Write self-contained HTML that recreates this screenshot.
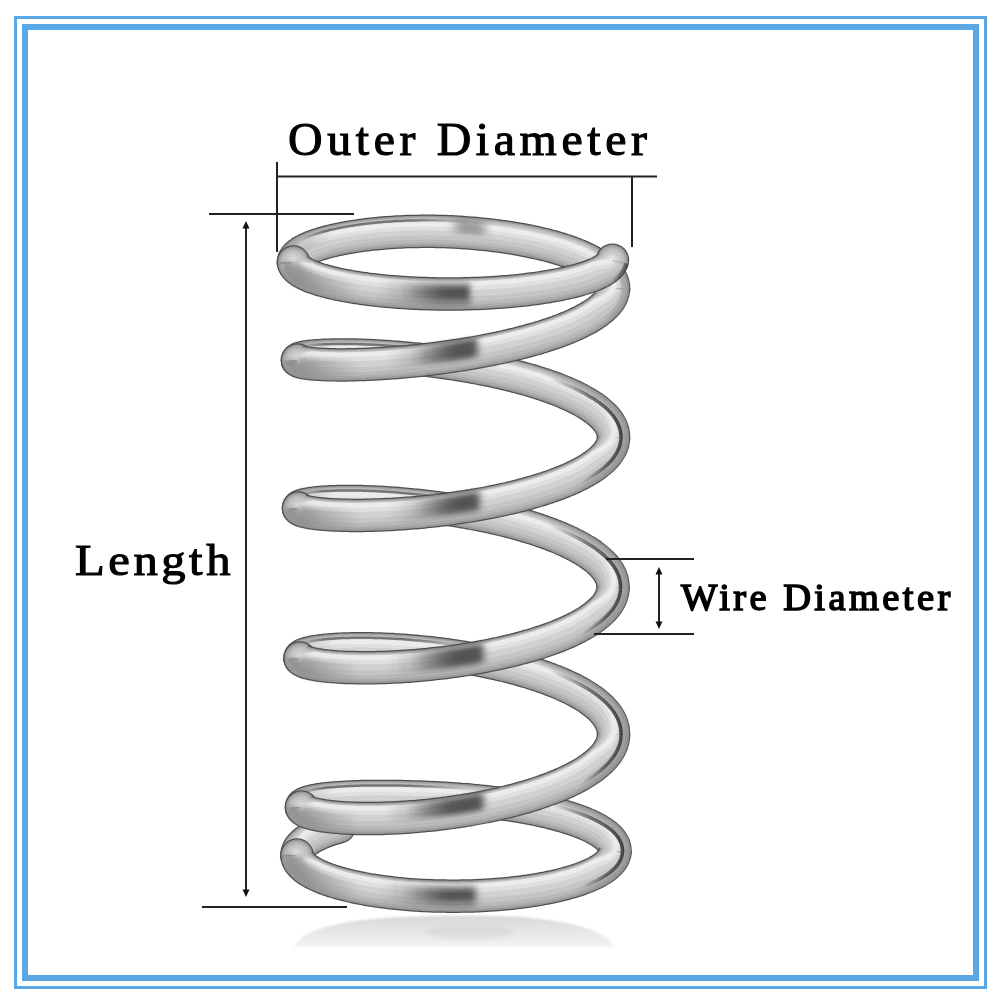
<!DOCTYPE html>
<html><head><meta charset="utf-8">
<style>
html,body{margin:0;padding:0;background:#fff;}
body{width:1000px;height:1000px;position:relative;overflow:hidden;}
.b1{position:absolute;left:14px;top:16px;width:967px;height:967px;border:3px solid #5aa9e6;}
.b2{position:absolute;left:22px;top:24px;width:945px;height:945px;border:6px solid #5aa9e6;}
.t{position:absolute;font-family:"Liberation Serif",serif;color:#000;white-space:nowrap;line-height:1;}
svg{position:absolute;left:0;top:0;}
</style></head><body>
<div class="b1"></div><div class="b2"></div>
<svg width="1000" height="1000" viewBox="0 0 1000 1000">
<defs><linearGradient id="g1" gradientUnits="userSpaceOnUse" x1="378" y1="0" x2="476" y2="0"><stop offset="0.000" stop-color="#3c3c3c" stop-opacity="0"/><stop offset="0.612" stop-color="#3c3c3c" stop-opacity="0.45"/><stop offset="0.898" stop-color="#3c3c3c" stop-opacity="0.45"/><stop offset="1.000" stop-color="#3c3c3c" stop-opacity="0"/></linearGradient><linearGradient id="g2" gradientUnits="userSpaceOnUse" x1="403" y1="0" x2="473" y2="0"><stop offset="0.000" stop-color="#3c3c3c" stop-opacity="0"/><stop offset="0.643" stop-color="#3c3c3c" stop-opacity="0.75"/><stop offset="0.886" stop-color="#3c3c3c" stop-opacity="0.75"/><stop offset="1.000" stop-color="#3c3c3c" stop-opacity="0"/></linearGradient><linearGradient id="g3" gradientUnits="userSpaceOnUse" x1="388" y1="0" x2="483" y2="0"><stop offset="0.000" stop-color="#3c3c3c" stop-opacity="0"/><stop offset="0.632" stop-color="#3c3c3c" stop-opacity="0.45"/><stop offset="0.895" stop-color="#3c3c3c" stop-opacity="0.45"/><stop offset="1.000" stop-color="#3c3c3c" stop-opacity="0"/></linearGradient><linearGradient id="g4" gradientUnits="userSpaceOnUse" x1="413" y1="0" x2="480" y2="0"><stop offset="0.000" stop-color="#3c3c3c" stop-opacity="0"/><stop offset="0.672" stop-color="#3c3c3c" stop-opacity="0.75"/><stop offset="0.881" stop-color="#3c3c3c" stop-opacity="0.75"/><stop offset="1.000" stop-color="#3c3c3c" stop-opacity="0"/></linearGradient><linearGradient id="g5" gradientUnits="userSpaceOnUse" x1="390" y1="0" x2="485" y2="0"><stop offset="0.000" stop-color="#3c3c3c" stop-opacity="0"/><stop offset="0.632" stop-color="#3c3c3c" stop-opacity="0.45"/><stop offset="0.895" stop-color="#3c3c3c" stop-opacity="0.45"/><stop offset="1.000" stop-color="#3c3c3c" stop-opacity="0"/></linearGradient><linearGradient id="g6" gradientUnits="userSpaceOnUse" x1="415" y1="0" x2="482" y2="0"><stop offset="0.000" stop-color="#3c3c3c" stop-opacity="0"/><stop offset="0.672" stop-color="#3c3c3c" stop-opacity="0.75"/><stop offset="0.881" stop-color="#3c3c3c" stop-opacity="0.75"/><stop offset="1.000" stop-color="#3c3c3c" stop-opacity="0"/></linearGradient><linearGradient id="g7" gradientUnits="userSpaceOnUse" x1="388" y1="0" x2="489" y2="0"><stop offset="0.000" stop-color="#3c3c3c" stop-opacity="0"/><stop offset="0.594" stop-color="#3c3c3c" stop-opacity="0.45"/><stop offset="0.901" stop-color="#3c3c3c" stop-opacity="0.45"/><stop offset="1.000" stop-color="#3c3c3c" stop-opacity="0"/></linearGradient><linearGradient id="g8" gradientUnits="userSpaceOnUse" x1="413" y1="0" x2="486" y2="0"><stop offset="0.000" stop-color="#3c3c3c" stop-opacity="0"/><stop offset="0.616" stop-color="#3c3c3c" stop-opacity="0.75"/><stop offset="0.890" stop-color="#3c3c3c" stop-opacity="0.75"/><stop offset="1.000" stop-color="#3c3c3c" stop-opacity="0"/></linearGradient><linearGradient id="g9" gradientUnits="userSpaceOnUse" x1="384" y1="0" x2="489" y2="0"><stop offset="0.000" stop-color="#3c3c3c" stop-opacity="0"/><stop offset="0.571" stop-color="#3c3c3c" stop-opacity="0.45"/><stop offset="0.905" stop-color="#3c3c3c" stop-opacity="0.45"/><stop offset="1.000" stop-color="#3c3c3c" stop-opacity="0"/></linearGradient><linearGradient id="g10" gradientUnits="userSpaceOnUse" x1="409" y1="0" x2="486" y2="0"><stop offset="0.000" stop-color="#3c3c3c" stop-opacity="0"/><stop offset="0.584" stop-color="#3c3c3c" stop-opacity="0.75"/><stop offset="0.896" stop-color="#3c3c3c" stop-opacity="0.75"/><stop offset="1.000" stop-color="#3c3c3c" stop-opacity="0"/></linearGradient><linearGradient id="g11" gradientUnits="userSpaceOnUse" x1="380" y1="0" x2="481" y2="0"><stop offset="0.000" stop-color="#3c3c3c" stop-opacity="0"/><stop offset="0.594" stop-color="#3c3c3c" stop-opacity="0.45"/><stop offset="0.901" stop-color="#3c3c3c" stop-opacity="0.45"/><stop offset="1.000" stop-color="#3c3c3c" stop-opacity="0"/></linearGradient><linearGradient id="g12" gradientUnits="userSpaceOnUse" x1="405" y1="0" x2="478" y2="0"><stop offset="0.000" stop-color="#3c3c3c" stop-opacity="0"/><stop offset="0.616" stop-color="#3c3c3c" stop-opacity="0.75"/><stop offset="0.890" stop-color="#3c3c3c" stop-opacity="0.75"/><stop offset="1.000" stop-color="#3c3c3c" stop-opacity="0"/></linearGradient><linearGradient id="g13" gradientUnits="userSpaceOnUse" x1="448" y1="0" x2="492" y2="0"><stop offset="0.000" stop-color="#555" stop-opacity="0"/><stop offset="0.318" stop-color="#555" stop-opacity="0.5"/><stop offset="0.682" stop-color="#555" stop-opacity="0.5"/><stop offset="1.000" stop-color="#555" stop-opacity="0"/></linearGradient><linearGradient id="g14" gradientUnits="userSpaceOnUse" x1="283" y1="0" x2="360" y2="0"><stop offset="0.000" stop-color="#6a6a6a" stop-opacity="0"/><stop offset="0.001" stop-color="#6a6a6a" stop-opacity="0.55"/><stop offset="0.221" stop-color="#6a6a6a" stop-opacity="0.55"/><stop offset="1.000" stop-color="#6a6a6a" stop-opacity="0"/></linearGradient><linearGradient id="g15" gradientUnits="userSpaceOnUse" x1="283" y1="0" x2="360" y2="0"><stop offset="0.000" stop-color="#6a6a6a" stop-opacity="0"/><stop offset="0.001" stop-color="#6a6a6a" stop-opacity="0.55"/><stop offset="0.221" stop-color="#6a6a6a" stop-opacity="0.55"/><stop offset="1.000" stop-color="#6a6a6a" stop-opacity="0"/></linearGradient><linearGradient id="g16" gradientUnits="userSpaceOnUse" x1="283" y1="0" x2="360" y2="0"><stop offset="0.000" stop-color="#6a6a6a" stop-opacity="0"/><stop offset="0.001" stop-color="#6a6a6a" stop-opacity="0.55"/><stop offset="0.221" stop-color="#6a6a6a" stop-opacity="0.55"/><stop offset="1.000" stop-color="#6a6a6a" stop-opacity="0"/></linearGradient><linearGradient id="g17" gradientUnits="userSpaceOnUse" x1="283" y1="0" x2="360" y2="0"><stop offset="0.000" stop-color="#6a6a6a" stop-opacity="0"/><stop offset="0.001" stop-color="#6a6a6a" stop-opacity="0.55"/><stop offset="0.221" stop-color="#6a6a6a" stop-opacity="0.55"/><stop offset="1.000" stop-color="#6a6a6a" stop-opacity="0"/></linearGradient><linearGradient id="g18" gradientUnits="userSpaceOnUse" x1="283" y1="0" x2="360" y2="0"><stop offset="0.000" stop-color="#6a6a6a" stop-opacity="0"/><stop offset="0.001" stop-color="#6a6a6a" stop-opacity="0.55"/><stop offset="0.221" stop-color="#6a6a6a" stop-opacity="0.55"/><stop offset="1.000" stop-color="#6a6a6a" stop-opacity="0"/></linearGradient><linearGradient id="g19" gradientUnits="userSpaceOnUse" x1="283" y1="0" x2="360" y2="0"><stop offset="0.000" stop-color="#6a6a6a" stop-opacity="0"/><stop offset="0.001" stop-color="#6a6a6a" stop-opacity="0.55"/><stop offset="0.221" stop-color="#6a6a6a" stop-opacity="0.55"/><stop offset="1.000" stop-color="#6a6a6a" stop-opacity="0"/></linearGradient><linearGradient id="g20" gradientUnits="userSpaceOnUse" x1="283" y1="0" x2="335" y2="0"><stop offset="0.000" stop-color="#6a6a6a" stop-opacity="0"/><stop offset="0.002" stop-color="#6a6a6a" stop-opacity="0.4"/><stop offset="0.135" stop-color="#6a6a6a" stop-opacity="0.4"/><stop offset="1.000" stop-color="#6a6a6a" stop-opacity="0"/></linearGradient><linearGradient id="g21" gradientUnits="userSpaceOnUse" x1="283" y1="0" x2="335" y2="0"><stop offset="0.000" stop-color="#6a6a6a" stop-opacity="0"/><stop offset="0.002" stop-color="#6a6a6a" stop-opacity="0.4"/><stop offset="0.135" stop-color="#6a6a6a" stop-opacity="0.4"/><stop offset="1.000" stop-color="#6a6a6a" stop-opacity="0"/></linearGradient><linearGradient id="g22" gradientUnits="userSpaceOnUse" x1="283" y1="0" x2="335" y2="0"><stop offset="0.000" stop-color="#6a6a6a" stop-opacity="0"/><stop offset="0.002" stop-color="#6a6a6a" stop-opacity="0.4"/><stop offset="0.135" stop-color="#6a6a6a" stop-opacity="0.4"/><stop offset="1.000" stop-color="#6a6a6a" stop-opacity="0"/></linearGradient><linearGradient id="g23" gradientUnits="userSpaceOnUse" x1="283" y1="0" x2="335" y2="0"><stop offset="0.000" stop-color="#6a6a6a" stop-opacity="0"/><stop offset="0.002" stop-color="#6a6a6a" stop-opacity="0.4"/><stop offset="0.135" stop-color="#6a6a6a" stop-opacity="0.4"/><stop offset="1.000" stop-color="#6a6a6a" stop-opacity="0"/></linearGradient><linearGradient id="g24" gradientUnits="userSpaceOnUse" x1="283" y1="0" x2="335" y2="0"><stop offset="0.000" stop-color="#6a6a6a" stop-opacity="0"/><stop offset="0.002" stop-color="#6a6a6a" stop-opacity="0.4"/><stop offset="0.135" stop-color="#6a6a6a" stop-opacity="0.4"/><stop offset="1.000" stop-color="#6a6a6a" stop-opacity="0"/></linearGradient><linearGradient id="g25" gradientUnits="userSpaceOnUse" x1="300" y1="0" x2="470" y2="0"><stop offset="0.000" stop-color="#505050" stop-opacity="0"/><stop offset="0.147" stop-color="#505050" stop-opacity="0.7"/><stop offset="0.647" stop-color="#505050" stop-opacity="0.7"/><stop offset="1.000" stop-color="#505050" stop-opacity="0"/></linearGradient><linearGradient id="g26" gradientUnits="userSpaceOnUse" x1="300" y1="0" x2="470" y2="0"><stop offset="0.000" stop-color="#505050" stop-opacity="0"/><stop offset="0.147" stop-color="#505050" stop-opacity="0.7"/><stop offset="0.647" stop-color="#505050" stop-opacity="0.7"/><stop offset="1.000" stop-color="#505050" stop-opacity="0"/></linearGradient><linearGradient id="g27" gradientUnits="userSpaceOnUse" x1="300" y1="0" x2="470" y2="0"><stop offset="0.000" stop-color="#505050" stop-opacity="0"/><stop offset="0.147" stop-color="#505050" stop-opacity="0.7"/><stop offset="0.647" stop-color="#505050" stop-opacity="0.7"/><stop offset="1.000" stop-color="#505050" stop-opacity="0"/></linearGradient><linearGradient id="g28" gradientUnits="userSpaceOnUse" x1="300" y1="0" x2="470" y2="0"><stop offset="0.000" stop-color="#505050" stop-opacity="0"/><stop offset="0.147" stop-color="#505050" stop-opacity="0.7"/><stop offset="0.647" stop-color="#505050" stop-opacity="0.7"/><stop offset="1.000" stop-color="#505050" stop-opacity="0"/></linearGradient><linearGradient id="g29" gradientUnits="userSpaceOnUse" x1="300" y1="0" x2="470" y2="0"><stop offset="0.000" stop-color="#505050" stop-opacity="0"/><stop offset="0.147" stop-color="#505050" stop-opacity="0.7"/><stop offset="0.647" stop-color="#505050" stop-opacity="0.7"/><stop offset="1.000" stop-color="#505050" stop-opacity="0"/></linearGradient><linearGradient id="g30" gradientUnits="userSpaceOnUse" x1="540" y1="0" x2="628" y2="0"><stop offset="0.006" stop-color="#8a8a8a" stop-opacity="0"/><stop offset="0.503" stop-color="#8a8a8a" stop-opacity="0.42"/><stop offset="0.989" stop-color="#8a8a8a" stop-opacity="0.6"/></linearGradient><linearGradient id="g31" gradientUnits="userSpaceOnUse" x1="575" y1="0" x2="628" y2="0"><stop offset="0.013" stop-color="#8a8a8a" stop-opacity="0"/><stop offset="0.507" stop-color="#8a8a8a" stop-opacity="0.42"/><stop offset="0.981" stop-color="#8a8a8a" stop-opacity="0.6"/></linearGradient><linearGradient id="g32" gradientUnits="userSpaceOnUse" x1="550" y1="0" x2="628" y2="0"><stop offset="0.005" stop-color="#2a2a2a" stop-opacity="0"/><stop offset="0.503" stop-color="#2a2a2a" stop-opacity="0.595"/><stop offset="0.987" stop-color="#2a2a2a" stop-opacity="0.85"/></linearGradient><linearGradient id="g33" gradientUnits="userSpaceOnUse" x1="582" y1="0" x2="628" y2="0"><stop offset="0.006" stop-color="#2a2a2a" stop-opacity="0"/><stop offset="0.503" stop-color="#2a2a2a" stop-opacity="0.595"/><stop offset="0.978" stop-color="#2a2a2a" stop-opacity="0.85"/></linearGradient><linearGradient id="g34" gradientUnits="userSpaceOnUse" x1="540" y1="0" x2="628" y2="0"><stop offset="0.006" stop-color="#8a8a8a" stop-opacity="0"/><stop offset="0.503" stop-color="#8a8a8a" stop-opacity="0.42"/><stop offset="0.989" stop-color="#8a8a8a" stop-opacity="0.6"/></linearGradient><linearGradient id="g35" gradientUnits="userSpaceOnUse" x1="575" y1="0" x2="628" y2="0"><stop offset="0.013" stop-color="#8a8a8a" stop-opacity="0"/><stop offset="0.507" stop-color="#8a8a8a" stop-opacity="0.42"/><stop offset="0.981" stop-color="#8a8a8a" stop-opacity="0.6"/></linearGradient><linearGradient id="g36" gradientUnits="userSpaceOnUse" x1="550" y1="0" x2="628" y2="0"><stop offset="0.005" stop-color="#2a2a2a" stop-opacity="0"/><stop offset="0.503" stop-color="#2a2a2a" stop-opacity="0.595"/><stop offset="0.987" stop-color="#2a2a2a" stop-opacity="0.85"/></linearGradient><linearGradient id="g37" gradientUnits="userSpaceOnUse" x1="582" y1="0" x2="628" y2="0"><stop offset="0.006" stop-color="#2a2a2a" stop-opacity="0"/><stop offset="0.503" stop-color="#2a2a2a" stop-opacity="0.595"/><stop offset="0.978" stop-color="#2a2a2a" stop-opacity="0.85"/></linearGradient><linearGradient id="g38" gradientUnits="userSpaceOnUse" x1="540" y1="0" x2="628" y2="0"><stop offset="0.006" stop-color="#8a8a8a" stop-opacity="0"/><stop offset="0.503" stop-color="#8a8a8a" stop-opacity="0.42"/><stop offset="0.989" stop-color="#8a8a8a" stop-opacity="0.6"/></linearGradient><linearGradient id="g39" gradientUnits="userSpaceOnUse" x1="575" y1="0" x2="628" y2="0"><stop offset="0.013" stop-color="#8a8a8a" stop-opacity="0"/><stop offset="0.507" stop-color="#8a8a8a" stop-opacity="0.42"/><stop offset="0.981" stop-color="#8a8a8a" stop-opacity="0.6"/></linearGradient><linearGradient id="g40" gradientUnits="userSpaceOnUse" x1="550" y1="0" x2="628" y2="0"><stop offset="0.005" stop-color="#2a2a2a" stop-opacity="0"/><stop offset="0.503" stop-color="#2a2a2a" stop-opacity="0.595"/><stop offset="0.987" stop-color="#2a2a2a" stop-opacity="0.85"/></linearGradient><linearGradient id="g41" gradientUnits="userSpaceOnUse" x1="582" y1="0" x2="628" y2="0"><stop offset="0.006" stop-color="#2a2a2a" stop-opacity="0"/><stop offset="0.503" stop-color="#2a2a2a" stop-opacity="0.595"/><stop offset="0.978" stop-color="#2a2a2a" stop-opacity="0.85"/></linearGradient><linearGradient id="g42" gradientUnits="userSpaceOnUse" x1="540" y1="0" x2="628" y2="0"><stop offset="0.006" stop-color="#8a8a8a" stop-opacity="0"/><stop offset="0.503" stop-color="#8a8a8a" stop-opacity="0.42"/><stop offset="0.989" stop-color="#8a8a8a" stop-opacity="0.6"/></linearGradient><linearGradient id="g43" gradientUnits="userSpaceOnUse" x1="575" y1="0" x2="628" y2="0"><stop offset="0.013" stop-color="#8a8a8a" stop-opacity="0"/><stop offset="0.507" stop-color="#8a8a8a" stop-opacity="0.42"/><stop offset="0.981" stop-color="#8a8a8a" stop-opacity="0.6"/></linearGradient><linearGradient id="g44" gradientUnits="userSpaceOnUse" x1="550" y1="0" x2="628" y2="0"><stop offset="0.005" stop-color="#2a2a2a" stop-opacity="0"/><stop offset="0.503" stop-color="#2a2a2a" stop-opacity="0.595"/><stop offset="0.987" stop-color="#2a2a2a" stop-opacity="0.85"/></linearGradient><linearGradient id="g45" gradientUnits="userSpaceOnUse" x1="582" y1="0" x2="628" y2="0"><stop offset="0.006" stop-color="#2a2a2a" stop-opacity="0"/><stop offset="0.503" stop-color="#2a2a2a" stop-opacity="0.595"/><stop offset="0.978" stop-color="#2a2a2a" stop-opacity="0.85"/></linearGradient><linearGradient id="g46" gradientUnits="userSpaceOnUse" x1="585" y1="0" x2="628" y2="0"><stop offset="0.017" stop-color="#8a8a8a" stop-opacity="0"/><stop offset="0.508" stop-color="#8a8a8a" stop-opacity="0.27999999999999997"/><stop offset="0.977" stop-color="#8a8a8a" stop-opacity="0.4"/></linearGradient><linearGradient id="g47" gradientUnits="userSpaceOnUse" x1="602" y1="0" x2="628" y2="0"><stop offset="0.028" stop-color="#8a8a8a" stop-opacity="0"/><stop offset="0.514" stop-color="#8a8a8a" stop-opacity="0.27999999999999997"/><stop offset="0.962" stop-color="#8a8a8a" stop-opacity="0.4"/></linearGradient><linearGradient id="g48" gradientUnits="userSpaceOnUse" x1="611" y1="0" x2="628" y2="0"><stop offset="0.033" stop-color="#2a2a2a" stop-opacity="0"/><stop offset="0.517" stop-color="#2a2a2a" stop-opacity="0.42"/><stop offset="0.941" stop-color="#2a2a2a" stop-opacity="0.6"/></linearGradient><filter id="rb" filterUnits="userSpaceOnUse" x="0" y="0" width="1000" height="1000"><feGaussianBlur stdDeviation="1.2"/></filter><filter id="bl" filterUnits="userSpaceOnUse" x="0" y="0" width="1000" height="1000"><feGaussianBlur stdDeviation="2.5"/></filter><filter id="sb" filterUnits="userSpaceOnUse" x="0" y="0" width="1000" height="1000"><feGaussianBlur stdDeviation="0.5"/></filter></defs><linearGradient id="rg" x1="0" y1="0" x2="0" y2="1"><stop offset="0" stop-color="#d8d8d8"/><stop offset="0.5" stop-color="#e6e6e6"/><stop offset="1" stop-color="#f4f4f4"/></linearGradient><path d="M294 947C300 930 340 920 400 917C440 915 480 915 520 917C570 921 605 930 615 947Z" fill="url(#rg)" filter="url(#rb)"/><ellipse cx="470" cy="932" rx="45" ry="7" fill="#d0d0d0" opacity="0.5" filter="url(#bl)"/><g fill="none" stroke-linecap="butt" stroke-linejoin="round" filter="url(#sb)"><circle cx="339.4" cy="826.7" r="16.75" fill="#505050"/><circle cx="339.4" cy="826.7" r="15.5" fill="#9a9a9a"/><circle cx="339.3" cy="826.4" r="14.0" fill="#ababab"/><circle cx="339.2" cy="825.7" r="12.5" fill="#b9b9b9"/><circle cx="338.9" cy="824.7" r="10.5" fill="#c5c5c5"/><circle cx="338.5" cy="823.3" r="7.5" fill="#d1d1d1"/><circle cx="337.9" cy="821.3" r="4.5" fill="#e0e0e0"/><circle cx="337.5" cy="820" r="2.25" fill="#ececec"/><path d="M297.1 856.4L297 855.7 297 855 297 854.3 297.1 853.6 297.2 852.8 297.4 852.1 297.6 851.4 297.9 850.7 298.2 850 298.5 849.2 298.9 848.5 299.4 847.8 299.9 847.1 300.5 846.4 301 845.7 301.7 845 302.4 844.3 303.1 843.6 303.9 842.9 304.7 842.2 305.6 841.5 306.5 840.8 307.5 840.2 308.5 839.5 309.6 838.8 310.7 838.1 311.8 837.5 313 836.8 314.2 836.2 315.5 835.5 316.8 834.9 318.2 834.3 319.6 833.6 321 833 322.5 832.4 324 831.8 325.6 831.2 327.2 830.6 328.8 830 330.5 829.5 332.2 828.9 334 828.3 335.8 827.8 337.6 827.2 339.4 826.7" stroke="#505050" stroke-width="33.5"/><path d="M297.1 856.4L297 855.7 297 855 297 854.3 297.1 853.6 297.2 852.8 297.4 852.1 297.6 851.4 297.9 850.7 298.2 850 298.5 849.2 298.9 848.5 299.4 847.8 299.9 847.1 300.5 846.4 301 845.7 301.7 845 302.4 844.3 303.1 843.6 303.9 842.9 304.7 842.2 305.6 841.5 306.5 840.8 307.5 840.2 308.5 839.5 309.6 838.8 310.7 838.1 311.8 837.5 313 836.8 314.2 836.2 315.5 835.5 316.8 834.9 318.2 834.3 319.6 833.6 321 833 322.5 832.4 324 831.8 325.6 831.2 327.2 830.6 328.8 830 330.5 829.5 332.2 828.9 334 828.3 335.8 827.8 337.6 827.2 339.4 826.7" stroke="#9a9a9a" stroke-width="31"/><path d="M297.2 856.4L297.1 855.7 297 855 297 854.3 297.1 853.6 297.2 852.8 297.3 852.1 297.5 851.4 297.8 850.6 298.1 849.9 298.4 849.2 298.8 848.5 299.3 847.7 299.8 847 300.3 846.3 300.9 845.6 301.5 844.8 302.2 844.1 303 843.4 303.7 842.7 304.6 842 305.4 841.3 306.4 840.6 307.3 839.9 308.3 839.2 309.4 838.5 310.5 837.8 311.6 837.2 312.8 836.5 314.1 835.9 315.3 835.2 316.7 834.6 318 834 319.4 833.3 320.9 832.7 322.4 832.1 323.9 831.5 325.5 830.9 327.1 830.3 328.7 829.7 330.4 829.1 332.1 828.6 333.9 828 335.7 827.4 337.5 826.9 339.3 826.4" stroke="#ababab" stroke-width="28"/><path d="M297.2 856.4L297.1 855.7 297 855 297 854.3 297 853.5 297.1 852.8 297.2 852.1 297.4 851.3 297.6 850.6 297.9 849.8 298.2 849.1 298.6 848.3 299 847.6 299.5 846.8 300 846.1 300.6 845.3 301.2 844.6 301.9 843.8 302.6 843.1 303.4 842.3 304.2 841.6 305.1 840.8 306 840.1 307 839.4 308 838.7 309 837.9 310.1 837.2 311.3 836.6 312.5 835.9 313.7 835.2 315 834.6 316.4 834 317.7 833.3 319.1 832.7 320.6 832.1 322.1 831.4 323.6 830.8 325.2 830.2 326.8 829.6 328.5 829 330.2 828.5 331.9 827.9 333.7 827.3 335.5 826.8 337.3 826.2 339.2 825.7" stroke="#b9b9b9" stroke-width="25"/><path d="M297.4 856.4L297.2 855.7 297 855 296.9 854.3 296.9 853.5 296.9 852.8 297 852 297.2 851.3 297.4 850.5 297.6 849.7 297.9 848.9 298.2 848.1 298.6 847.3 299.1 846.5 299.6 845.7 300.2 844.9 300.8 844.1 301.4 843.3 302.1 842.5 302.9 841.7 303.7 840.9 304.6 840.2 305.5 839.4 306.4 838.6 307.4 837.8 308.5 837.1 309.6 836.3 310.8 835.7 312 835 313.3 834.3 314.6 833.7 315.9 833 317.3 832.4 318.7 831.7 320.2 831.1 321.7 830.5 323.2 829.9 324.8 829.2 326.5 828.6 328.1 828.1 329.8 827.5 331.6 826.9 333.3 826.3 335.1 825.8 337 825.2 338.9 824.7" stroke="#c5c5c5" stroke-width="21"/><path d="M297.5 856.4L297.3 855.7 297 855 296.9 854.3 296.8 853.5 296.8 852.7 296.8 852 296.9 851.2 297 850.3 297.2 849.5 297.5 848.7 297.8 847.8 298.1 847 298.6 846.1 299 845.3 299.6 844.4 300.2 843.5 300.8 842.7 301.5 841.8 302.2 841 303 840.1 303.9 839.3 304.8 838.4 305.7 837.6 306.7 836.7 307.8 835.9 308.9 835.1 310.1 834.4 311.3 833.8 312.6 833.1 313.9 832.4 315.3 831.7 316.7 831.1 318.2 830.4 319.6 829.8 321.2 829.2 322.7 828.5 324.3 827.9 326 827.3 327.7 826.7 329.4 826.1 331.1 825.6 332.9 825 334.7 824.4 336.6 823.9 338.5 823.3" stroke="#d1d1d1" stroke-width="15"/><path d="M297.8 856.3L297.4 855.7 297 855 296.8 854.3 296.6 853.5 296.5 852.7 296.4 851.9 296.4 851 296.5 850.1 296.6 849.2 296.8 848.3 297.1 847.4 297.4 846.5 297.8 845.5 298.2 844.6 298.7 843.6 299.2 842.7 299.8 841.7 300.5 840.7 301.2 839.8 302 838.8 302.8 837.9 303.7 837 304.7 836 305.6 835.1 306.7 834.2 307.8 833.3 309.1 832.6 310.3 831.9 311.7 831.2 313 830.5 314.4 829.8 315.8 829.2 317.3 828.5 318.8 827.9 320.4 827.2 322 826.6 323.6 826 325.3 825.4 327 824.7 328.7 824.2 330.5 823.6 332.3 823 334.1 822.4 336 821.9 337.9 821.3" stroke="#e0e0e0" stroke-width="9"/><path d="M298 856.3L297.5 855.7 297 855 296.7 854.3 296.5 853.5 296.3 852.7 296.2 851.8 296.2 850.9 296.2 850 296.2 849.1 296.4 848.1 296.6 847.1 296.9 846.1 297.2 845.1 297.6 844.1 298.1 843.1 298.6 842.1 299.2 841.1 299.9 840 300.6 839 301.3 838 302.2 837 303 836 304 835 304.9 834 306 833 307.1 832.1 308.4 831.4 309.7 830.7 311 830 312.4 829.3 313.8 828.6 315.3 827.9 316.8 827.2 318.3 826.6 319.9 825.9 321.5 825.3 323.1 824.7 324.8 824 326.5 823.4 328.3 822.8 330 822.2 331.9 821.7 333.7 821.1 335.6 820.5 337.5 820" stroke="#ececec" stroke-width="4.5"/><path d="M301.6 807.6L301.5 807.3 301.5 807 301.5 806.7 301.6 806.4 301.7 806.1 301.8 805.7 302 805.4 302.3 805.1 302.6 804.8 302.9 804.6 303.3 804.3 303.8 804 304.3 803.7 304.8 803.4 305.4 803.1 306 802.9 306.7 802.6 307.4 802.4 308.2 802.1 309 801.9 309.8 801.6 310.8 801.4 311.7 801.1 312.7 800.9 313.7 800.7 314.8 800.5 316 800.3 317.1 800 318.3 799.8 319.6 799.6 320.9 799.5 322.3 799.3 323.6 799.1 325.1 798.9 326.5 798.7 328 798.6 329.6 798.4 331.2 798.3 332.8 798.1 334.5 798 336.2 797.8 337.9 797.7 339.7 797.6 341.5 797.5 343.3 797.4 345.2 797.3 347.2 797.2 349.1 797.1 351.1 797 353.1 796.9 355.2 796.8 357.2 796.8 359.4 796.7 361.5 796.6 363.7 796.6 365.9 796.5 368.1 796.5 370.4 796.5 372.7 796.5 375 796.4 377.3 796.4 379.7 796.4 382.1 796.4 384.5 796.4 386.9 796.4 389.3 796.5 391.8 796.5 394.3 796.5 396.8 796.6 399.4 796.6 401.9 796.6 404.5 796.7 407.1 796.8 409.7 796.8 412.3 796.9 414.9 797 417.6 797.1 420.2 797.1 422.9 797.2 425.6 797.3 428.3 797.4 431 797.6 433.7 797.7 436.4 797.8 439.1 797.9 441.8 798.1 444.5 798.2 447.3 798.4 450 798.6 452.8 798.8 455.5 798.9 458.3 799.1 461 799.4 463.7 799.6 466.5 799.8 469.2 800 472 800.3 474.7 800.6 477.4 800.8 480.1 801.1 482.8 801.4 485.5 801.7 488.2 802 490.9 802.3 493.6 802.6 496.3 803 498.9 803.3 501.6 803.7 504.2 804 506.8 804.4 509.4 804.8 512 805.2 514.6 805.6 517.1 806 519.7 806.4 522.2 806.9 524.7 807.3 527.2 807.8 529.6 808.2 532 808.7 534.4 809.2 536.8 809.6 539.2 810.1 541.5 810.6 543.8 811.2 546.1 811.7 548.4 812.2 550.6 812.8 552.8 813.3 555 813.9 557.1 814.4 559.3 815 561.3 815.6 563.4 816.2 565.4 816.8 567.4 817.4 569.3 818 571.3 818.6 573.2 819.2 575 819.9 576.8 820.5 578.6 821.1 580.3 821.8 582 822.5 583.7 823.1 585.3 823.8 586.9 824.5 588.5 825.2 590 825.9 591.4 826.6 592.9 827.3 594.2 828 595.6 828.7 596.9 829.4 598.2 830.1 599.4 830.9 600.5 831.6 601.7 832.3 602.8 833.1 603.8 833.8 604.8 834.6 605.7 835.3 606.7 836.1 607.5 836.9 608.3 837.6 609.1 838.4 609.8 839.2 610.5 840 611.1 840.7 611.7 841.5 612.2 842.3 612.7 843.1 613.2 843.9 613.6 844.7 613.9 845.4 614.2 846.2 614.5 847 614.7 847.8 614.8 848.6 614.9 849.4 615 850.2 615 851 615 851.8 614.9 852.6" stroke="#505050" stroke-width="33.5"/><path d="M301.6 807.6L301.5 807.3 301.5 807 301.5 806.7 301.6 806.4 301.7 806.1 301.8 805.7 302 805.4 302.3 805.1 302.6 804.8 302.9 804.6 303.3 804.3 303.8 804 304.3 803.7 304.8 803.4 305.4 803.1 306 802.9 306.7 802.6 307.4 802.4 308.2 802.1 309 801.9 309.8 801.6 310.8 801.4 311.7 801.1 312.7 800.9 313.7 800.7 314.8 800.5 316 800.3 317.1 800 318.3 799.8 319.6 799.6 320.9 799.5 322.3 799.3 323.6 799.1 325.1 798.9 326.5 798.7 328 798.6 329.6 798.4 331.2 798.3 332.8 798.1 334.5 798 336.2 797.8 337.9 797.7 339.7 797.6 341.5 797.5 343.3 797.4 345.2 797.3 347.2 797.2 349.1 797.1 351.1 797 353.1 796.9 355.2 796.8 357.2 796.8 359.4 796.7 361.5 796.6 363.7 796.6 365.9 796.5 368.1 796.5 370.4 796.5 372.7 796.5 375 796.4 377.3 796.4 379.7 796.4 382.1 796.4 384.5 796.4 386.9 796.4 389.3 796.5 391.8 796.5 394.3 796.5 396.8 796.6 399.4 796.6 401.9 796.6 404.5 796.7 407.1 796.8 409.7 796.8 412.3 796.9 414.9 797 417.6 797.1 420.2 797.1 422.9 797.2 425.6 797.3 428.3 797.4 431 797.6 433.7 797.7 436.4 797.8 439.1 797.9 441.8 798.1 444.5 798.2 447.3 798.4 450 798.6 452.8 798.8 455.5 798.9 458.3 799.1 461 799.4 463.7 799.6 466.5 799.8 469.2 800 472 800.3 474.7 800.6 477.4 800.8 480.1 801.1 482.8 801.4 485.5 801.7 488.2 802 490.9 802.3 493.6 802.6 496.3 803 498.9 803.3 501.6 803.7 504.2 804 506.8 804.4 509.4 804.8 512 805.2 514.6 805.6 517.1 806 519.7 806.4 522.2 806.9 524.7 807.3 527.2 807.8 529.6 808.2 532 808.7 534.4 809.2 536.8 809.6 539.2 810.1 541.5 810.6 543.8 811.2 546.1 811.7 548.4 812.2 550.6 812.8 552.8 813.3 555 813.9 557.1 814.4 559.3 815 561.3 815.6 563.4 816.2 565.4 816.8 567.4 817.4 569.3 818 571.3 818.6 573.2 819.2 575 819.9 576.8 820.5 578.6 821.1 580.3 821.8 582 822.5 583.7 823.1 585.3 823.8 586.9 824.5 588.5 825.2 590 825.9 591.4 826.6 592.9 827.3 594.2 828 595.6 828.7 596.9 829.4 598.2 830.1 599.4 830.9 600.5 831.6 601.7 832.3 602.8 833.1 603.8 833.8 604.8 834.6 605.7 835.3 606.7 836.1 607.5 836.9 608.3 837.6 609.1 838.4 609.8 839.2 610.5 840 611.1 840.7 611.7 841.5 612.2 842.3 612.7 843.1 613.2 843.9 613.6 844.7 613.9 845.4 614.2 846.2 614.5 847 614.7 847.8 614.8 848.6 614.9 849.4 615 850.2 615 851 615 851.8 614.9 852.6" stroke="#9a9a9a" stroke-width="31"/><path d="M301.6 807.6L301.5 807.3 301.5 807 301.5 806.7 301.5 806.4 301.6 806 301.8 805.7 302 805.4 302.2 805.1 302.5 804.8 302.9 804.5 303.2 804.1 303.7 803.8 304.2 803.5 304.7 803.3 305.3 803 305.9 802.7 306.6 802.4 307.3 802.1 308.1 801.9 308.9 801.6 309.8 801.3 310.7 801.1 311.6 800.8 312.6 800.6 313.7 800.4 314.8 800.1 315.9 799.9 317.1 799.7 318.3 799.5 319.6 799.3 320.9 799.1 322.2 798.9 323.6 798.7 325 798.6 326.5 798.4 328 798.2 329.6 798.1 331.1 797.9 332.8 797.8 334.4 797.6 336.1 797.5 337.9 797.4 339.7 797.2 341.5 797.1 343.3 797 345.2 796.9 347.1 796.8 349.1 796.7 351.1 796.6 353.1 796.5 355.2 796.5 357.2 796.4 359.3 796.3 361.5 796.3 363.7 796.2 365.9 796.2 368.1 796.2 370.4 796.1 372.7 796.1 375 796.1 377.3 796.1 379.7 796.1 382.1 796.1 384.5 796.1 386.9 796.1 389.4 796.1 391.8 796.1 394.3 796.2 396.8 796.2 399.4 796.2 401.9 796.3 404.5 796.3 407.1 796.4 409.7 796.5 412.3 796.5 414.9 796.6 417.6 796.7 420.2 796.8 422.9 796.9 425.6 797 428.3 797.1 431 797.2 433.7 797.3 436.4 797.5 439.1 797.6 441.8 797.7 444.6 797.9 447.3 798 450 798.2 452.8 798.4 455.5 798.6 458.3 798.8 461 799 463.8 799.2 466.5 799.5 469.2 799.7 472 799.9 474.7 800.2 477.4 800.5 480.2 800.7 482.9 801 485.6 801.3 488.3 801.6 491 802 493.7 802.3 496.3 802.6 499 803 501.6 803.3 504.3 803.7 506.9 804.1 509.5 804.4 512.1 804.8 514.6 805.2 517.2 805.7 519.7 806.1 522.2 806.5 524.7 807 527.2 807.4 529.7 807.9 532.1 808.3 534.5 808.8 536.9 809.3 539.3 809.8 541.6 810.3 543.9 810.8 546.2 811.3 548.5 811.9 550.7 812.4 552.9 813 555.1 813.5 557.2 814.1 559.3 814.7 561.4 815.2 563.5 815.8 565.5 816.4 567.5 817 569.5 817.6 571.4 818.3 573.3 818.9 575.1 819.5 576.9 820.2 578.7 820.8 580.5 821.5 582.2 822.1 583.8 822.8 585.5 823.5 587.1 824.2 588.6 824.9 590.1 825.5 591.6 826.3 593 827 594.4 827.7 595.8 828.4 597.1 829.1 598.3 829.8 599.6 830.6 600.7 831.3 601.9 832.1 603 832.8 604 833.6 605 834.3 605.9 835.1 606.8 835.9 607.7 836.7 608.5 837.5 609.3 838.2 610 839 610.7 839.8 611.3 840.6 611.9 841.4 612.4 842.2 612.9 843 613.3 843.8 613.7 844.6 614 845.4 614.3 846.2 614.5 847 614.7 847.8 614.9 848.6 615 849.4 615 850.2 615 851 614.9 851.8 614.8 852.6" stroke="#ababab" stroke-width="28"/><path d="M301.7 807.6L301.6 807.3 301.5 807 301.5 806.7 301.5 806.3 301.5 806 301.7 805.7 301.8 805.3 302.1 805 302.4 804.6 302.7 804.3 303.1 803.9 303.5 803.6 304 803.3 304.5 802.9 305.1 802.6 305.8 802.3 306.4 802 307.2 801.7 307.9 801.4 308.8 801.1 309.6 800.8 310.5 800.5 311.5 800.2 312.5 800 313.5 799.7 314.6 799.4 315.8 799.2 317 799 318.2 798.8 319.4 798.6 320.8 798.4 322.1 798.2 323.5 798 324.9 797.9 326.4 797.7 327.9 797.5 329.5 797.4 331.1 797.2 332.7 797.1 334.4 796.9 336.1 796.8 337.8 796.7 339.6 796.5 341.4 796.4 343.3 796.3 345.2 796.2 347.1 796.1 349.1 796 351 795.9 353.1 795.8 355.1 795.8 357.2 795.7 359.3 795.6 361.5 795.6 363.7 795.5 365.9 795.5 368.1 795.5 370.4 795.4 372.6 795.4 375 795.4 377.3 795.4 379.7 795.4 382.1 795.4 384.5 795.4 386.9 795.4 389.4 795.4 391.8 795.4 394.3 795.5 396.9 795.5 399.4 795.5 401.9 795.6 404.5 795.6 407.1 795.7 409.7 795.8 412.3 795.8 415 795.9 417.6 796 420.3 796.1 422.9 796.2 425.6 796.3 428.3 796.4 431 796.5 433.7 796.6 436.4 796.8 439.1 796.9 441.9 797 444.6 797.2 447.3 797.4 450.1 797.5 452.8 797.7 455.6 797.9 458.3 798.1 461.1 798.3 463.8 798.5 466.6 798.8 469.3 799 472 799.2 474.8 799.5 477.5 799.8 480.2 800.1 483 800.3 485.7 800.6 488.4 800.9 491.1 801.3 493.7 801.6 496.4 801.9 499.1 802.3 501.7 802.6 504.4 803 507 803.4 509.6 803.8 512.2 804.1 514.7 804.6 517.3 805 519.8 805.4 522.4 805.8 524.9 806.3 527.3 806.7 529.8 807.2 532.2 807.6 534.7 808.1 537 808.6 539.4 809.1 541.8 809.6 544.1 810.1 546.4 810.7 548.6 811.2 550.9 811.7 553.1 812.3 555.3 812.8 557.4 813.4 559.5 814 561.6 814.6 563.7 815.2 565.7 815.8 567.7 816.4 569.7 817 571.6 817.6 573.5 818.2 575.3 818.9 577.2 819.5 579 820.2 580.7 820.8 582.4 821.5 584.1 822.2 585.7 822.8 587.3 823.5 588.9 824.2 590.4 824.9 591.9 825.6 593.3 826.3 594.7 827 596.1 827.8 597.4 828.5 598.7 829.2 599.9 830 601.1 830.7 602.3 831.5 603.3 832.2 604.4 833 605.4 833.8 606.3 834.7 607.2 835.5 608.1 836.3 608.9 837.1 609.6 837.9 610.3 838.7 611 839.5 611.6 840.4 612.2 841.2 612.7 842 613.1 842.8 613.5 843.7 613.9 844.5 614.2 845.3 614.5 846.1 614.7 847 614.8 847.8 615 848.6 615 849.4 615 850.2 615 851 614.9 851.8 614.8 852.6" stroke="#b9b9b9" stroke-width="25"/><path d="M301.8 807.6L301.6 807.3 301.5 807 301.4 806.7 301.4 806.3 301.4 805.9 301.5 805.6 301.7 805.2 301.9 804.8 302.1 804.4 302.5 804 302.9 803.6 303.3 803.2 303.8 802.8 304.3 802.4 304.9 802.1 305.5 801.7 306.2 801.3 306.9 801 307.7 800.6 308.5 800.3 309.4 800 310.3 799.6 311.3 799.3 312.3 799 313.3 798.7 314.4 798.4 315.6 798.2 316.8 798 318 797.8 319.3 797.6 320.6 797.4 322 797.2 323.4 797 324.8 796.8 326.3 796.6 327.8 796.5 329.4 796.3 331 796.2 332.6 796 334.3 795.9 336 795.7 337.8 795.6 339.5 795.5 341.4 795.4 343.2 795.3 345.1 795.2 347 795.1 349 795 351 794.9 353 794.8 355.1 794.7 357.2 794.7 359.3 794.6 361.5 794.5 363.6 794.5 365.8 794.4 368.1 794.4 370.3 794.4 372.6 794.4 375 794.3 377.3 794.3 379.7 794.3 382.1 794.3 384.5 794.3 386.9 794.3 389.4 794.4 391.8 794.4 394.3 794.4 396.9 794.5 399.4 794.5 402 794.5 404.5 794.6 407.1 794.7 409.7 794.7 412.4 794.8 415 794.9 417.6 795 420.3 795.1 423 795.1 425.6 795.2 428.3 795.4 431 795.5 433.8 795.6 436.5 795.7 439.2 795.8 441.9 796 444.7 796.1 447.4 796.3 450.2 796.5 452.9 796.7 455.7 796.8 458.4 797.1 461.2 797.3 463.9 797.5 466.7 797.7 469.4 798 472.1 798.2 474.9 798.5 477.6 798.7 480.3 799 483.1 799.3 485.8 799.6 488.5 799.9 491.2 800.2 493.9 800.5 496.5 800.9 499.2 801.2 501.9 801.6 504.5 802 507.1 802.3 509.7 802.7 512.3 803.1 514.9 803.5 517.5 803.9 520 804.4 522.5 804.8 525 805.2 527.5 805.7 530 806.1 532.4 806.6 534.9 807.1 537.3 807.6 539.6 808.1 542 808.6 544.3 809.1 546.6 809.6 548.9 810.2 551.1 810.7 553.3 811.3 555.5 811.8 557.7 812.4 559.8 813 561.9 813.6 564 814.1 566 814.7 568 815.4 570 816 571.9 816.6 573.8 817.2 575.7 817.9 577.5 818.5 579.3 819.2 581.1 819.8 582.8 820.5 584.5 821.2 586.1 821.9 587.8 822.6 589.3 823.3 590.9 824 592.4 824.7 593.8 825.4 595.2 826.1 596.6 826.8 597.9 827.6 599.2 828.3 600.5 829.1 601.7 829.8 602.8 830.6 603.9 831.4 605 832.3 605.9 833.1 606.9 834 607.8 834.8 608.6 835.7 609.4 836.5 610.1 837.4 610.8 838.3 611.5 839.1 612.1 840 612.6 840.9 613.1 841.7 613.5 842.6 613.9 843.5 614.2 844.3 614.5 845.2 614.7 846.1 614.9 846.9 615 847.7 615.1 848.6 615.1 849.4 615.1 850.2 615 851 614.8 851.8 614.6 852.6" stroke="#c5c5c5" stroke-width="21"/><path d="M302 807.5L301.7 807.3 301.5 807 301.4 806.7 301.3 806.3 301.3 805.9 301.3 805.4 301.4 805 301.6 804.5 301.9 804.1 302.2 803.6 302.5 803.1 303 802.7 303.5 802.2 304 801.8 304.6 801.4 305.2 800.9 305.9 800.5 306.6 800.1 307.4 799.7 308.2 799.3 309.1 798.9 310 798.5 311 798.1 312 797.7 313 797.3 314.2 797 315.3 796.8 316.5 796.6 317.8 796.4 319.1 796.2 320.4 796 321.8 795.8 323.2 795.6 324.6 795.4 326.1 795.3 327.7 795.1 329.2 794.9 330.9 794.8 332.5 794.6 334.2 794.5 335.9 794.3 337.7 794.2 339.5 794.1 341.3 794 343.1 793.9 345 793.8 347 793.7 348.9 793.6 350.9 793.5 353 793.4 355 793.3 357.1 793.3 359.3 793.2 361.4 793.1 363.6 793.1 365.8 793 368.1 793 370.3 793 372.6 793 374.9 792.9 377.3 792.9 379.7 792.9 382.1 792.9 384.5 792.9 386.9 792.9 389.4 793 391.9 793 394.4 793 396.9 793.1 399.4 793.1 402 793.1 404.6 793.2 407.2 793.3 409.8 793.3 412.4 793.4 415 793.5 417.7 793.6 420.3 793.7 423 793.7 425.7 793.8 428.4 794 431.1 794.1 433.8 794.2 436.5 794.3 439.3 794.4 442 794.6 444.8 794.7 447.5 794.9 450.2 795.1 453 795.3 455.8 795.5 458.5 795.7 461.3 795.9 464 796.1 466.8 796.3 469.5 796.6 472.3 796.8 475 797.1 477.8 797.3 480.5 797.6 483.2 797.9 485.9 798.2 488.6 798.5 491.3 798.8 494 799.2 496.7 799.5 499.4 799.8 502.1 800.2 504.7 800.6 507.3 800.9 509.9 801.3 512.5 801.7 515.1 802.1 517.7 802.6 520.3 803 522.8 803.4 525.3 803.9 527.8 804.3 530.3 804.8 532.7 805.2 535.1 805.7 537.5 806.2 539.9 806.7 542.3 807.2 544.6 807.7 546.9 808.3 549.2 808.8 551.5 809.4 553.7 809.9 555.9 810.5 558 811 560.2 811.6 562.3 812.2 564.4 812.8 566.4 813.4 568.4 814 570.4 814.6 572.4 815.3 574.3 815.9 576.2 816.6 578 817.2 579.8 817.9 581.6 818.5 583.3 819.2 585 819.9 586.7 820.6 588.3 821.3 589.9 822 591.5 822.7 593 823.4 594.4 824.1 595.9 824.9 597.3 825.6 598.6 826.4 599.9 827.1 601.2 827.9 602.4 828.7 603.6 829.4 604.7 830.3 605.7 831.2 606.7 832.1 607.6 833 608.5 833.9 609.3 834.9 610.1 835.8 610.8 836.7 611.5 837.7 612.1 838.6 612.7 839.5 613.2 840.5 613.6 841.4 614 842.3 614.4 843.2 614.7 844.1 614.9 845 615.1 845.9 615.2 846.8 615.3 847.7 615.3 848.5 615.2 849.4 615.1 850.2 615 851 614.7 851.8 614.4 852.5" stroke="#d1d1d1" stroke-width="15"/><path d="M302.2 807.5L301.8 807.3 301.5 807 301.3 806.7 301.1 806.2 301 805.8 301 805.3 301.1 804.7 301.2 804.2 301.4 803.6 301.7 803 302.1 802.5 302.5 801.9 303 801.3 303.5 800.8 304.1 800.3 304.7 799.7 305.4 799.2 306.1 798.7 306.9 798.2 307.8 797.7 308.6 797.2 309.6 796.7 310.5 796.3 311.6 795.8 312.6 795.3 313.8 795 314.9 794.7 316.2 794.5 317.5 794.3 318.8 794.1 320.1 793.9 321.5 793.7 322.9 793.5 324.4 793.3 325.9 793.2 327.5 793 329 792.8 330.7 792.7 332.3 792.5 334 792.4 335.7 792.3 337.5 792.1 339.3 792 341.2 791.9 343 791.8 344.9 791.7 346.9 791.6 348.9 791.5 350.9 791.4 352.9 791.3 355 791.2 357.1 791.2 359.2 791.1 361.4 791 363.6 791 365.8 790.9 368 790.9 370.3 790.9 372.6 790.9 374.9 790.8 377.3 790.8 379.7 790.8 382.1 790.8 384.5 790.8 386.9 790.8 389.4 790.9 391.9 790.9 394.4 790.9 396.9 791 399.5 791 402 791 404.6 791.1 407.2 791.2 409.8 791.2 412.5 791.3 415.1 791.4 417.7 791.5 420.4 791.6 423.1 791.6 425.8 791.7 428.5 791.9 431.2 792 433.9 792.1 436.6 792.2 439.4 792.3 442.1 792.5 444.9 792.6 447.6 792.8 450.4 793 453.1 793.2 455.9 793.4 458.7 793.6 461.4 793.8 464.2 794 467 794.2 469.7 794.5 472.5 794.7 475.2 795 478 795.2 480.7 795.5 483.4 795.8 486.2 796.1 488.9 796.4 491.6 796.7 494.3 797.1 497 797.4 499.7 797.8 502.3 798.1 505 798.5 507.6 798.9 510.3 799.3 512.9 799.7 515.5 800.1 518 800.5 520.6 800.9 523.1 801.3 525.7 801.8 528.2 802.2 530.7 802.7 533.1 803.2 535.6 803.7 538 804.2 540.4 804.7 542.7 805.2 545.1 805.7 547.4 806.2 549.7 806.8 552 807.3 554.2 807.9 556.4 808.4 558.6 809 560.7 809.6 562.9 810.2 565 810.8 567 811.4 569 812 571 812.6 573 813.3 574.9 813.9 576.8 814.6 578.7 815.2 580.5 815.9 582.3 816.6 584.1 817.3 585.8 817.9 587.5 818.6 589.2 819.4 590.8 820.1 592.3 820.8 593.9 821.5 595.4 822.3 596.8 823 598.3 823.8 599.6 824.5 601 825.3 602.3 826.1 603.6 826.9 604.8 827.7 605.9 828.6 606.9 829.6 607.9 830.6 608.8 831.6 609.6 832.7 610.4 833.7 611.2 834.7 611.9 835.7 612.5 836.7 613.1 837.8 613.6 838.8 614.1 839.8 614.5 840.8 614.8 841.8 615.1 842.8 615.3 843.8 615.5 844.8 615.6 845.8 615.6 846.7 615.6 847.6 615.5 848.5 615.4 849.4 615.2 850.2 615 851 614.6 851.8 614.2 852.5" stroke="#e0e0e0" stroke-width="9"/><path d="M302.4 807.4L301.9 807.3 301.5 807 301.2 806.6 301 806.2 300.8 805.7 300.8 805.1 300.8 804.5 300.9 803.9 301.1 803.3 301.4 802.6 301.8 802 302.2 801.4 302.7 800.8 303.2 800.2 303.8 799.6 304.4 799 305.1 798.4 305.8 797.8 306.6 797.2 307.5 796.7 308.3 796.1 309.3 795.6 310.3 795 311.3 794.5 312.3 794 313.5 793.6 314.7 793.4 315.9 793.1 317.2 792.9 318.6 792.7 319.9 792.5 321.3 792.3 322.8 792.1 324.2 792 325.7 791.8 327.3 791.6 328.9 791.4 330.5 791.3 332.2 791.1 333.9 791 335.6 790.9 337.4 790.7 339.2 790.6 341.1 790.5 342.9 790.4 344.9 790.3 346.8 790.2 348.8 790.1 350.8 790 352.8 789.9 354.9 789.8 357 789.8 359.2 789.7 361.3 789.6 363.5 789.6 365.8 789.5 368 789.5 370.3 789.5 372.6 789.5 374.9 789.4 377.3 789.4 379.7 789.4 382.1 789.4 384.5 789.4 386.9 789.4 389.4 789.5 391.9 789.5 394.4 789.5 396.9 789.6 399.5 789.6 402.1 789.6 404.6 789.7 407.2 789.8 409.9 789.8 412.5 789.9 415.1 790 417.8 790.1 420.5 790.2 423.1 790.2 425.8 790.3 428.5 790.5 431.2 790.6 434 790.7 436.7 790.8 439.5 790.9 442.2 791.1 445 791.2 447.7 791.4 450.5 791.6 453.2 791.8 456 792 458.8 792.2 461.5 792.4 464.3 792.6 467.1 792.8 469.8 793.1 472.6 793.3 475.4 793.6 478.1 793.9 480.9 794.1 483.6 794.4 486.3 794.7 489.1 795 491.8 795.4 494.5 795.7 497.2 796 499.9 796.4 502.5 796.7 505.2 797.1 507.8 797.5 510.5 797.9 513.1 798.3 515.7 798.7 518.3 799.1 520.8 799.5 523.4 800 525.9 800.4 528.4 800.9 530.9 801.3 533.4 801.8 535.8 802.3 538.3 802.8 540.7 803.3 543 803.8 545.4 804.3 547.7 804.9 550 805.4 552.3 806 554.5 806.5 556.8 807.1 558.9 807.7 561.1 808.2 563.2 808.8 565.3 809.4 567.4 810.1 569.5 810.7 571.5 811.3 573.4 811.9 575.4 812.6 577.3 813.2 579.2 813.9 581 814.6 582.8 815.3 584.6 816 586.3 816.6 588 817.4 589.7 818.1 591.3 818.8 592.9 819.5 594.5 820.3 596 821 597.5 821.8 598.9 822.5 600.3 823.3 601.7 824.1 603 824.9 604.3 825.7 605.6 826.5 606.7 827.5 607.7 828.6 608.6 829.6 609.5 830.7 610.4 831.8 611.2 832.9 611.9 834 612.6 835.1 613.2 836.1 613.7 837.2 614.2 838.3 614.7 839.4 615 840.5 615.4 841.5 615.6 842.6 615.8 843.6 615.9 844.6 615.9 845.6 615.9 846.6 615.9 847.6 615.7 848.5 615.5 849.3 615.3 850.2 615 851 614.5 851.8 614 852.5" stroke="#ececec" stroke-width="4.5"/><path d="M295.5 806.9L295.5 806 295.8 804.8 296.1 803.7 296.6 802.7 297.2 801.8 297.9 801.1 298.5 800.4 299.2 799.8 299.9 799.3 300.6 798.8 301.4 798.4 302.1 798 302.9 797.7 303.7 797.3 304.6 797 305.5 796.7 306.4 796.4 307.3 796.1 308.3 795.8 309.3 795.6 310.3 795.3 311.4 795.1 312.5 794.8 313.7 794.6 314.9 794.4 316.1 794.1 317.4 793.9 318.7 793.7 320.1 793.5 321.4 793.3 322.9 793.1 324.4 792.9 325.9 792.8 327.4 792.6 329 792.4 330.6 792.3 332.3 792.1 334 792 335.7 791.9 337.5 791.7" stroke="url(#g24)" stroke-width="14" filter="url(#bl)"/><path d="M298 794.6L299 794 299.9 793.5 300.9 793.1 301.9 792.7 302.8 792.3 303.8 792 304.8 791.6 305.9 791.3 306.9 791 308 790.7 309.2 790.4 310.3 790.2 311.5 789.9 312.7 789.7 314 789.4 315.3 789.2 316.6 789 317.9 788.8 319.3 788.6 320.8 788.4 322.3 788.2 323.8 788 325.3 787.8 326.9 787.6 328.5 787.5 330.2 787.3 331.8 787.2 333.6 787 335.3 786.9 337.1 786.7 339 786.6 340.8 786.5 342.7 786.4 344.6 786.3 346.6 786.2 348.6 786.1 350.6 786 352.7 785.9 354.8 785.8 356.9 785.8 359.1 785.7 361.2 785.6 363.4 785.6 365.7 785.5 367.9 785.5 370.2 785.5 372.6 785.5 374.9 785.4 377.3 785.4 379.7 785.4 382.1 785.4 384.5 785.4 387 785.4 389.4 785.5 391.9 785.5 394.5 785.5 397 785.6 399.6 785.6 402.1 785.6 404.7 785.7 407.3 785.8 410 785.8 412.6 785.9 415.3 786 417.9 786.1 420.6 786.2 423.3 786.3 426 786.4 428.7 786.5 431.4 786.6 434.2 786.7 436.9 786.8 439.7 787 442.4 787.1 445.2 787.3 448 787.4 450.7 787.6 453.5 787.8 456.3 788 459.1 788.2 461.9 788.4 464.6 788.6 467.4 788.8 470.2 789.1 473 789.3" stroke="url(#g29)" stroke-width="2.5"/><path d="M539.3 797.9L541.7 798.4 544.1 798.9 546.5 799.5 548.8 800 551.2 800.5 553.5 801.1 555.8 801.7 558 802.2 560.2 802.8 562.4 803.4 564.6 804 566.7 804.6 568.9 805.3 570.9 805.9 573 806.5 575 807.2 577 807.9 578.9 808.5 580.9 809.2 582.8 809.9 584.6 810.6 586.4 811.3 588.2 812 590 812.7 591.7 813.5 593.4 814.2 595.1 815 596.7 815.8 598.3 816.5 599.8 817.3 601.3 818.1 602.8 819 604.2 819.8 605.6 820.6 607 821.5 608.4 822.4 609.7 823.3 610.9 824.2 612.1 825.1 613.3 826 614.5 827 615.6 828 616.7 829 617.7 830.1 618.7 831.1 619.7 832.2 620.6 833.4 621.5 834.5 622.3 835.7 623.1 837 623.8 838.2 624.4 839.6 625 840.9 625.6 842.3 626 843.7 626.4 845.2 626.7 846.7 626.9 848.2 627 849.7 627 851.2" stroke="url(#g42)" stroke-width="8"/><path d="M550.1 804.9L552.4 805.5 554.7 806 556.9 806.6 559.1 807.2 561.2 807.8 563.4 808.4 565.5 809 567.6 809.6 569.6 810.2 571.6 810.8 573.6 811.5 575.6 812.1 577.5 812.8 579.3 813.4 581.2 814.1 583 814.8 584.8 815.5 586.5 816.2 588.2 816.9 589.9 817.6 591.5 818.3 593.1 819.1 594.7 819.8 596.2 820.6 597.7 821.3 599.2 822.1 600.6 822.9 602 823.7 603.3 824.5 604.6 825.3 605.8 826.1 607.1 826.9 608.2 827.8 609.4 828.7 610.5 829.5 611.6 830.4 612.6 831.3 613.6 832.3 614.5 833.2 615.4 834.1 616.2 835.1 617.1 836.1 617.8 837.1 618.5 838.2 619.2 839.3 619.8 840.4 620.4 841.5 620.9 842.6 621.3 843.8 621.7 845 622 846.2 622.2 847.4 622.4 848.6 622.5 849.9 622.5 851.1" stroke="url(#g44)" stroke-width="3.5"/><path d="M300.1 658.5L300 658.3 300 658 300 657.7 300.1 657.5 300.2 657.2 300.3 656.9 300.5 656.7 300.8 656.4 301.1 656.1 301.4 655.9 301.8 655.6 302.3 655.3 302.8 655.1 303.3 654.8 303.9 654.6 304.5 654.3 305.2 654.1 305.9 653.8 306.7 653.6 307.5 653.3 308.3 653.1 309.3 652.9 310.2 652.7 311.2 652.4 312.2 652.2 313.3 652 314.5 651.8 315.6 651.6 316.8 651.4 318.1 651.2 319.4 651 320.8 650.8 322.1 650.7 323.6 650.5 325 650.3 326.5 650.2 328.1 650 329.7 649.9 331.3 649.8 333 649.6 334.7 649.5 336.4 649.4 338.2 649.3 340 649.2 341.8 649.1 343.7 649 345.7 649 347.6 648.9 349.6 648.9 351.6 648.8 353.7 648.8 355.7 648.7 357.9 648.7 360 648.7 362.2 648.7 364.4 648.7 366.6 648.7 368.9 648.8 371.2 648.8 373.5 648.9 375.8 648.9 378.2 649 380.6 649.1 383 649.2 385.4 649.3 387.8 649.4 390.3 649.5 392.8 649.6 395.3 649.8 397.9 649.9 400.4 650.1 403 650.3 405.6 650.5 408.2 650.7 410.8 650.9 413.4 651.1 416.1 651.3 418.7 651.6 421.4 651.9 424.1 652.1 426.8 652.4 429.5 652.7 432.2 653 434.9 653.3 437.6 653.7 440.3 654 443 654.3 445.8 654.7 448.5 655.1 451.3 655.5 454 655.9 456.8 656.3 459.5 656.7 462.2 657.2 465 657.6 467.7 658.1 470.5 658.6 473.2 659 475.9 659.5 478.6 660 481.3 660.6 484 661.1 486.7 661.7 489.4 662.2 492.1 662.8 494.8 663.4 497.4 664 500.1 664.6 502.7 665.2 505.3 665.8 507.9 666.4 510.5 667.1 513.1 667.8 515.6 668.4 518.2 669.1 520.7 669.8 523.2 670.5 525.7 671.3 528.1 672 530.5 672.7 532.9 673.5 535.3 674.2 537.7 675 540 675.8 542.3 676.6 544.6 677.4 546.9 678.2 549.1 679 551.3 679.9 553.5 680.7 555.6 681.6 557.8 682.4 559.8 683.3 561.9 684.2 563.9 685.1 565.9 686 567.8 686.9 569.8 687.8 571.7 688.7 573.5 689.6 575.3 690.6 577.1 691.5 578.8 692.5 580.5 693.5 582.2 694.4 583.8 695.4 585.4 696.4 587 697.4 588.5 698.4 589.9 699.4 591.4 700.4 592.7 701.4 594.1 702.5 595.4 703.5 596.7 704.5 597.9 705.6 599 706.6 600.2 707.7 601.3 708.7 602.3 709.8 603.3 710.9 604.2 711.9 605.2 713 606 714.1 606.8 715.2 607.6 716.3 608.3 717.4 609 718.5 609.6 719.6 610.2 720.7 610.7 721.8 611.2 722.9 611.7 724 612.1 725.1 612.4 726.2 612.7 727.3 613 728.4 613.2 729.5 613.3 730.7 613.4 731.8 613.5 732.9 613.5 734 613.5 735.1 613.4 736.2" stroke="#505050" stroke-width="33.5"/><path d="M300.1 658.5L300 658.3 300 658 300 657.7 300.1 657.5 300.2 657.2 300.3 656.9 300.5 656.7 300.8 656.4 301.1 656.1 301.4 655.9 301.8 655.6 302.3 655.3 302.8 655.1 303.3 654.8 303.9 654.6 304.5 654.3 305.2 654.1 305.9 653.8 306.7 653.6 307.5 653.3 308.3 653.1 309.3 652.9 310.2 652.7 311.2 652.4 312.2 652.2 313.3 652 314.5 651.8 315.6 651.6 316.8 651.4 318.1 651.2 319.4 651 320.8 650.8 322.1 650.7 323.6 650.5 325 650.3 326.5 650.2 328.1 650 329.7 649.9 331.3 649.8 333 649.6 334.7 649.5 336.4 649.4 338.2 649.3 340 649.2 341.8 649.1 343.7 649 345.7 649 347.6 648.9 349.6 648.9 351.6 648.8 353.7 648.8 355.7 648.7 357.9 648.7 360 648.7 362.2 648.7 364.4 648.7 366.6 648.7 368.9 648.8 371.2 648.8 373.5 648.9 375.8 648.9 378.2 649 380.6 649.1 383 649.2 385.4 649.3 387.8 649.4 390.3 649.5 392.8 649.6 395.3 649.8 397.9 649.9 400.4 650.1 403 650.3 405.6 650.5 408.2 650.7 410.8 650.9 413.4 651.1 416.1 651.3 418.7 651.6 421.4 651.9 424.1 652.1 426.8 652.4 429.5 652.7 432.2 653 434.9 653.3 437.6 653.7 440.3 654 443 654.3 445.8 654.7 448.5 655.1 451.3 655.5 454 655.9 456.8 656.3 459.5 656.7 462.2 657.2 465 657.6 467.7 658.1 470.5 658.6 473.2 659 475.9 659.5 478.6 660 481.3 660.6 484 661.1 486.7 661.7 489.4 662.2 492.1 662.8 494.8 663.4 497.4 664 500.1 664.6 502.7 665.2 505.3 665.8 507.9 666.4 510.5 667.1 513.1 667.8 515.6 668.4 518.2 669.1 520.7 669.8 523.2 670.5 525.7 671.3 528.1 672 530.5 672.7 532.9 673.5 535.3 674.2 537.7 675 540 675.8 542.3 676.6 544.6 677.4 546.9 678.2 549.1 679 551.3 679.9 553.5 680.7 555.6 681.6 557.8 682.4 559.8 683.3 561.9 684.2 563.9 685.1 565.9 686 567.8 686.9 569.8 687.8 571.7 688.7 573.5 689.6 575.3 690.6 577.1 691.5 578.8 692.5 580.5 693.5 582.2 694.4 583.8 695.4 585.4 696.4 587 697.4 588.5 698.4 589.9 699.4 591.4 700.4 592.7 701.4 594.1 702.5 595.4 703.5 596.7 704.5 597.9 705.6 599 706.6 600.2 707.7 601.3 708.7 602.3 709.8 603.3 710.9 604.2 711.9 605.2 713 606 714.1 606.8 715.2 607.6 716.3 608.3 717.4 609 718.5 609.6 719.6 610.2 720.7 610.7 721.8 611.2 722.9 611.7 724 612.1 725.1 612.4 726.2 612.7 727.3 613 728.4 613.2 729.5 613.3 730.7 613.4 731.8 613.5 732.9 613.5 734 613.5 735.1 613.4 736.2" stroke="#9a9a9a" stroke-width="31"/><path d="M300.1 658.5L300 658.3 300 658 300 657.7 300 657.5 300.1 657.2 300.3 656.9 300.5 656.6 300.7 656.3 301 656 301.4 655.8 301.7 655.5 302.2 655.2 302.7 654.9 303.2 654.7 303.8 654.4 304.4 654.1 305.1 653.9 305.8 653.6 306.6 653.3 307.4 653.1 308.3 652.8 309.2 652.6 310.1 652.4 311.1 652.1 312.2 651.9 313.3 651.7 314.4 651.5 315.6 651.3 316.8 651.1 318.1 650.9 319.4 650.7 320.7 650.5 322.1 650.3 323.5 650.2 325 650 326.5 649.8 328.1 649.7 329.6 649.6 331.3 649.4 332.9 649.3 334.6 649.2 336.4 649.1 338.2 649 340 648.9 341.8 648.8 343.7 648.7 345.6 648.6 347.6 648.6 349.6 648.5 351.6 648.5 353.7 648.4 355.7 648.4 357.9 648.4 360 648.4 362.2 648.4 364.4 648.4 366.6 648.4 368.9 648.4 371.2 648.5 373.5 648.5 375.8 648.6 378.2 648.6 380.6 648.7 383 648.8 385.4 648.9 387.9 649 390.3 649.2 392.8 649.3 395.4 649.4 397.9 649.6 400.4 649.8 403 649.9 405.6 650.1 408.2 650.3 410.8 650.5 413.5 650.8 416.1 651 418.8 651.2 421.4 651.5 424.1 651.8 426.8 652.1 429.5 652.4 432.2 652.7 434.9 653 437.6 653.3 440.4 653.6 443.1 654 445.8 654.4 448.6 654.7 451.3 655.1 454.1 655.5 456.8 656 459.5 656.4 462.3 656.8 465 657.3 467.8 657.7 470.5 658.2 473.2 658.7 476 659.2 478.7 659.7 481.4 660.2 484.1 660.8 486.8 661.3 489.5 661.9 492.2 662.4 494.9 663 497.5 663.6 500.2 664.2 502.8 664.8 505.4 665.5 508 666.1 510.6 666.8 513.2 667.4 515.7 668.1 518.3 668.8 520.8 669.5 523.3 670.2 525.8 670.9 528.2 671.6 530.6 672.4 533.1 673.1 535.4 673.9 537.8 674.7 540.1 675.5 542.5 676.3 544.7 677.1 547 677.9 549.2 678.7 551.4 679.5 553.6 680.4 555.8 681.2 557.9 682.1 560 683 562 683.9 564.1 684.7 566 685.6 568 686.6 569.9 687.5 571.8 688.4 573.7 689.3 575.5 690.3 577.3 691.2 579 692.2 580.7 693.2 582.4 694.1 584 695.1 585.6 696.1 587.2 697.1 588.7 698.1 590.1 699.1 591.6 700.1 593 701.2 594.3 702.2 595.6 703.2 596.9 704.3 598.1 705.3 599.3 706.4 600.4 707.4 601.5 708.5 602.5 709.6 603.5 710.7 604.5 711.8 605.4 712.8 606.2 713.9 607 715 607.8 716.1 608.5 717.2 609.2 718.4 609.8 719.5 610.4 720.6 610.9 721.7 611.4 722.8 611.8 723.9 612.2 725 612.5 726.2 612.8 727.3 613 728.4 613.2 729.5 613.4 730.6 613.5 731.8 613.5 732.9 613.5 734 613.5 735.1 613.4 736.2" stroke="#ababab" stroke-width="28"/><path d="M300.2 658.5L300.1 658.3 300 658 300 657.7 300 657.4 300.1 657.1 300.2 656.8 300.4 656.5 300.6 656.2 300.9 655.9 301.2 655.6 301.6 655.2 302 654.9 302.5 654.6 303.1 654.3 303.6 654 304.3 653.7 305 653.4 305.7 653.1 306.4 652.8 307.3 652.6 308.1 652.3 309 652 310 651.7 311 651.5 312 651.2 313.1 651 314.3 650.8 315.5 650.6 316.7 650.4 318 650.2 319.3 650 320.6 649.8 322 649.6 323.4 649.5 324.9 649.3 326.4 649.1 328 649 329.6 648.9 331.2 648.7 332.9 648.6 334.6 648.5 336.3 648.4 338.1 648.3 339.9 648.2 341.8 648.1 343.7 648 345.6 647.9 347.6 647.9 349.6 647.8 351.6 647.8 353.6 647.7 355.7 647.7 357.9 647.7 360 647.7 362.2 647.7 364.4 647.7 366.6 647.7 368.9 647.7 371.2 647.8 373.5 647.8 375.8 647.9 378.2 647.9 380.6 648 383 648.1 385.4 648.2 387.9 648.3 390.4 648.5 392.9 648.6 395.4 648.7 397.9 648.9 400.5 649.1 403.1 649.2 405.7 649.4 408.3 649.6 410.9 649.8 413.5 650.1 416.2 650.3 418.8 650.5 421.5 650.8 424.2 651.1 426.9 651.4 429.6 651.7 432.3 652 435 652.3 437.7 652.6 440.5 653 443.2 653.3 445.9 653.7 448.7 654.1 451.4 654.4 454.2 654.8 456.9 655.3 459.7 655.7 462.4 656.1 465.1 656.6 467.9 657 470.6 657.5 473.4 658 476.1 658.5 478.8 659 481.5 659.5 484.3 660.1 487 660.6 489.6 661.2 492.3 661.8 495 662.3 497.7 662.9 500.3 663.5 503 664.2 505.6 664.8 508.2 665.4 510.8 666.1 513.3 666.7 515.9 667.4 518.4 668.1 521 668.8 523.5 669.5 525.9 670.2 528.4 671 530.8 671.7 533.3 672.5 535.7 673.2 538 674 540.4 674.8 542.7 675.6 545 676.4 547.2 677.2 549.5 678 551.7 678.9 553.9 679.7 556 680.6 558.2 681.5 560.2 682.3 562.3 683.2 564.3 684.1 566.3 685 568.3 685.9 570.2 686.8 572.1 687.8 574 688.7 575.8 689.7 577.6 690.6 579.3 691.6 581.1 692.6 582.7 693.5 584.4 694.5 586 695.5 587.5 696.5 589.1 697.5 590.5 698.5 592 699.6 593.4 700.6 594.7 701.6 596.1 702.7 597.3 703.7 598.6 704.8 599.8 705.9 600.9 706.9 602 708 603 709.1 604 710.2 604.9 711.4 605.8 712.5 606.7 713.6 607.5 714.7 608.2 715.9 608.9 717 609.5 718.1 610.1 719.3 610.7 720.4 611.2 721.6 611.7 722.7 612.1 723.8 612.4 725 612.7 726.1 613 727.2 613.2 728.4 613.4 729.5 613.5 730.6 613.5 731.8 613.5 732.9 613.5 734 613.4 735.1 613.3 736.2" stroke="#b9b9b9" stroke-width="25"/><path d="M300.3 658.5L300.1 658.3 300 658 299.9 657.7 299.9 657.4 299.9 657.1 300 656.7 300.2 656.4 300.4 656 300.7 655.6 301 655.3 301.4 654.9 301.8 654.5 302.3 654.2 302.8 653.8 303.4 653.5 304 653.1 304.7 652.8 305.5 652.4 306.2 652.1 307 651.8 307.9 651.5 308.8 651.1 309.8 650.8 310.8 650.5 311.8 650.2 312.9 649.9 314.1 649.7 315.3 649.5 316.5 649.3 317.8 649.1 319.1 648.9 320.5 648.8 321.9 648.6 323.3 648.4 324.8 648.3 326.3 648.1 327.9 648 329.5 647.8 331.1 647.7 332.8 647.5 334.5 647.4 336.3 647.3 338.1 647.2 339.9 647.1 341.8 647 343.6 646.9 345.6 646.9 347.5 646.8 349.5 646.8 351.6 646.7 353.6 646.7 355.7 646.6 357.8 646.6 360 646.6 362.2 646.6 364.4 646.6 366.6 646.6 368.9 646.7 371.2 646.7 373.5 646.8 375.9 646.8 378.2 646.9 380.6 647 383 647.1 385.5 647.2 387.9 647.3 390.4 647.4 392.9 647.5 395.5 647.7 398 647.8 400.6 648 403.1 648.2 405.7 648.4 408.3 648.6 411 648.8 413.6 649 416.3 649.3 418.9 649.5 421.6 649.8 424.3 650 427 650.3 429.7 650.6 432.4 650.9 435.1 651.2 437.8 651.6 440.6 651.9 443.3 652.3 446.1 652.6 448.8 653 451.6 653.4 454.3 653.8 457.1 654.2 459.8 654.7 462.6 655.1 465.3 655.5 468.1 656 470.8 656.5 473.6 657 476.3 657.5 479 658 481.7 658.5 484.5 659 487.2 659.6 489.9 660.2 492.6 660.7 495.2 661.3 497.9 661.9 500.6 662.5 503.2 663.1 505.8 663.8 508.4 664.4 511 665.1 513.6 665.7 516.2 666.4 518.7 667.1 521.2 667.8 523.8 668.5 526.2 669.2 528.7 670 531.2 670.7 533.6 671.5 536 672.2 538.4 673 540.7 673.8 543 674.6 545.3 675.4 547.6 676.2 549.9 677.1 552.1 677.9 554.3 678.8 556.4 679.6 558.6 680.5 560.7 681.4 562.7 682.2 564.8 683.1 566.8 684.1 568.7 685 570.7 685.9 572.6 686.8 574.5 687.8 576.3 688.7 578.1 689.7 579.9 690.7 581.6 691.6 583.3 692.6 584.9 693.6 586.5 694.6 588.1 695.6 589.6 696.7 591.1 697.7 592.6 698.7 594 699.8 595.4 700.8 596.7 701.9 598 702.9 599.3 704 600.5 705.1 601.6 706.2 602.7 707.3 603.7 708.4 604.7 709.6 605.6 710.8 606.5 711.9 607.3 713.1 608.1 714.3 608.8 715.5 609.5 716.6 610.1 717.8 610.7 719 611.2 720.2 611.7 721.3 612.1 722.5 612.4 723.7 612.8 724.9 613 726 613.3 727.2 613.4 728.3 613.5 729.5 613.6 730.6 613.6 731.8 613.6 732.9 613.5 734 613.4 735.1 613.2 736.2" stroke="#c5c5c5" stroke-width="21"/><path d="M300.5 658.4L300.2 658.2 300 658 299.9 657.7 299.8 657.4 299.8 657 299.8 656.6 299.9 656.2 300.1 655.7 300.4 655.3 300.7 654.9 301.1 654.4 301.5 654 302 653.6 302.5 653.2 303.1 652.7 303.7 652.3 304.4 651.9 305.2 651.5 305.9 651.1 306.8 650.7 307.6 650.4 308.5 650 309.5 649.6 310.5 649.2 311.6 648.9 312.7 648.6 313.8 648.4 315.1 648.1 316.3 647.9 317.6 647.7 318.9 647.6 320.3 647.4 321.7 647.2 323.2 647 324.7 646.9 326.2 646.7 327.8 646.6 329.4 646.4 331 646.3 332.7 646.2 334.4 646 336.2 645.9 338 645.8 339.8 645.7 341.7 645.6 343.6 645.5 345.5 645.5 347.5 645.4 349.5 645.4 351.5 645.3 353.6 645.3 355.7 645.2 357.8 645.2 360 645.2 362.2 645.2 364.4 645.2 366.6 645.2 368.9 645.3 371.2 645.3 373.5 645.4 375.9 645.4 378.3 645.5 380.7 645.6 383.1 645.7 385.5 645.8 388 645.9 390.5 646 393 646.1 395.5 646.3 398.1 646.4 400.7 646.6 403.2 646.8 405.8 647 408.5 647.2 411.1 647.4 413.7 647.6 416.4 647.9 419.1 648.1 421.7 648.4 424.4 648.6 427.1 648.9 429.8 649.2 432.6 649.5 435.3 649.8 438 650.2 440.8 650.5 443.5 650.9 446.3 651.2 449 651.6 451.8 652 454.5 652.4 457.3 652.8 460 653.3 462.8 653.7 465.6 654.2 468.3 654.6 471.1 655.1 473.8 655.6 476.5 656.1 479.3 656.6 482 657.1 484.7 657.7 487.4 658.2 490.2 658.8 492.8 659.4 495.5 659.9 498.2 660.5 500.9 661.2 503.5 661.8 506.2 662.4 508.8 663.1 511.4 663.7 514 664.4 516.5 665.1 519.1 665.8 521.6 666.5 524.1 667.2 526.6 667.9 529.1 668.6 531.6 669.4 534 670.1 536.4 670.9 538.8 671.7 541.2 672.5 543.5 673.3 545.8 674.1 548.1 674.9 550.3 675.7 552.6 676.6 554.8 677.4 556.9 678.3 559.1 679.2 561.2 680.1 563.3 681 565.3 681.9 567.4 682.8 569.3 683.7 571.3 684.6 573.2 685.6 575.1 686.5 576.9 687.5 578.8 688.5 580.5 689.4 582.3 690.4 584 691.4 585.7 692.4 587.3 693.4 588.9 694.5 590.4 695.5 591.9 696.5 593.4 697.6 594.8 698.6 596.2 699.7 597.6 700.8 598.9 701.9 600.2 702.9 601.4 704 602.6 705.1 603.7 706.3 604.7 707.5 605.6 708.8 606.5 710 607.4 711.2 608.2 712.4 608.9 713.7 609.6 714.9 610.2 716.1 610.8 717.4 611.4 718.6 611.8 719.8 612.3 721.1 612.6 722.3 613 723.5 613.2 724.7 613.4 725.9 613.6 727.1 613.7 728.3 613.8 729.4 613.8 730.6 613.7 731.7 613.6 732.9 613.5 734 613.3 735.1 613 736.2" stroke="#d1d1d1" stroke-width="15"/><path d="M300.7 658.3L300.4 658.2 300 658 299.8 657.7 299.6 657.3 299.5 656.9 299.5 656.4 299.6 655.9 299.8 655.3 300 654.8 300.3 654.3 300.7 653.7 301.1 653.2 301.6 652.7 302.1 652.2 302.7 651.7 303.3 651.2 304 650.6 304.7 650.2 305.5 649.7 306.3 649.2 307.2 648.7 308.1 648.2 309.1 647.8 310.1 647.3 311.2 646.9 312.3 646.5 313.5 646.3 314.7 646.1 316 645.9 317.3 645.7 318.6 645.5 320 645.3 321.5 645.1 322.9 644.9 324.4 644.8 326 644.6 327.6 644.5 329.2 644.3 330.9 644.2 332.6 644.1 334.3 643.9 336.1 643.8 337.9 643.7 339.7 643.6 341.6 643.5 343.5 643.4 345.5 643.4 347.4 643.3 349.5 643.3 351.5 643.2 353.6 643.2 355.7 643.1 357.8 643.1 360 643.1 362.2 643.1 364.4 643.1 366.7 643.1 369 643.2 371.3 643.2 373.6 643.3 376 643.3 378.3 643.4 380.8 643.5 383.2 643.6 385.6 643.7 388.1 643.8 390.6 643.9 393.1 644 395.7 644.2 398.2 644.3 400.8 644.5 403.4 644.7 406 644.9 408.6 645.1 411.3 645.3 413.9 645.5 416.6 645.8 419.3 646 421.9 646.3 424.6 646.6 427.4 646.8 430.1 647.1 432.8 647.4 435.5 647.8 438.3 648.1 441 648.4 443.8 648.8 446.5 649.2 449.3 649.5 452.1 649.9 454.8 650.3 457.6 650.8 460.4 651.2 463.1 651.6 465.9 652.1 468.7 652.6 471.4 653 474.2 653.5 476.9 654 479.7 654.5 482.4 655.1 485.1 655.6 487.9 656.2 490.6 656.7 493.3 657.3 496 657.9 498.7 658.5 501.3 659.1 504 659.7 506.6 660.4 509.3 661 511.9 661.7 514.5 662.3 517.1 663 519.6 663.7 522.2 664.4 524.7 665.1 527.2 665.9 529.7 666.6 532.2 667.4 534.6 668.1 537.1 668.9 539.5 669.7 541.8 670.5 544.2 671.3 546.5 672.1 548.8 672.9 551.1 673.8 553.3 674.6 555.5 675.5 557.7 676.4 559.9 677.2 562 678.1 564.1 679 566.2 680 568.2 680.9 570.2 681.8 572.2 682.7 574.1 683.7 576.1 684.7 577.9 685.6 579.8 686.6 581.6 687.6 583.3 688.6 585.1 689.6 586.7 690.6 588.4 691.7 590 692.7 591.6 693.8 593.1 694.8 594.6 695.9 596.1 697 597.5 698 598.9 699.1 600.3 700.2 601.6 701.4 602.8 702.5 604 703.6 605.1 704.9 606.1 706.2 607 707.5 607.9 708.8 608.7 710.1 609.4 711.5 610.1 712.8 610.8 714.1 611.4 715.4 611.9 716.7 612.4 718 612.8 719.3 613.2 720.6 613.5 721.9 613.7 723.2 613.9 724.5 614.1 725.7 614.1 727 614.2 728.2 614.1 729.4 614.1 730.6 613.9 731.7 613.7 732.9 613.5 734 613.1 735.1 612.8 736.2" stroke="#e0e0e0" stroke-width="9"/><path d="M300.9 658.3L300.4 658.2 300 658 299.7 657.7 299.5 657.3 299.4 656.8 299.3 656.2 299.4 655.7 299.5 655.1 299.7 654.5 300 653.9 300.4 653.3 300.8 652.7 301.3 652.1 301.8 651.5 302.4 650.9 303 650.4 303.7 649.8 304.4 649.2 305.2 648.7 306 648.1 306.9 647.6 307.8 647.1 308.8 646.5 309.8 646 310.9 645.5 312 645.1 313.2 644.9 314.5 644.7 315.8 644.5 317.1 644.3 318.5 644.1 319.9 643.9 321.3 643.7 322.8 643.6 324.3 643.4 325.9 643.2 327.4 643.1 329.1 642.9 330.7 642.8 332.5 642.7 334.2 642.5 336 642.4 337.8 642.3 339.6 642.2 341.5 642.1 343.5 642 345.4 642 347.4 641.9 349.4 641.9 351.5 641.8 353.6 641.8 355.7 641.7 357.8 641.7 360 641.7 362.2 641.7 364.4 641.7 366.7 641.7 369 641.8 371.3 641.8 373.6 641.9 376 641.9 378.4 642 380.8 642.1 383.2 642.2 385.7 642.3 388.2 642.4 390.7 642.5 393.2 642.6 395.8 642.8 398.3 643 400.9 643.1 403.5 643.3 406.1 643.5 408.7 643.7 411.4 643.9 414 644.1 416.7 644.4 419.4 644.6 422.1 644.9 424.8 645.2 427.5 645.4 430.2 645.7 433 646.1 435.7 646.4 438.4 646.7 441.2 647.1 444 647.4 446.7 647.8 449.5 648.2 452.3 648.6 455 649 457.8 649.4 460.6 649.8 463.4 650.3 466.1 650.7 468.9 651.2 471.7 651.7 474.4 652.2 477.2 652.7 479.9 653.2 482.7 653.7 485.4 654.2 488.2 654.8 490.9 655.4 493.6 655.9 496.3 656.5 499 657.1 501.7 657.7 504.3 658.4 507 659 509.6 659.7 512.2 660.3 514.9 661 517.4 661.7 520 662.4 522.6 663.1 525.1 663.8 527.6 664.5 530.1 665.3 532.6 666 535.1 666.8 537.5 667.6 539.9 668.4 542.3 669.2 544.6 670 547 670.8 549.3 671.6 551.6 672.5 553.8 673.3 556.1 674.2 558.3 675.1 560.4 676 562.6 676.8 564.7 677.8 566.8 678.7 568.8 679.6 570.8 680.5 572.8 681.5 574.8 682.4 576.7 683.4 578.6 684.4 580.4 685.4 582.2 686.4 584 687.4 585.8 688.4 587.5 689.4 589.2 690.5 590.8 691.5 592.4 692.6 593.9 693.7 595.5 694.7 596.9 695.8 598.4 696.9 599.8 698.1 601.2 699.2 602.5 700.3 603.8 701.5 605 702.6 606.1 703.9 607 705.3 607.9 706.7 608.8 708 609.6 709.4 610.3 710.8 611 712.2 611.6 713.6 612.1 714.9 612.6 716.3 613.1 717.7 613.5 719 613.8 720.4 614 721.7 614.2 723 614.4 724.3 614.5 725.6 614.5 726.9 614.5 728.1 614.4 729.3 614.2 730.5 614 731.7 613.8 732.9 613.5 734 613.1 735.1 612.6 736.2" stroke="#ececec" stroke-width="4.5"/><path d="M294 658L294.1 657 294.3 655.7 294.8 654.6 295.3 653.6 296 652.8 296.6 652.1 297.3 651.5 297.9 651 298.6 650.5 299.3 650.1 300.1 649.7 300.8 649.4 301.6 649 302.4 648.7 303.2 648.4 304 648.1 304.9 647.8 305.9 647.6 306.8 647.3 307.8 647.1 308.9 646.8 309.9 646.6 311.1 646.3 312.2 646.1 313.4 645.9 314.6 645.7 315.9 645.5 317.2 645.3 318.6 645.1 320 644.9 321.4 644.7 322.9 644.5 324.4 644.4 325.9 644.2 327.5 644.1 329.2 643.9 330.8 643.8 332.5 643.7 334.3 643.5 336 643.4" stroke="url(#g23)" stroke-width="14" filter="url(#bl)"/><path d="M296.9 645.7L297.8 645.2 298.7 644.8 299.7 644.4 300.6 644 301.5 643.7 302.5 643.4 303.5 643.1 304.5 642.8 305.6 642.5 306.6 642.2 307.7 641.9 308.9 641.7 310.1 641.4 311.3 641.2 312.5 641 313.8 640.7 315.1 640.5 316.5 640.3 317.9 640.1 319.3 639.9 320.8 639.8 322.3 639.6 323.9 639.4 325.5 639.2 327.1 639.1 328.7 638.9 330.4 638.8 332.2 638.7 333.9 638.5 335.7 638.4 337.6 638.3 339.4 638.2 341.4 638.1 343.3 638.1 345.3 638 347.3 637.9 349.3 637.9 351.4 637.8 353.5 637.8 355.6 637.7 357.8 637.7 360 637.7 362.2 637.7 364.5 637.7 366.7 637.7 369 637.8 371.4 637.8 373.7 637.9 376.1 637.9 378.5 638 380.9 638.1 383.4 638.2 385.9 638.3 388.4 638.4 390.9 638.5 393.4 638.7 396 638.8 398.6 639 401.2 639.1 403.8 639.3 406.4 639.5 409 639.7 411.7 639.9 414.4 640.2 417.1 640.4 419.8 640.6 422.5 640.9 425.2 641.2 427.9 641.5 430.7 641.8 433.4 642.1 436.2 642.4 438.9 642.7 441.7 643.1 444.5 643.4 447.3 643.8 450 644.2 452.8 644.6 455.6 645 458.4 645.4 461.2 645.9 464 646.3 466.8 646.8 469.6 647.2 472.4 647.7" stroke="url(#g28)" stroke-width="2.5"/><path d="M539 662.8L541.5 663.6 543.9 664.4 546.3 665.3 548.7 666.1 551 666.9 553.3 667.8 555.6 668.7 557.9 669.5 560.1 670.4 562.3 671.3 564.5 672.2 566.7 673.2 568.8 674.1 570.9 675.1 573 676 575 677 577 678 579 679 580.9 680 582.8 681 584.7 682 586.5 683.1 588.3 684.1 590.1 685.2 591.8 686.3 593.5 687.3 595.2 688.4 596.8 689.6 598.4 690.7 599.9 691.8 601.5 693 602.9 694.2 604.4 695.3 605.8 696.6 607.1 697.8 608.5 699 609.7 700.2 611 701.5 612.2 702.8 613.3 704.1 614.4 705.4 615.5 706.8 616.5 708.1 617.5 709.5 618.4 710.9 619.3 712.3 620.1 713.8 620.9 715.2 621.6 716.7 622.3 718.2 622.9 719.7 623.5 721.3 623.9 722.9 624.4 724.4 624.7 726 625 727.6 625.2 729.3 625.4 730.9 625.5 732.5 625.5 734" stroke="url(#g38)" stroke-width="8"/><path d="M549.5 671.2L551.7 672 554 672.9 556.2 673.7 558.4 674.6 560.6 675.5 562.8 676.4 564.9 677.3 567 678.2 569 679.1 571 680.1 573 681 575 682 576.9 683 578.8 684 580.7 684.9 582.5 685.9 584.3 687 586 688 587.7 689 589.4 690.1 591.1 691.1 592.7 692.2 594.2 693.3 595.8 694.3 597.2 695.4 598.7 696.5 600.1 697.7 601.5 698.8 602.8 699.9 604.1 701.1 605.4 702.3 606.6 703.4 607.7 704.6 608.8 705.8 609.9 707 611 708.3 611.9 709.5 612.9 710.8 613.8 712 614.6 713.3 615.4 714.6 616.2 715.9 616.9 717.3 617.6 718.6 618.2 720 618.7 721.3 619.2 722.7 619.6 724.1 620 725.5 620.3 726.9 620.6 728.4 620.8 729.8 620.9 731.2 621 732.7 621 734" stroke="url(#g40)" stroke-width="3.5"/><path d="M298.6 508.4L298.5 508.2 298.5 508 298.5 507.8 298.6 507.6 298.7 507.4 298.9 507.1 299.1 506.9 299.3 506.7 299.6 506.5 300 506.3 300.4 506.1 300.8 505.9 301.3 505.7 301.9 505.5 302.4 505.3 303.1 505.1 303.8 504.9 304.5 504.7 305.3 504.5 306.1 504.4 306.9 504.2 307.9 504 308.8 503.8 309.8 503.7 310.9 503.5 312 503.4 313.1 503.2 314.3 503.1 315.5 502.9 316.8 502.8 318.1 502.7 319.4 502.5 320.8 502.4 322.2 502.3 323.7 502.2 325.2 502.1 326.8 502 328.4 501.9 330 501.8 331.7 501.8 333.4 501.7 335.1 501.7 336.9 501.6 338.7 501.6 340.6 501.5 342.5 501.5 344.4 501.5 346.4 501.5 348.4 501.5 350.4 501.5 352.4 501.5 354.5 501.5 356.6 501.5 358.8 501.6 361 501.6 363.2 501.7 365.4 501.7 367.7 501.8 370 501.9 372.3 502 374.6 502.1 377 502.2 379.4 502.3 381.8 502.5 384.2 502.6 386.7 502.8 389.2 502.9 391.7 503.1 394.2 503.3 396.7 503.5 399.3 503.7 401.9 503.9 404.5 504.1 407.1 504.4 409.7 504.6 412.3 504.9 415 505.1 417.6 505.4 420.3 505.7 423 506 425.7 506.3 428.4 506.7 431.1 507 433.8 507.3 436.6 507.7 439.3 508.1 442 508.5 444.8 508.8 447.5 509.2 450.3 509.7 453 510.1 455.7 510.5 458.5 511 461.2 511.4 464 511.9 466.7 512.4 469.5 512.9 472.2 513.4 474.9 513.9 477.7 514.4 480.4 515 483.1 515.5 485.8 516.1 488.5 516.6 491.2 517.2 493.9 517.8 496.5 518.4 499.2 519 501.8 519.7 504.4 520.3 507 520.9 509.6 521.6 512.2 522.3 514.8 522.9 517.3 523.6 519.8 524.3 522.3 525 524.8 525.8 527.3 526.5 529.7 527.2 532.1 528 534.5 528.7 536.9 529.5 539.2 530.3 541.5 531.1 543.8 531.9 546.1 532.7 548.3 533.5 550.5 534.3 552.7 535.2 554.9 536 557 536.8 559.1 537.7 561.1 538.6 563.1 539.5 565.1 540.3 567.1 541.2 569 542.1 570.9 543 572.8 544 574.6 544.9 576.4 545.8 578.1 546.7 579.8 547.7 581.5 548.6 583.1 549.6 584.7 550.6 586.3 551.5 587.8 552.5 589.3 553.5 590.7 554.5 592.1 555.5 593.4 556.5 594.7 557.5 596 558.5 597.2 559.5 598.4 560.5 599.5 561.6 600.6 562.6 601.7 563.6 602.7 564.7 603.6 565.7 604.6 566.7 605.4 567.8 606.2 568.8 607 569.9 607.7 571 608.4 572 609.1 573.1 609.6 574.1 610.2 575.2 610.7 576.3 611.1 577.3 611.5 578.4 611.9 579.5 612.2 580.6 612.4 581.6 612.6 582.7 612.8 583.8 612.9 584.9 613 585.9 613 587 613 588.1 612.9 589.1" stroke="#505050" stroke-width="33.5"/><path d="M298.6 508.4L298.5 508.2 298.5 508 298.5 507.8 298.6 507.6 298.7 507.4 298.9 507.1 299.1 506.9 299.3 506.7 299.6 506.5 300 506.3 300.4 506.1 300.8 505.9 301.3 505.7 301.9 505.5 302.4 505.3 303.1 505.1 303.8 504.9 304.5 504.7 305.3 504.5 306.1 504.4 306.9 504.2 307.9 504 308.8 503.8 309.8 503.7 310.9 503.5 312 503.4 313.1 503.2 314.3 503.1 315.5 502.9 316.8 502.8 318.1 502.7 319.4 502.5 320.8 502.4 322.2 502.3 323.7 502.2 325.2 502.1 326.8 502 328.4 501.9 330 501.8 331.7 501.8 333.4 501.7 335.1 501.7 336.9 501.6 338.7 501.6 340.6 501.5 342.5 501.5 344.4 501.5 346.4 501.5 348.4 501.5 350.4 501.5 352.4 501.5 354.5 501.5 356.6 501.5 358.8 501.6 361 501.6 363.2 501.7 365.4 501.7 367.7 501.8 370 501.9 372.3 502 374.6 502.1 377 502.2 379.4 502.3 381.8 502.5 384.2 502.6 386.7 502.8 389.2 502.9 391.7 503.1 394.2 503.3 396.7 503.5 399.3 503.7 401.9 503.9 404.5 504.1 407.1 504.4 409.7 504.6 412.3 504.9 415 505.1 417.6 505.4 420.3 505.7 423 506 425.7 506.3 428.4 506.7 431.1 507 433.8 507.3 436.6 507.7 439.3 508.1 442 508.5 444.8 508.8 447.5 509.2 450.3 509.7 453 510.1 455.7 510.5 458.5 511 461.2 511.4 464 511.9 466.7 512.4 469.5 512.9 472.2 513.4 474.9 513.9 477.7 514.4 480.4 515 483.1 515.5 485.8 516.1 488.5 516.6 491.2 517.2 493.9 517.8 496.5 518.4 499.2 519 501.8 519.7 504.4 520.3 507 520.9 509.6 521.6 512.2 522.3 514.8 522.9 517.3 523.6 519.8 524.3 522.3 525 524.8 525.8 527.3 526.5 529.7 527.2 532.1 528 534.5 528.7 536.9 529.5 539.2 530.3 541.5 531.1 543.8 531.9 546.1 532.7 548.3 533.5 550.5 534.3 552.7 535.2 554.9 536 557 536.8 559.1 537.7 561.1 538.6 563.1 539.5 565.1 540.3 567.1 541.2 569 542.1 570.9 543 572.8 544 574.6 544.9 576.4 545.8 578.1 546.7 579.8 547.7 581.5 548.6 583.1 549.6 584.7 550.6 586.3 551.5 587.8 552.5 589.3 553.5 590.7 554.5 592.1 555.5 593.4 556.5 594.7 557.5 596 558.5 597.2 559.5 598.4 560.5 599.5 561.6 600.6 562.6 601.7 563.6 602.7 564.7 603.6 565.7 604.6 566.7 605.4 567.8 606.2 568.8 607 569.9 607.7 571 608.4 572 609.1 573.1 609.6 574.1 610.2 575.2 610.7 576.3 611.1 577.3 611.5 578.4 611.9 579.5 612.2 580.6 612.4 581.6 612.6 582.7 612.8 583.8 612.9 584.9 613 585.9 613 587 613 588.1 612.9 589.1" stroke="#9a9a9a" stroke-width="31"/><path d="M298.6 508.4L298.5 508.2 298.5 508 298.5 507.8 298.6 507.6 298.7 507.3 298.8 507.1 299 506.9 299.3 506.6 299.6 506.4 299.9 506.2 300.3 506 300.8 505.7 301.3 505.5 301.8 505.3 302.4 505.1 303 504.9 303.7 504.7 304.4 504.5 305.2 504.3 306 504.1 306.9 503.9 307.8 503.7 308.8 503.5 309.8 503.4 310.8 503.2 311.9 503 313.1 502.9 314.2 502.7 315.5 502.6 316.7 502.4 318 502.3 319.4 502.2 320.8 502.1 322.2 502 323.7 501.9 325.2 501.8 326.8 501.7 328.4 501.6 330 501.5 331.7 501.4 333.4 501.4 335.1 501.3 336.9 501.3 338.7 501.2 340.6 501.2 342.5 501.1 344.4 501.1 346.4 501.1 348.4 501.1 350.4 501.1 352.4 501.1 354.5 501.2 356.6 501.2 358.8 501.2 361 501.3 363.2 501.3 365.4 501.4 367.7 501.5 370 501.6 372.3 501.6 374.6 501.8 377 501.9 379.4 502 381.8 502.1 384.3 502.3 386.7 502.4 389.2 502.6 391.7 502.8 394.2 502.9 396.8 503.1 399.3 503.3 401.9 503.6 404.5 503.8 407.1 504 409.7 504.3 412.4 504.5 415 504.8 417.7 505.1 420.4 505.4 423 505.7 425.7 506 428.4 506.3 431.2 506.7 433.9 507 436.6 507.4 439.3 507.7 442.1 508.1 444.8 508.5 447.6 508.9 450.3 509.3 453.1 509.7 455.8 510.2 458.6 510.6 461.3 511.1 464.1 511.6 466.8 512 469.5 512.5 472.3 513 475 513.5 477.7 514.1 480.5 514.6 483.2 515.2 485.9 515.7 488.6 516.3 491.3 516.9 493.9 517.5 496.6 518.1 499.2 518.7 501.9 519.3 504.5 519.9 507.1 520.6 509.7 521.3 512.3 521.9 514.8 522.6 517.4 523.3 519.9 524 522.4 524.7 524.9 525.4 527.4 526.2 529.8 526.9 532.2 527.6 534.6 528.4 537 529.2 539.3 530 541.6 530.7 543.9 531.5 546.2 532.3 548.4 533.2 550.7 534 552.8 534.8 555 535.7 557.1 536.5 559.2 537.4 561.3 538.3 563.3 539.1 565.3 540 567.2 540.9 569.2 541.8 571.1 542.7 572.9 543.6 574.7 544.6 576.5 545.5 578.3 546.4 580 547.4 581.7 548.3 583.3 549.3 584.9 550.3 586.5 551.2 588 552.2 589.5 553.2 590.9 554.2 592.3 555.2 593.6 556.2 595 557.2 596.2 558.2 597.5 559.2 598.6 560.3 599.8 561.3 600.9 562.3 601.9 563.4 602.9 564.4 603.9 565.5 604.8 566.6 605.6 567.6 606.4 568.7 607.2 569.8 607.9 570.8 608.6 571.9 609.2 573 609.8 574.1 610.3 575.1 610.8 576.2 611.3 577.3 611.6 578.4 612 579.4 612.3 580.5 612.5 581.6 612.7 582.7 612.9 583.8 613 584.8 613 585.9 613 587 613 588.1 612.9 589.1" stroke="#ababab" stroke-width="28"/><path d="M298.7 508.4L298.6 508.2 298.5 508 298.5 507.8 298.5 507.5 298.6 507.3 298.7 507 298.9 506.8 299.2 506.5 299.4 506.2 299.8 506 300.2 505.7 300.6 505.5 301.1 505.2 301.7 505 302.3 504.7 302.9 504.5 303.6 504.3 304.3 504 305.1 503.8 305.9 503.6 306.8 503.3 307.7 503.1 308.7 502.9 309.7 502.7 310.7 502.5 311.8 502.3 313 502.2 314.2 502 315.4 501.9 316.7 501.7 318 501.6 319.3 501.5 320.7 501.4 322.2 501.3 323.6 501.2 325.2 501.1 326.7 501 328.3 500.9 330 500.8 331.6 500.7 333.3 500.7 335.1 500.6 336.9 500.6 338.7 500.5 340.6 500.5 342.5 500.4 344.4 500.4 346.4 500.4 348.4 500.4 350.4 500.4 352.4 500.4 354.5 500.5 356.7 500.5 358.8 500.5 361 500.6 363.2 500.6 365.4 500.7 367.7 500.8 370 500.9 372.3 500.9 374.7 501.1 377.1 501.2 379.4 501.3 381.9 501.4 384.3 501.6 386.8 501.7 389.3 501.9 391.8 502.1 394.3 502.2 396.8 502.4 399.4 502.6 402 502.9 404.6 503.1 407.2 503.3 409.8 503.6 412.4 503.8 415.1 504.1 417.8 504.4 420.4 504.7 423.1 505 425.8 505.3 428.5 505.6 431.2 506 434 506.3 436.7 506.7 439.4 507 442.2 507.4 444.9 507.8 447.7 508.2 450.4 508.6 453.2 509 455.9 509.5 458.7 509.9 461.4 510.4 464.2 510.9 466.9 511.3 469.7 511.8 472.4 512.3 475.1 512.9 477.9 513.4 480.6 513.9 483.3 514.5 486 515 488.7 515.6 491.4 516.2 494.1 516.8 496.8 517.4 499.4 518 502 518.6 504.7 519.3 507.3 519.9 509.9 520.6 512.5 521.2 515 521.9 517.6 522.6 520.1 523.3 522.6 524 525.1 524.7 527.6 525.5 530 526.2 532.4 527 534.8 527.7 537.2 528.5 539.5 529.3 541.9 530.1 544.2 530.9 546.4 531.7 548.7 532.5 550.9 533.3 553.1 534.2 555.2 535 557.4 535.9 559.5 536.7 561.5 537.6 563.6 538.5 565.6 539.4 567.5 540.3 569.5 541.2 571.4 542.1 573.2 543 575.1 543.9 576.9 544.9 578.6 545.8 580.3 546.8 582 547.7 583.7 548.7 585.3 549.7 586.8 550.7 588.4 551.6 589.8 552.6 591.3 553.6 592.7 554.6 594.1 555.6 595.4 556.7 596.7 557.7 597.9 558.7 599.1 559.7 600.3 560.8 601.3 561.8 602.4 562.9 603.4 564 604.3 565.1 605.2 566.2 606 567.3 606.8 568.4 607.6 569.5 608.3 570.6 609 571.7 609.6 572.8 610.1 573.9 610.6 575 611.1 576.1 611.5 577.2 611.9 578.3 612.2 579.4 612.4 580.5 612.7 581.6 612.8 582.7 612.9 583.8 613 584.8 613 585.9 613 587 612.9 588.1 612.8 589.1" stroke="#b9b9b9" stroke-width="25"/><path d="M298.8 508.3L298.6 508.2 298.5 508 298.4 507.8 298.4 507.5 298.5 507.2 298.6 506.9 298.8 506.6 299 506.3 299.3 506 299.6 505.7 300 505.4 300.5 505.1 301 504.8 301.5 504.5 302.1 504.2 302.7 503.9 303.4 503.6 304.1 503.3 304.9 503 305.7 502.8 306.6 502.5 307.5 502.2 308.5 502 309.5 501.7 310.6 501.5 311.7 501.3 312.8 501.1 314 501 315.3 500.8 316.5 500.7 317.9 500.6 319.2 500.4 320.6 500.3 322.1 500.2 323.6 500.1 325.1 500 326.7 499.9 328.3 499.8 329.9 499.8 331.6 499.7 333.3 499.6 335.1 499.6 336.9 499.5 338.7 499.5 340.6 499.4 342.5 499.4 344.4 499.4 346.4 499.4 348.4 499.4 350.4 499.4 352.5 499.4 354.5 499.4 356.7 499.4 358.8 499.5 361 499.5 363.2 499.6 365.5 499.6 367.8 499.7 370.1 499.8 372.4 499.9 374.7 500 377.1 500.1 379.5 500.2 381.9 500.4 384.4 500.5 386.8 500.7 389.3 500.8 391.8 501 394.4 501.2 396.9 501.4 399.5 501.6 402.1 501.8 404.7 502 407.3 502.3 409.9 502.5 412.5 502.8 415.2 503.1 417.9 503.3 420.5 503.6 423.2 503.9 425.9 504.3 428.7 504.6 431.4 504.9 434.1 505.3 436.8 505.6 439.6 506 442.3 506.4 445.1 506.8 447.8 507.2 450.6 507.6 453.3 508 456.1 508.4 458.8 508.9 461.6 509.4 464.4 509.8 467.1 510.3 469.9 510.8 472.6 511.3 475.3 511.8 478.1 512.4 480.8 512.9 483.5 513.4 486.2 514 488.9 514.6 491.6 515.2 494.3 515.8 497 516.4 499.6 517 502.3 517.6 504.9 518.2 507.5 518.9 510.1 519.6 512.7 520.2 515.3 520.9 517.8 521.6 520.4 522.3 522.9 523 525.4 523.7 527.9 524.5 530.3 525.2 532.7 526 535.1 526.7 537.5 527.5 539.9 528.3 542.2 529.1 544.5 529.9 546.8 530.7 549 531.5 551.3 532.4 553.5 533.2 555.6 534 557.8 534.9 559.9 535.8 561.9 536.6 564 537.5 566 538.4 568 539.3 569.9 540.2 571.8 541.1 573.7 542.1 575.5 543 577.4 544 579.1 544.9 580.9 545.9 582.5 546.8 584.2 547.8 585.8 548.8 587.4 549.8 588.9 550.8 590.4 551.8 591.9 552.8 593.3 553.8 594.7 554.8 596 555.8 597.3 556.9 598.6 557.9 599.8 559 601 560 602.1 561.1 603.1 562.2 604 563.4 605 564.5 605.9 565.6 606.7 566.8 607.5 567.9 608.2 569.1 608.9 570.2 609.5 571.3 610.1 572.5 610.6 573.6 611.1 574.8 611.5 575.9 611.9 577 612.2 578.2 612.5 579.3 612.7 580.4 612.9 581.5 613 582.6 613.1 583.7 613.1 584.8 613.1 585.9 613 587 612.9 588.1 612.7 589.1" stroke="#c5c5c5" stroke-width="21"/><path d="M299 508.3L298.7 508.2 298.5 508 298.4 507.8 298.3 507.5 298.3 507.1 298.4 506.7 298.5 506.4 298.8 506 299 505.6 299.4 505.2 299.8 504.9 300.2 504.5 300.7 504.1 301.3 503.8 301.8 503.4 302.5 503.1 303.2 502.7 303.9 502.4 304.7 502 305.5 501.7 306.4 501.4 307.3 501.1 308.3 500.7 309.3 500.4 310.4 500.1 311.5 499.9 312.7 499.7 313.9 499.6 315.1 499.4 316.4 499.3 317.7 499.2 319.1 499.1 320.5 498.9 322 498.8 323.5 498.7 325 498.6 326.6 498.5 328.2 498.4 329.8 498.4 331.5 498.3 333.3 498.2 335 498.2 336.8 498.1 338.7 498.1 340.5 498 342.4 498 344.4 498 346.3 498 348.4 498 350.4 498 352.5 498 354.6 498 356.7 498 358.9 498.1 361.1 498.1 363.3 498.2 365.5 498.2 367.8 498.3 370.1 498.4 372.4 498.5 374.8 498.6 377.2 498.7 379.6 498.8 382 499 384.5 499.1 386.9 499.3 389.4 499.4 391.9 499.6 394.5 499.8 397 500 399.6 500.2 402.2 500.4 404.8 500.7 407.4 500.9 410 501.1 412.7 501.4 415.3 501.7 418 502 420.7 502.2 423.4 502.5 426.1 502.9 428.8 503.2 431.5 503.5 434.3 503.9 437 504.2 439.8 504.6 442.5 505 445.3 505.4 448 505.8 450.8 506.2 453.5 506.6 456.3 507.1 459.1 507.5 461.8 508 464.6 508.4 467.4 508.9 470.1 509.4 472.9 509.9 475.6 510.5 478.3 511 481.1 511.5 483.8 512.1 486.5 512.6 489.2 513.2 491.9 513.8 494.6 514.4 497.3 515 500 515.6 502.6 516.2 505.3 516.9 507.9 517.5 510.5 518.2 513.1 518.9 515.7 519.6 518.2 520.3 520.8 521 523.3 521.7 525.8 522.4 528.3 523.1 530.7 523.9 533.2 524.6 535.6 525.4 538 526.2 540.3 527 542.7 527.8 545 528.6 547.3 529.4 549.5 530.2 551.8 531 554 531.9 556.1 532.7 558.3 533.6 560.4 534.5 562.5 535.4 564.6 536.2 566.6 537.1 568.6 538.1 570.5 539 572.4 539.9 574.3 540.8 576.2 541.8 578 542.7 579.8 543.7 581.5 544.6 583.2 545.6 584.9 546.6 586.6 547.6 588.1 548.6 589.7 549.6 591.2 550.6 592.7 551.6 594.1 552.7 595.5 553.7 596.9 554.7 598.2 555.8 599.5 556.8 600.7 557.9 601.9 559 603 560.1 604 561.3 605 562.5 605.9 563.7 606.7 564.9 607.5 566.1 608.3 567.3 609 568.5 609.6 569.7 610.2 570.9 610.8 572.1 611.3 573.3 611.7 574.5 612.1 575.7 612.4 576.8 612.7 578 612.9 579.2 613.1 580.3 613.2 581.5 613.3 582.6 613.3 583.7 613.2 584.8 613.1 585.9 613 587 612.8 588.1 612.5 589.1" stroke="#d1d1d1" stroke-width="15"/><path d="M299.2 508.2L298.9 508.1 298.5 508 298.3 507.7 298.1 507.4 298.1 507 298.1 506.5 298.2 506 298.4 505.5 298.7 505.1 299 504.6 299.4 504.1 299.9 503.7 300.3 503.2 300.9 502.7 301.5 502.3 302.1 501.8 302.8 501.4 303.6 501 304.4 500.5 305.2 500.1 306.1 499.7 307 499.3 308 498.9 309 498.5 310.1 498.1 311.2 497.8 312.4 497.7 313.6 497.5 314.9 497.4 316.2 497.2 317.5 497.1 318.9 497 320.4 496.8 321.8 496.7 323.3 496.6 324.9 496.5 326.5 496.4 328.1 496.3 329.8 496.3 331.4 496.2 333.2 496.1 335 496.1 336.8 496 338.6 496 340.5 495.9 342.4 495.9 344.4 495.9 346.3 495.9 348.4 495.9 350.4 495.9 352.5 495.9 354.6 495.9 356.7 495.9 358.9 496 361.1 496 363.3 496.1 365.6 496.1 367.9 496.2 370.2 496.3 372.5 496.4 374.9 496.5 377.3 496.6 379.7 496.7 382.1 496.9 384.6 497 387.1 497.2 389.6 497.3 392.1 497.5 394.6 497.7 397.2 497.9 399.8 498.1 402.4 498.3 405 498.6 407.6 498.8 410.2 499 412.9 499.3 415.6 499.6 418.2 499.9 420.9 500.2 423.6 500.5 426.4 500.8 429.1 501.1 431.8 501.4 434.5 501.8 437.3 502.2 440 502.5 442.8 502.9 445.6 503.3 448.3 503.7 451.1 504.1 453.9 504.6 456.6 505 459.4 505.4 462.2 505.9 465 506.4 467.7 506.9 470.5 507.4 473.2 507.9 476 508.4 478.7 508.9 481.5 509.5 484.2 510 487 510.6 489.7 511.2 492.4 511.7 495.1 512.3 497.8 513 500.4 513.6 503.1 514.2 505.8 514.8 508.4 515.5 511 516.2 513.6 516.8 516.2 517.5 518.8 518.2 521.3 518.9 523.9 519.7 526.4 520.4 528.9 521.1 531.3 521.9 533.8 522.6 536.2 523.4 538.6 524.2 541 525 543.4 525.8 545.7 526.6 548 527.4 550.3 528.2 552.5 529.1 554.7 529.9 556.9 530.8 559.1 531.7 561.2 532.5 563.3 533.4 565.4 534.3 567.4 535.2 569.4 536.1 571.4 537.1 573.4 538 575.3 538.9 577.1 539.9 579 540.9 580.8 541.8 582.6 542.8 584.3 543.8 586 544.8 587.7 545.8 589.3 546.8 590.9 547.8 592.4 548.9 593.9 549.9 595.4 551 596.8 552 598.2 553.1 599.5 554.2 600.8 555.2 602.1 556.3 603.3 557.4 604.4 558.6 605.4 559.9 606.3 561.2 607.2 562.5 608 563.8 608.8 565.1 609.5 566.4 610.2 567.7 610.8 568.9 611.3 570.2 611.8 571.5 612.2 572.8 612.6 574 612.9 575.3 613.2 576.5 613.4 577.8 613.5 579 613.6 580.2 613.6 581.4 613.6 582.5 613.5 583.7 613.4 584.8 613.2 585.9 613 587 612.6 588.1 612.2 589.1" stroke="#e0e0e0" stroke-width="9"/><path d="M299.4 508.1L298.9 508.1 298.5 508 298.2 507.7 298 507.3 297.9 506.9 297.9 506.3 298 505.8 298.2 505.3 298.5 504.7 298.8 504.2 299.2 503.6 299.6 503.1 300.1 502.6 300.7 502.1 301.2 501.5 301.9 501 302.6 500.5 303.3 500 304.1 499.5 305 499.1 305.9 498.6 306.8 498.1 307.8 497.7 308.8 497.2 309.9 496.8 311 496.4 312.2 496.3 313.4 496.1 314.7 496 316 495.8 317.4 495.7 318.8 495.6 320.2 495.4 321.7 495.3 323.2 495.2 324.8 495.1 326.4 495 328 494.9 329.7 494.9 331.4 494.8 333.1 494.7 334.9 494.7 336.7 494.6 338.6 494.6 340.5 494.5 342.4 494.5 344.3 494.5 346.3 494.5 348.4 494.5 350.4 494.5 352.5 494.5 354.6 494.5 356.8 494.5 358.9 494.6 361.1 494.6 363.4 494.7 365.6 494.7 367.9 494.8 370.2 494.9 372.6 495 375 495.1 377.3 495.2 379.8 495.4 382.2 495.5 384.7 495.6 387.2 495.8 389.7 496 392.2 496.1 394.7 496.3 397.3 496.5 399.9 496.7 402.5 496.9 405.1 497.2 407.7 497.4 410.4 497.7 413 497.9 415.7 498.2 418.4 498.5 421.1 498.8 423.8 499.1 426.5 499.4 429.2 499.7 432 500.1 434.7 500.4 437.5 500.8 440.2 501.1 443 501.5 445.8 501.9 448.5 502.3 451.3 502.7 454.1 503.2 456.9 503.6 459.6 504.1 462.4 504.5 465.2 505 468 505.5 470.7 506 473.5 506.5 476.3 507 479 507.5 481.8 508.1 484.5 508.6 487.2 509.2 490 509.8 492.7 510.4 495.4 511 498.1 511.6 500.8 512.2 503.4 512.8 506.1 513.5 508.7 514.1 511.4 514.8 514 515.5 516.6 516.2 519.1 516.9 521.7 517.6 524.2 518.3 526.8 519 529.3 519.8 531.7 520.5 534.2 521.3 536.6 522.1 539.1 522.9 541.4 523.6 543.8 524.5 546.1 525.3 548.5 526.1 550.7 526.9 553 527.8 555.2 528.6 557.4 529.5 559.6 530.4 561.8 531.2 563.9 532.1 566 533 568 534 570 534.9 572 535.8 574 536.7 575.9 537.7 577.8 538.7 579.6 539.6 581.5 540.6 583.2 541.6 585 542.6 586.7 543.6 588.4 544.6 590 545.6 591.6 546.7 593.2 547.7 594.7 548.8 596.2 549.8 597.6 550.9 599.1 552 600.4 553.1 601.8 554.2 603 555.3 604.3 556.4 605.4 557.7 606.3 559 607.2 560.4 608.1 561.7 608.9 563.1 609.6 564.4 610.3 565.7 610.9 567.1 611.5 568.4 612 569.8 612.5 571.1 612.9 572.4 613.2 573.7 613.5 575 613.7 576.3 613.8 577.6 613.9 578.9 614 580.1 613.9 581.3 613.9 582.5 613.7 583.7 613.5 584.8 613.3 585.9 613 587 612.6 588.1 612.1 589.1" stroke="#ececec" stroke-width="4.5"/><path d="M292.5 508L292.6 506.7 293 505.3 293.6 504.1 294.3 503.2 295 502.5 295.7 501.9 296.4 501.4 297.1 501 297.8 500.7 298.4 500.4 299.1 500.1 299.9 499.8 300.6 499.6 301.4 499.3 302.2 499.1 303.1 498.9 303.9 498.7 304.8 498.5 305.8 498.3 306.8 498.1 307.8 497.9 308.9 497.7 310 497.6 311.1 497.4 312.3 497.3 313.6 497.1 314.8 497 316.1 496.8 317.5 496.7 318.9 496.6 320.3 496.4 321.8 496.3 323.3 496.2 324.9 496.1 326.4 496 328.1 495.9 329.7 495.9 331.4 495.8 333.2 495.7 334.9 495.7" stroke="url(#g22)" stroke-width="14" filter="url(#bl)"/><path d="M296.5 495.8L297.3 495.4 298.2 495.1 299.1 494.8 300 494.5 300.9 494.3 301.9 494 302.8 493.8 303.8 493.6 304.8 493.4 305.9 493.2 307 493 308.1 492.8 309.3 492.6 310.5 492.5 311.7 492.3 313 492.1 314.3 492 315.6 491.9 317 491.7 318.5 491.6 319.9 491.5 321.4 491.3 323 491.2 324.5 491.1 326.2 491 327.8 490.9 329.5 490.9 331.2 490.8 333 490.7 334.8 490.7 336.6 490.6 338.5 490.6 340.4 490.5 342.3 490.5 344.3 490.5 346.3 490.5 348.4 490.5 350.4 490.5 352.5 490.5 354.7 490.5 356.8 490.5 359 490.6 361.2 490.6 363.5 490.7 365.8 490.7 368.1 490.8 370.4 490.9 372.8 491 375.1 491.1 377.5 491.2 380 491.4 382.4 491.5 384.9 491.6 387.4 491.8 389.9 492 392.5 492.1 395 492.3 397.6 492.5 400.2 492.7 402.8 493 405.4 493.2 408.1 493.4 410.8 493.7 413.4 493.9 416.1 494.2 418.8 494.5 421.5 494.8 424.3 495.1 427 495.4 429.7 495.7 432.5 496.1 435.2 496.4 438 496.8 440.8 497.2 443.6 497.6 446.3 498 449.1 498.4 451.9 498.8 454.7 499.2 457.5 499.7 460.3 500.1 463.1 500.6 465.9 501.1 468.7 501.5 471.4 502.1" stroke="url(#g27)" stroke-width="2.5"/><path d="M538.2 517.3L540.6 518.1 543 518.9 545.4 519.7 547.8 520.5 550.2 521.4 552.5 522.2 554.8 523.1 557 524 559.3 524.8 561.5 525.7 563.7 526.6 565.8 527.5 568 528.5 570.1 529.4 572.1 530.3 574.2 531.3 576.2 532.2 578.1 533.2 580.1 534.2 582 535.2 583.9 536.2 585.7 537.2 587.5 538.3 589.3 539.3 591 540.3 592.7 541.4 594.4 542.5 596 543.6 597.6 544.7 599.1 545.8 600.7 546.9 602.1 548 603.6 549.2 605 550.4 606.4 551.5 607.7 552.7 609 553.9 610.2 555.2 611.4 556.4 612.6 557.7 613.7 559 614.8 560.3 615.8 561.6 616.8 562.9 617.7 564.3 618.6 565.7 619.5 567.1 620.2 568.5 621 570 621.7 571.4 622.3 572.9 622.9 574.4 623.4 576 623.8 577.5 624.2 579.1 624.5 580.7 624.7 582.3 624.9 583.9 625 585.5 625 587" stroke="url(#g34)" stroke-width="8"/><path d="M548.6 525.6L550.9 526.5 553.2 527.3 555.4 528.2 557.6 529 559.8 529.9 562 530.8 564.1 531.7 566.2 532.6 568.2 533.5 570.2 534.4 572.2 535.4 574.2 536.3 576.1 537.2 578 538.2 579.9 539.2 581.7 540.2 583.5 541.2 585.2 542.2 587 543.2 588.6 544.2 590.3 545.2 591.9 546.2 593.5 547.3 595 548.3 596.5 549.4 597.9 550.5 599.4 551.6 600.7 552.7 602.1 553.8 603.4 554.9 604.6 556 605.8 557.2 607 558.3 608.1 559.5 609.2 560.7 610.3 561.9 611.3 563.1 612.2 564.3 613.1 565.5 614 566.8 614.8 568.1 615.6 569.3 616.3 570.6 616.9 571.9 617.5 573.2 618.1 574.6 618.6 575.9 619.1 577.3 619.4 578.7 619.8 580 620 581.4 620.2 582.8 620.4 584.2 620.5 585.6 620.5 587" stroke="url(#g36)" stroke-width="3.5"/><path d="M297.6 360.3L297.5 360.2 297.5 360 297.5 359.8 297.6 359.7 297.7 359.5 297.9 359.3 298.1 359.1 298.4 359 298.7 358.8 299 358.6 299.4 358.5 299.9 358.3 300.4 358.1 301 358 301.5 357.8 302.2 357.7 302.9 357.5 303.6 357.4 304.4 357.2 305.2 357.1 306.1 356.9 307 356.8 308 356.7 309 356.5 310.1 356.4 311.2 356.3 312.3 356.2 313.5 356.1 314.7 355.9 316 355.8 317.3 355.7 318.7 355.7 320.1 355.6 321.5 355.5 323 355.4 324.5 355.3 326.1 355.3 327.7 355.2 329.3 355.2 331 355.1 332.7 355.1 334.5 355 336.3 355 338.1 355 339.9 355 341.8 355 343.8 355 345.7 355 347.7 355 349.8 355 351.8 355.1 353.9 355.1 356.1 355.1 358.2 355.2 360.4 355.3 362.6 355.3 364.9 355.4 367.1 355.5 369.4 355.6 371.8 355.7 374.1 355.8 376.5 355.9 378.9 356.1 381.3 356.2 383.8 356.4 386.2 356.5 388.7 356.7 391.2 356.9 393.8 357.1 396.3 357.3 398.9 357.5 401.5 357.7 404.1 357.9 406.7 358.2 409.3 358.4 411.9 358.7 414.6 358.9 417.3 359.2 420 359.5 422.6 359.8 425.4 360.1 428.1 360.4 430.8 360.8 433.5 361.1 436.2 361.5 439 361.8 441.7 362.2 444.5 362.6 447.2 363 450 363.4 452.7 363.8 455.5 364.2 458.3 364.6 461 365.1 463.8 365.5 466.5 366 469.3 366.5 472 366.9 474.8 367.4 477.5 367.9 480.2 368.5 482.9 369 485.6 369.5 488.4 370.1 491 370.6 493.7 371.2 496.4 371.8 499.1 372.4 501.7 373 504.3 373.6 506.9 374.2 509.5 374.8 512.1 375.5 514.7 376.1 517.2 376.8 519.8 377.4 522.3 378.1 524.8 378.8 527.2 379.5 529.7 380.2 532.1 380.9 534.5 381.6 536.9 382.4 539.2 383.1 541.6 383.9 543.9 384.6 546.1 385.4 548.4 386.2 550.6 386.9 552.8 387.7 554.9 388.5 557.1 389.3 559.2 390.2 561.2 391 563.3 391.8 565.3 392.7 567.2 393.5 569.2 394.4 571.1 395.2 572.9 396.1 574.7 397 576.5 397.9 578.3 398.7 580 399.6 581.7 400.6 583.3 401.5 584.9 402.4 586.5 403.3 588 404.2 589.5 405.2 590.9 406.1 592.3 407 593.7 408 595 408.9 596.3 409.9 597.5 410.9 598.7 411.8 599.8 412.8 600.9 413.8 602 414.8 603 415.8 604 416.7 604.9 417.7 605.8 418.7 606.6 419.7 607.4 420.7 608.1 421.7 608.8 422.7 609.5 423.8 610 424.8 610.6 425.8 611.1 426.8 611.6 427.8 612 428.8 612.3 429.8 612.6 430.9 612.9 431.9 613.1 432.9 613.3 433.9 613.4 435 613.5 436 613.5 437 613.5 438 613.4 439" stroke="#505050" stroke-width="33.5"/><path d="M297.6 360.3L297.5 360.2 297.5 360 297.5 359.8 297.6 359.7 297.7 359.5 297.9 359.3 298.1 359.1 298.4 359 298.7 358.8 299 358.6 299.4 358.5 299.9 358.3 300.4 358.1 301 358 301.5 357.8 302.2 357.7 302.9 357.5 303.6 357.4 304.4 357.2 305.2 357.1 306.1 356.9 307 356.8 308 356.7 309 356.5 310.1 356.4 311.2 356.3 312.3 356.2 313.5 356.1 314.7 355.9 316 355.8 317.3 355.7 318.7 355.7 320.1 355.6 321.5 355.5 323 355.4 324.5 355.3 326.1 355.3 327.7 355.2 329.3 355.2 331 355.1 332.7 355.1 334.5 355 336.3 355 338.1 355 339.9 355 341.8 355 343.8 355 345.7 355 347.7 355 349.8 355 351.8 355.1 353.9 355.1 356.1 355.1 358.2 355.2 360.4 355.3 362.6 355.3 364.9 355.4 367.1 355.5 369.4 355.6 371.8 355.7 374.1 355.8 376.5 355.9 378.9 356.1 381.3 356.2 383.8 356.4 386.2 356.5 388.7 356.7 391.2 356.9 393.8 357.1 396.3 357.3 398.9 357.5 401.5 357.7 404.1 357.9 406.7 358.2 409.3 358.4 411.9 358.7 414.6 358.9 417.3 359.2 420 359.5 422.6 359.8 425.4 360.1 428.1 360.4 430.8 360.8 433.5 361.1 436.2 361.5 439 361.8 441.7 362.2 444.5 362.6 447.2 363 450 363.4 452.7 363.8 455.5 364.2 458.3 364.6 461 365.1 463.8 365.5 466.5 366 469.3 366.5 472 366.9 474.8 367.4 477.5 367.9 480.2 368.5 482.9 369 485.6 369.5 488.4 370.1 491 370.6 493.7 371.2 496.4 371.8 499.1 372.4 501.7 373 504.3 373.6 506.9 374.2 509.5 374.8 512.1 375.5 514.7 376.1 517.2 376.8 519.8 377.4 522.3 378.1 524.8 378.8 527.2 379.5 529.7 380.2 532.1 380.9 534.5 381.6 536.9 382.4 539.2 383.1 541.6 383.9 543.9 384.6 546.1 385.4 548.4 386.2 550.6 386.9 552.8 387.7 554.9 388.5 557.1 389.3 559.2 390.2 561.2 391 563.3 391.8 565.3 392.7 567.2 393.5 569.2 394.4 571.1 395.2 572.9 396.1 574.7 397 576.5 397.9 578.3 398.7 580 399.6 581.7 400.6 583.3 401.5 584.9 402.4 586.5 403.3 588 404.2 589.5 405.2 590.9 406.1 592.3 407 593.7 408 595 408.9 596.3 409.9 597.5 410.9 598.7 411.8 599.8 412.8 600.9 413.8 602 414.8 603 415.8 604 416.7 604.9 417.7 605.8 418.7 606.6 419.7 607.4 420.7 608.1 421.7 608.8 422.7 609.5 423.8 610 424.8 610.6 425.8 611.1 426.8 611.6 427.8 612 428.8 612.3 429.8 612.6 430.9 612.9 431.9 613.1 432.9 613.3 433.9 613.4 435 613.5 436 613.5 437 613.5 438 613.4 439" stroke="#9a9a9a" stroke-width="31"/><path d="M297.6 360.3L297.5 360.2 297.5 360 297.5 359.8 297.6 359.6 297.7 359.4 297.8 359.3 298.1 359.1 298.3 358.9 298.6 358.7 299 358.5 299.4 358.3 299.9 358.2 300.4 358 300.9 357.8 301.5 357.6 302.1 357.5 302.8 357.3 303.6 357.1 304.4 357 305.2 356.8 306.1 356.6 307 356.5 308 356.3 309 356.2 310 356.1 311.1 355.9 312.3 355.8 313.5 355.7 314.7 355.6 316 355.5 317.3 355.4 318.6 355.3 320 355.2 321.5 355.1 323 355.1 324.5 355 326.1 354.9 327.7 354.9 329.3 354.8 331 354.8 332.7 354.7 334.5 354.7 336.3 354.7 338.1 354.6 339.9 354.6 341.8 354.6 343.8 354.6 345.7 354.6 347.7 354.7 349.8 354.7 351.8 354.7 353.9 354.7 356.1 354.8 358.2 354.8 360.4 354.9 362.6 355 364.9 355.1 367.2 355.2 369.5 355.3 371.8 355.4 374.1 355.5 376.5 355.6 378.9 355.7 381.3 355.9 383.8 356 386.3 356.2 388.8 356.4 391.3 356.5 393.8 356.7 396.3 356.9 398.9 357.1 401.5 357.4 404.1 357.6 406.7 357.8 409.3 358.1 412 358.3 414.6 358.6 417.3 358.9 420 359.2 422.7 359.5 425.4 359.8 428.1 360.1 430.8 360.4 433.6 360.8 436.3 361.1 439 361.5 441.8 361.8 444.5 362.2 447.3 362.6 450 363 452.8 363.4 455.6 363.8 458.3 364.3 461.1 364.7 463.8 365.2 466.6 365.6 469.3 366.1 472.1 366.6 474.8 367.1 477.6 367.6 480.3 368.1 483 368.6 485.7 369.2 488.4 369.7 491.1 370.3 493.8 370.9 496.5 371.4 499.1 372 501.8 372.6 504.4 373.2 507 373.8 509.6 374.5 512.2 375.1 514.8 375.8 517.3 376.4 519.9 377.1 522.4 377.8 524.9 378.5 527.3 379.1 529.8 379.9 532.2 380.6 534.6 381.3 537 382 539.3 382.8 541.7 383.5 544 384.3 546.2 385 548.5 385.8 550.7 386.6 552.9 387.4 555.1 388.2 557.2 389 559.3 389.8 561.4 390.7 563.4 391.5 565.4 392.3 567.4 393.2 569.3 394 571.2 394.9 573.1 395.8 574.9 396.7 576.7 397.5 578.4 398.4 580.2 399.3 581.9 400.2 583.5 401.2 585.1 402.1 586.7 403 588.2 403.9 589.7 404.9 591.1 405.8 592.5 406.8 593.9 407.7 595.2 408.7 596.5 409.6 597.7 410.6 598.9 411.6 600.1 412.5 601.2 413.5 602.2 414.5 603.2 415.5 604.2 416.5 605.1 417.5 606 418.6 606.8 419.6 607.6 420.6 608.3 421.6 609 422.6 609.6 423.6 610.2 424.7 610.7 425.7 611.2 426.7 611.7 427.8 612.1 428.8 612.4 429.8 612.7 430.8 613 431.9 613.2 432.9 613.3 433.9 613.4 435 613.5 436 613.5 437 613.5 438 613.4 439" stroke="#ababab" stroke-width="28"/><path d="M297.7 360.3L297.6 360.2 297.5 360 297.5 359.8 297.5 359.6 297.6 359.4 297.8 359.2 298 358.9 298.2 358.7 298.5 358.5 298.9 358.3 299.3 358.1 299.8 357.9 300.3 357.7 300.8 357.5 301.4 357.2 302.1 357 302.7 356.8 303.5 356.7 304.3 356.5 305.1 356.3 306 356.1 306.9 355.9 307.9 355.7 308.9 355.6 309.9 355.4 311 355.2 312.2 355.1 313.4 355 314.6 354.9 315.9 354.8 317.2 354.7 318.6 354.6 320 354.5 321.5 354.4 322.9 354.4 324.5 354.3 326 354.2 327.6 354.2 329.3 354.1 331 354.1 332.7 354 334.4 354 336.2 354 338.1 353.9 339.9 353.9 341.8 353.9 343.8 353.9 345.8 353.9 347.8 354 349.8 354 351.9 354 354 354 356.1 354.1 358.3 354.1 360.4 354.2 362.7 354.3 364.9 354.4 367.2 354.5 369.5 354.6 371.8 354.7 374.2 354.8 376.6 354.9 379 355 381.4 355.2 383.8 355.3 386.3 355.5 388.8 355.7 391.3 355.8 393.8 356 396.4 356.2 399 356.4 401.6 356.7 404.2 356.9 406.8 357.1 409.4 357.4 412.1 357.6 414.7 357.9 417.4 358.2 420.1 358.5 422.8 358.8 425.5 359.1 428.2 359.4 430.9 359.7 433.6 360.1 436.4 360.4 439.1 360.8 441.9 361.1 444.6 361.5 447.4 361.9 450.1 362.3 452.9 362.7 455.7 363.2 458.4 363.6 461.2 364 463.9 364.5 466.7 364.9 469.5 365.4 472.2 365.9 474.9 366.4 477.7 366.9 480.4 367.4 483.1 368 485.9 368.5 488.6 369 491.3 369.6 493.9 370.2 496.6 370.8 499.3 371.3 501.9 371.9 504.6 372.5 507.2 373.2 509.8 373.8 512.4 374.4 514.9 375.1 517.5 375.7 520 376.4 522.5 377.1 525 377.8 527.5 378.5 530 379.2 532.4 379.9 534.8 380.6 537.2 381.4 539.5 382.1 541.9 382.9 544.2 383.6 546.5 384.4 548.7 385.2 550.9 386 553.1 386.7 555.3 387.6 557.4 388.4 559.5 389.2 561.6 390 563.7 390.8 565.7 391.7 567.6 392.5 569.6 393.4 571.5 394.3 573.4 395.1 575.2 396 577 396.9 578.8 397.8 580.5 398.7 582.2 399.6 583.8 400.5 585.5 401.5 587 402.4 588.6 403.3 590.1 404.3 591.5 405.2 592.9 406.2 594.3 407.1 595.6 408.1 596.9 409.1 598.2 410.1 599.4 411 600.5 412 601.6 413 602.7 414.1 603.7 415.1 604.6 416.1 605.5 417.2 606.4 418.2 607.2 419.2 608 420.3 608.7 421.3 609.3 422.4 610 423.4 610.5 424.5 611 425.5 611.5 426.6 611.9 427.6 612.3 428.7 612.6 429.7 612.9 430.8 613.1 431.8 613.3 432.9 613.4 433.9 613.5 434.9 613.5 436 613.5 437 613.4 438 613.3 439" stroke="#b9b9b9" stroke-width="25"/><path d="M297.8 360.2L297.7 360.1 297.5 360 297.4 359.8 297.4 359.6 297.5 359.3 297.6 359 297.8 358.8 298.1 358.5 298.4 358.2 298.7 358 299.2 357.7 299.6 357.4 300.1 357.2 300.7 356.9 301.3 356.7 301.9 356.4 302.6 356.2 303.3 355.9 304.1 355.7 305 355.5 305.8 355.2 306.8 355 307.7 354.8 308.8 354.6 309.8 354.4 310.9 354.2 312.1 354.1 313.3 354 314.5 353.9 315.8 353.8 317.2 353.7 318.5 353.6 319.9 353.5 321.4 353.4 322.9 353.3 324.4 353.2 326 353.2 327.6 353.1 329.3 353.1 330.9 353 332.7 353 334.4 352.9 336.2 352.9 338.1 352.9 339.9 352.9 341.8 352.9 343.8 352.9 345.8 352.9 347.8 352.9 349.8 352.9 351.9 353 354 353 356.1 353 358.3 353.1 360.5 353.2 362.7 353.2 365 353.3 367.2 353.4 369.5 353.5 371.9 353.6 374.2 353.7 376.6 353.9 379 354 381.5 354.1 383.9 354.3 386.4 354.4 388.9 354.6 391.4 354.8 393.9 355 396.5 355.2 399.1 355.4 401.6 355.6 404.2 355.8 406.9 356.1 409.5 356.3 412.2 356.6 414.8 356.9 417.5 357.1 420.2 357.4 422.9 357.7 425.6 358 428.3 358.3 431 358.7 433.8 359 436.5 359.4 439.3 359.7 442 360.1 444.8 360.5 447.5 360.9 450.3 361.3 453.1 361.7 455.8 362.1 458.6 362.5 461.4 363 464.1 363.4 466.9 363.9 469.6 364.4 472.4 364.9 475.1 365.4 477.9 365.9 480.6 366.4 483.3 366.9 486.1 367.5 488.8 368 491.5 368.6 494.2 369.1 496.8 369.7 499.5 370.3 502.2 370.9 504.8 371.5 507.4 372.1 510 372.8 512.6 373.4 515.2 374.1 517.8 374.7 520.3 375.4 522.8 376.1 525.3 376.8 527.8 377.5 530.3 378.2 532.7 378.9 535.1 379.6 537.5 380.4 539.9 381.1 542.2 381.9 544.5 382.6 546.8 383.4 549.1 384.2 551.3 385 553.5 385.8 555.7 386.6 557.8 387.4 559.9 388.2 562 389 564.1 389.9 566.1 390.7 568.1 391.6 570 392.4 571.9 393.3 573.8 394.2 575.7 395.1 577.5 396 579.3 396.9 581 397.8 582.7 398.7 584.4 399.6 586 400.6 587.6 401.5 589.1 402.4 590.6 403.4 592.1 404.3 593.5 405.3 594.9 406.3 596.3 407.3 597.6 408.2 598.8 409.2 600 410.2 601.2 411.2 602.3 412.3 603.4 413.3 604.3 414.4 605.3 415.5 606.2 416.6 607 417.7 607.8 418.8 608.5 419.9 609.2 420.9 609.9 422 610.5 423.1 611 424.2 611.5 425.3 611.9 426.4 612.3 427.5 612.6 428.6 612.9 429.6 613.2 430.7 613.3 431.8 613.5 432.8 613.6 433.9 613.6 434.9 613.6 436 613.5 437 613.4 438 613.2 439" stroke="#c5c5c5" stroke-width="21"/><path d="M298 360.1L297.7 360.1 297.5 360 297.4 359.8 297.3 359.5 297.4 359.2 297.5 358.9 297.7 358.5 297.9 358.2 298.2 357.8 298.6 357.5 299 357.2 299.4 356.9 299.9 356.5 300.5 356.2 301.1 355.9 301.7 355.6 302.4 355.3 303.2 355 304 354.7 304.8 354.4 305.7 354.1 306.6 353.8 307.6 353.6 308.6 353.3 309.7 353 310.8 352.8 312 352.7 313.2 352.6 314.4 352.5 315.7 352.4 317.1 352.3 318.4 352.2 319.9 352.1 321.3 352 322.8 351.9 324.4 351.8 325.9 351.8 327.6 351.7 329.2 351.7 330.9 351.6 332.6 351.6 334.4 351.5 336.2 351.5 338.1 351.5 339.9 351.5 341.8 351.5 343.8 351.5 345.8 351.5 347.8 351.5 349.8 351.5 351.9 351.6 354 351.6 356.2 351.6 358.3 351.7 360.5 351.8 362.7 351.8 365 351.9 367.3 352 369.6 352.1 371.9 352.2 374.3 352.3 376.7 352.5 379.1 352.6 381.5 352.7 384 352.9 386.5 353 389 353.2 391.5 353.4 394 353.6 396.6 353.8 399.2 354 401.8 354.2 404.4 354.4 407 354.7 409.6 354.9 412.3 355.2 415 355.5 417.6 355.7 420.3 356 423 356.3 425.8 356.6 428.5 357 431.2 357.3 433.9 357.6 436.7 358 439.4 358.3 442.2 358.7 445 359.1 447.7 359.5 450.5 359.9 453.3 360.3 456 360.7 458.8 361.2 461.6 361.6 464.3 362.1 467.1 362.5 469.9 363 472.6 363.5 475.4 364 478.1 364.5 480.9 365 483.6 365.6 486.3 366.1 489.1 366.6 491.8 367.2 494.5 367.8 497.1 368.4 499.8 368.9 502.5 369.6 505.1 370.2 507.8 370.8 510.4 371.4 513 372.1 515.6 372.7 518.1 373.4 520.7 374 523.2 374.7 525.7 375.4 528.2 376.1 530.7 376.8 533.1 377.6 535.5 378.3 537.9 379 540.3 379.8 542.6 380.5 545 381.3 547.3 382.1 549.5 382.9 551.8 383.6 554 384.4 556.2 385.3 558.3 386.1 560.4 386.9 562.5 387.7 564.6 388.6 566.6 389.4 568.6 390.3 570.6 391.2 572.5 392 574.4 392.9 576.3 393.8 578.1 394.7 579.9 395.6 581.6 396.6 583.4 397.5 585 398.4 586.7 399.4 588.3 400.3 589.9 401.3 591.4 402.2 592.9 403.2 594.3 404.2 595.7 405.1 597.1 406.1 598.4 407.1 599.7 408.1 600.9 409.2 602.1 410.2 603.2 411.3 604.3 412.4 605.2 413.5 606.1 414.7 607 415.8 607.8 417 608.6 418.1 609.3 419.3 610 420.4 610.6 421.6 611.1 422.7 611.6 423.9 612.1 425 612.5 426.1 612.8 427.3 613.1 428.4 613.3 429.5 613.5 430.6 613.6 431.7 613.7 432.8 613.7 433.9 613.7 434.9 613.6 436 613.5 437 613.3 438 613 439" stroke="#d1d1d1" stroke-width="15"/><path d="M298.2 360L297.9 360.1 297.5 360 297.3 359.8 297.2 359.4 297.2 359 297.2 358.6 297.4 358.1 297.6 357.7 297.9 357.3 298.3 356.8 298.7 356.4 299.1 356 299.6 355.6 300.2 355.2 300.8 354.8 301.4 354.4 302.1 354 302.9 353.6 303.7 353.2 304.5 352.8 305.4 352.4 306.4 352.1 307.3 351.7 308.4 351.3 309.4 351 310.6 350.7 311.8 350.6 313 350.5 314.3 350.4 315.6 350.3 316.9 350.2 318.3 350.1 319.7 350 321.2 349.9 322.7 349.8 324.3 349.7 325.9 349.7 327.5 349.6 329.1 349.6 330.9 349.5 332.6 349.5 334.4 349.4 336.2 349.4 338 349.4 339.9 349.4 341.8 349.4 343.8 349.4 345.8 349.4 347.8 349.4 349.9 349.4 351.9 349.5 354.1 349.5 356.2 349.5 358.4 349.6 360.6 349.7 362.8 349.7 365.1 349.8 367.4 349.9 369.7 350 372 350.1 374.4 350.2 376.8 350.4 379.2 350.5 381.7 350.6 384.1 350.8 386.6 350.9 389.1 351.1 391.6 351.3 394.2 351.5 396.8 351.7 399.3 351.9 401.9 352.1 404.6 352.4 407.2 352.6 409.8 352.8 412.5 353.1 415.2 353.4 417.9 353.7 420.6 353.9 423.3 354.2 426 354.6 428.7 354.9 431.5 355.2 434.2 355.5 437 355.9 439.7 356.3 442.5 356.6 445.3 357 448 357.4 450.8 357.8 453.6 358.2 456.4 358.7 459.1 359.1 461.9 359.5 464.7 360 467.5 360.5 470.2 360.9 473 361.4 475.8 361.9 478.5 362.4 481.3 363 484 363.5 486.7 364 489.5 364.6 492.2 365.2 494.9 365.7 497.6 366.3 500.3 366.9 502.9 367.5 505.6 368.1 508.2 368.7 510.9 369.4 513.5 370 516.1 370.7 518.6 371.3 521.2 372 523.7 372.7 526.3 373.4 528.8 374.1 531.2 374.8 533.7 375.5 536.1 376.3 538.5 377 540.9 377.8 543.3 378.5 545.6 379.3 547.9 380.1 550.2 380.9 552.5 381.7 554.7 382.5 556.9 383.3 559.1 384.1 561.2 385 563.3 385.8 565.4 386.6 567.4 387.5 569.5 388.4 571.4 389.3 573.4 390.1 575.3 391 577.2 391.9 579 392.9 580.9 393.8 582.6 394.7 584.4 395.6 586.1 396.6 587.7 397.5 589.4 398.5 591 399.5 592.5 400.4 594 401.4 595.5 402.4 596.9 403.4 598.3 404.4 599.7 405.5 601 406.5 602.3 407.5 603.5 408.6 604.6 409.7 605.6 411 606.6 412.2 607.4 413.4 608.3 414.7 609.1 415.9 609.8 417.2 610.5 418.4 611.1 419.6 611.6 420.9 612.1 422.1 612.6 423.3 613 424.5 613.3 425.8 613.6 427 613.8 428.1 613.9 429.3 614 430.5 614.1 431.6 614.1 432.7 614 433.8 613.9 434.9 613.7 436 613.5 437 613.1 438 612.7 439" stroke="#e0e0e0" stroke-width="9"/><path d="M298.4 359.9L297.9 360.1 297.5 360 297.2 359.7 297.1 359.4 297 358.9 297.1 358.4 297.2 357.9 297.4 357.4 297.7 356.9 298.1 356.4 298.5 355.9 298.9 355.4 299.4 354.9 300 354.5 300.6 354 301.2 353.5 301.9 353.1 302.7 352.6 303.5 352.2 304.3 351.7 305.2 351.3 306.2 350.9 307.2 350.4 308.2 350 309.3 349.6 310.4 349.3 311.6 349.2 312.9 349.1 314.1 349 315.5 348.9 316.8 348.8 318.2 348.7 319.6 348.6 321.1 348.5 322.6 348.4 324.2 348.3 325.8 348.3 327.4 348.2 329.1 348.2 330.8 348.1 332.6 348.1 334.3 348 336.2 348 338 348 339.9 348 341.8 348 343.8 348 345.8 348 347.8 348 349.9 348 352 348.1 354.1 348.1 356.2 348.1 358.4 348.2 360.6 348.3 362.9 348.3 365.1 348.4 367.4 348.5 369.8 348.6 372.1 348.7 374.5 348.8 376.9 349 379.3 349.1 381.7 349.2 384.2 349.4 386.7 349.6 389.2 349.7 391.7 349.9 394.3 350.1 396.9 350.3 399.5 350.5 402.1 350.7 404.7 351 407.3 351.2 410 351.4 412.6 351.7 415.3 352 418 352.3 420.7 352.5 423.4 352.9 426.2 353.2 428.9 353.5 431.6 353.8 434.4 354.2 437.1 354.5 439.9 354.9 442.7 355.2 445.5 355.6 448.2 356 451 356.4 453.8 356.8 456.6 357.3 459.4 357.7 462.1 358.2 464.9 358.6 467.7 359.1 470.5 359.6 473.2 360.1 476 360.6 478.8 361.1 481.5 361.6 484.3 362.1 487 362.7 489.8 363.2 492.5 363.8 495.2 364.4 497.9 364.9 500.6 365.5 503.3 366.1 505.9 366.8 508.6 367.4 511.2 368 513.8 368.7 516.4 369.3 519 370 521.6 370.7 524.1 371.4 526.6 372 529.1 372.8 531.6 373.5 534.1 374.2 536.5 374.9 539 375.7 541.4 376.4 543.7 377.2 546.1 378 548.4 378.8 550.7 379.5 552.9 380.3 555.2 381.2 557.4 382 559.6 382.8 561.7 383.6 563.8 384.5 565.9 385.4 568 386.2 570 387.1 572 388 574 388.9 575.9 389.8 577.8 390.7 579.7 391.6 581.5 392.5 583.3 393.5 585 394.4 586.8 395.4 588.4 396.3 590.1 397.3 591.7 398.3 593.3 399.3 594.8 400.3 596.3 401.3 597.8 402.3 599.2 403.3 600.5 404.4 601.9 405.4 603.2 406.5 604.4 407.5 605.5 408.7 606.5 410 607.4 411.3 608.3 412.6 609.1 413.9 609.9 415.2 610.6 416.5 611.2 417.8 611.8 419.1 612.3 420.4 612.8 421.7 613.2 423 613.6 424.2 613.8 425.5 614.1 426.7 614.2 428 614.3 429.2 614.4 430.4 614.4 431.5 614.3 432.7 614.2 433.8 614 434.9 613.8 436 613.5 437 613 438 612.5 439" stroke="#ececec" stroke-width="4.5"/><path d="M291.5 360L291.7 358.2 292.4 356.7 293.1 355.6 293.9 354.8 294.6 354.2 295.3 353.8 296 353.4 296.6 353.1 297.3 352.9 298 352.6 298.6 352.4 299.4 352.2 300.1 352 300.8 351.8 301.6 351.6 302.5 351.5 303.3 351.3 304.2 351.2 305.2 351 306.2 350.9 307.2 350.7 308.3 350.6 309.4 350.4 310.5 350.3 311.7 350.2 312.9 350.1 314.2 350 315.5 349.9 316.9 349.8 318.3 349.7 319.7 349.6 321.2 349.5 322.7 349.4 324.2 349.3 325.8 349.3 327.5 349.2 329.1 349.2 330.8 349.1 332.6 349.1 334.4 349" stroke="url(#g21)" stroke-width="14" filter="url(#bl)"/><path d="M296.4 347.9L297.2 347.6 298 347.4 298.9 347.2 299.7 346.9 300.6 346.7 301.5 346.6 302.5 346.4 303.4 346.2 304.4 346.1 305.5 345.9 306.5 345.8 307.7 345.6 308.8 345.5 310 345.3 311.2 345.2 312.5 345.1 313.8 345 315.1 344.9 316.5 344.8 317.9 344.7 319.4 344.6 320.9 344.5 322.5 344.4 324 344.3 325.6 344.3 327.3 344.2 329 344.2 330.7 344.1 332.5 344.1 334.3 344 336.1 344 338 344 339.9 344 341.8 344 343.8 344 345.8 344 347.9 344 349.9 344 352 344.1 354.2 344.1 356.3 344.1 358.5 344.2 360.8 344.3 363 344.3 365.3 344.4 367.6 344.5 369.9 344.6 372.3 344.7 374.7 344.8 377.1 345 379.5 345.1 382 345.2 384.5 345.4 387 345.6 389.5 345.7 392 345.9 394.6 346.1 397.2 346.3 399.8 346.5 402.4 346.7 405 347 407.7 347.2 410.4 347.5 413 347.7 415.7 348 418.4 348.3 421.2 348.6 423.9 348.9 426.6 349.2 429.4 349.5 432.1 349.8 434.9 350.2 437.7 350.5 440.4 350.9 443.2 351.3 446 351.7 448.8 352.1 451.6 352.5 454.4 352.9 457.2 353.3 460 353.8 462.8 354.2 465.6 354.7 468.4 355.1 471.2 355.6" stroke="url(#g26)" stroke-width="2.5"/><path d="M538 370.1L540.4 370.9 542.9 371.7 545.3 372.4 547.7 373.2 550 374 552.3 374.8 554.6 375.6 556.9 376.5 559.2 377.3 561.4 378.1 563.6 379 565.7 379.9 567.9 380.7 570 381.6 572 382.5 574.1 383.4 576.1 384.3 578.1 385.3 580 386.2 581.9 387.1 583.8 388.1 585.6 389 587.4 390 589.2 391 591 392 592.7 393 594.3 394 596 395.1 597.6 396.1 599.1 397.2 600.7 398.2 602.1 399.3 603.6 400.4 605 401.5 606.4 402.6 607.7 403.8 609 404.9 610.3 406.1 611.5 407.3 612.7 408.5 613.8 409.7 614.9 410.9 615.9 412.2 616.9 413.5 617.9 414.8 618.8 416.1 619.7 417.5 620.5 418.8 621.2 420.2 622 421.7 622.6 423.1 623.2 424.6 623.7 426.1 624.2 427.6 624.6 429.1 624.9 430.7 625.2 432.3 625.4 433.8 625.5 435.4 625.5 437" stroke="url(#g30)" stroke-width="8"/><path d="M548.6 378.3L550.8 379.1 553.1 379.9 555.4 380.7 557.6 381.5 559.8 382.3 561.9 383.2 564 384 566.1 384.9 568.2 385.8 570.2 386.6 572.2 387.5 574.2 388.4 576.1 389.3 578 390.2 579.9 391.2 581.7 392.1 583.5 393 585.3 394 587 394.9 588.7 395.9 590.3 396.9 592 397.9 593.5 398.8 595.1 399.8 596.6 400.9 598 401.9 599.5 402.9 600.8 404 602.2 405 603.5 406.1 604.8 407.2 606 408.2 607.2 409.3 608.3 410.4 609.4 411.6 610.5 412.7 611.5 413.9 612.4 415 613.4 416.2 614.2 417.4 615.1 418.6 615.8 419.8 616.6 421.1 617.3 422.3 617.9 423.6 618.5 424.9 619 426.2 619.4 427.5 619.9 428.8 620.2 430.2 620.5 431.5 620.7 432.9 620.9 434.3 621 435.6 621 437" stroke="url(#g32)" stroke-width="3.5"/><path d="M293.6 263.1L293.5 262.5 293.5 262 293.5 261.5 293.6 260.9 293.8 260.3 294 259.8 294.2 259.2 294.5 258.7 294.8 258.1 295.2 257.6 295.6 257 296.1 256.5 296.6 255.9 297.2 255.3 297.8 254.8 298.5 254.2 299.2 253.7 300 253.1 300.8 252.6 301.6 252 302.5 251.5 303.5 250.9 304.5 250.4 305.5 249.9 306.6 249.3 307.7 248.8 308.9 248.3 310.1 247.8 311.3 247.2 312.6 246.7 314 246.2 315.3 245.7 316.8 245.2 318.2 244.7 319.7 244.2 321.3 243.8 322.9 243.3 324.5 242.8 326.1 242.3 327.8 241.9 329.6 241.4 331.4 241 333.2 240.6 335 240.1 336.9 239.7 338.8 239.3 340.8 238.9 342.8 238.5 344.8 238.1 346.8 237.7 348.9 237.4 351.1 237 353.2 236.6 355.4 236.3 357.6 236 359.8 235.7 362.1 235.3 364.4 235 366.7 234.7 369.1 234.5 371.4 234.2 373.8 233.9 376.3 233.7 378.7 233.5 381.2 233.2 383.7 233 386.2 232.8 388.7 232.6 391.3 232.4 393.8 232.3 396.4 232.1 399 232 401.6 231.9 404.3 231.7 406.9 231.6 409.6 231.5 412.3 231.5 415 231.4 417.7 231.4 420.4 231.3 423.1 231.3 425.8 231.3 428.6 231.3 431.3 231.3 434.1 231.3 436.9 231.4 439.6 231.5 442.4 231.5 445.2 231.6 447.9 231.7 450.7 231.8 453.5 232 456.3 232.1 459.1 232.3 461.8 232.5 464.6 232.7 467.4 232.9 470.1 233.1 472.9 233.3 475.7 233.5 478.4 233.8 481.2 234.1 483.9 234.3 486.6 234.6 489.3 234.9 492 235.2 494.7 235.6 497.4 235.9 500.1 236.3 502.7 236.6 505.4 237 508 237.4 510.6 237.8 513.2 238.2 515.7 238.6 518.3 239.1 520.8 239.5 523.3 240 525.8 240.5 528.3 241 530.7 241.5 533.2 242 535.6 242.5 537.9 243 540.3 243.6 542.6 244.1 544.9 244.7 547.2 245.2 549.4 245.8 551.6 246.4 553.8 247 555.9 247.6 558.1 248.3 560.2 248.9 562.2 249.5 564.2 250.2 566.2 250.9 568.2 251.5 570.1 252.2 572 252.9 573.8 253.6 575.6 254.3 577.4 255 579.2 255.8 580.9 256.5 582.5 257.2 584.1 258 585.7 258.8 587.3 259.5 588.8 260.3 590.2 261.1 591.7 261.9 593 262.7 594.4 263.5 595.7 264.3 596.9 265.1 598.1 265.9 599.3 266.7 600.4 267.6 601.5 268.4 602.5 269.3 603.5 270.1 604.5 271 605.4 271.8 606.2 272.7 607 273.6 607.8 274.4 608.5 275.3 609.2 276.2 609.8 277.1 610.4 278 610.9 278.9 611.4 279.8 611.8 280.7 612.2 281.6 612.5 282.5 612.8 283.4 613 284.3 613.2 285.2 613.4 286.2 613.5 287.1 613.5 288 613.5 288.9 613.4 289.8" stroke="#505050" stroke-width="33.5"/><path d="M293.6 263.1L293.5 262.5 293.5 262 293.5 261.5 293.6 260.9 293.8 260.3 294 259.8 294.2 259.2 294.5 258.7 294.8 258.1 295.2 257.6 295.6 257 296.1 256.5 296.6 255.9 297.2 255.3 297.8 254.8 298.5 254.2 299.2 253.7 300 253.1 300.8 252.6 301.6 252 302.5 251.5 303.5 250.9 304.5 250.4 305.5 249.9 306.6 249.3 307.7 248.8 308.9 248.3 310.1 247.8 311.3 247.2 312.6 246.7 314 246.2 315.3 245.7 316.8 245.2 318.2 244.7 319.7 244.2 321.3 243.8 322.9 243.3 324.5 242.8 326.1 242.3 327.8 241.9 329.6 241.4 331.4 241 333.2 240.6 335 240.1 336.9 239.7 338.8 239.3 340.8 238.9 342.8 238.5 344.8 238.1 346.8 237.7 348.9 237.4 351.1 237 353.2 236.6 355.4 236.3 357.6 236 359.8 235.7 362.1 235.3 364.4 235 366.7 234.7 369.1 234.5 371.4 234.2 373.8 233.9 376.3 233.7 378.7 233.5 381.2 233.2 383.7 233 386.2 232.8 388.7 232.6 391.3 232.4 393.8 232.3 396.4 232.1 399 232 401.6 231.9 404.3 231.7 406.9 231.6 409.6 231.5 412.3 231.5 415 231.4 417.7 231.4 420.4 231.3 423.1 231.3 425.8 231.3 428.6 231.3 431.3 231.3 434.1 231.3 436.9 231.4 439.6 231.5 442.4 231.5 445.2 231.6 447.9 231.7 450.7 231.8 453.5 232 456.3 232.1 459.1 232.3 461.8 232.5 464.6 232.7 467.4 232.9 470.1 233.1 472.9 233.3 475.7 233.5 478.4 233.8 481.2 234.1 483.9 234.3 486.6 234.6 489.3 234.9 492 235.2 494.7 235.6 497.4 235.9 500.1 236.3 502.7 236.6 505.4 237 508 237.4 510.6 237.8 513.2 238.2 515.7 238.6 518.3 239.1 520.8 239.5 523.3 240 525.8 240.5 528.3 241 530.7 241.5 533.2 242 535.6 242.5 537.9 243 540.3 243.6 542.6 244.1 544.9 244.7 547.2 245.2 549.4 245.8 551.6 246.4 553.8 247 555.9 247.6 558.1 248.3 560.2 248.9 562.2 249.5 564.2 250.2 566.2 250.9 568.2 251.5 570.1 252.2 572 252.9 573.8 253.6 575.6 254.3 577.4 255 579.2 255.8 580.9 256.5 582.5 257.2 584.1 258 585.7 258.8 587.3 259.5 588.8 260.3 590.2 261.1 591.7 261.9 593 262.7 594.4 263.5 595.7 264.3 596.9 265.1 598.1 265.9 599.3 266.7 600.4 267.6 601.5 268.4 602.5 269.3 603.5 270.1 604.5 271 605.4 271.8 606.2 272.7 607 273.6 607.8 274.4 608.5 275.3 609.2 276.2 609.8 277.1 610.4 278 610.9 278.9 611.4 279.8 611.8 280.7 612.2 281.6 612.5 282.5 612.8 283.4 613 284.3 613.2 285.2 613.4 286.2 613.5 287.1 613.5 288 613.5 288.9 613.4 289.8" stroke="#9a9a9a" stroke-width="31"/><path d="M293.7 263.1L293.6 262.5 293.5 262 293.5 261.4 293.6 260.9 293.7 260.3 293.9 259.8 294.1 259.2 294.4 258.6 294.7 258.1 295.1 257.5 295.5 256.9 296 256.4 296.5 255.8 297.1 255.2 297.7 254.6 298.4 254.1 299.1 253.5 299.8 252.9 300.6 252.4 301.5 251.8 302.4 251.2 303.3 250.7 304.3 250.1 305.3 249.6 306.4 249 307.5 248.5 308.7 248 309.9 247.4 311.2 246.9 312.5 246.4 313.8 245.9 315.2 245.4 316.6 244.9 318.1 244.4 319.6 243.9 321.2 243.4 322.8 242.9 324.4 242.5 326 242 327.7 241.5 329.5 241.1 331.3 240.7 333.1 240.2 334.9 239.8 336.8 239.4 338.7 239 340.7 238.5 342.7 238.2 344.7 237.8 346.8 237.4 348.9 237 351 236.7 353.1 236.3 355.3 236 357.5 235.6 359.8 235.3 362.1 235 364.3 234.7 366.7 234.4 369 234.1 371.4 233.8 373.8 233.6 376.2 233.3 378.7 233.1 381.1 232.9 383.6 232.7 386.1 232.5 388.7 232.3 391.2 232.1 393.8 231.9 396.4 231.8 399 231.6 401.6 231.5 404.3 231.4 406.9 231.3 409.6 231.2 412.3 231.1 415 231.1 417.7 231 420.4 231 423.1 230.9 425.8 230.9 428.6 230.9 431.3 231 434.1 231 436.9 231 439.6 231.1 442.4 231.2 445.2 231.3 448 231.4 450.7 231.5 453.5 231.6 456.3 231.8 459.1 231.9 461.9 232.1 464.6 232.3 467.4 232.5 470.2 232.7 472.9 232.9 475.7 233.2 478.4 233.4 481.2 233.7 483.9 234 486.7 234.3 489.4 234.6 492.1 234.9 494.8 235.2 497.5 235.6 500.1 235.9 502.8 236.3 505.4 236.7 508 237.1 510.6 237.5 513.2 237.9 515.8 238.3 518.4 238.7 520.9 239.2 523.4 239.7 525.9 240.1 528.4 240.6 530.8 241.1 533.2 241.6 535.6 242.1 538 242.7 540.4 243.2 542.7 243.8 545 244.3 547.3 244.9 549.5 245.5 551.7 246.1 553.9 246.7 556 247.3 558.2 247.9 560.3 248.6 562.3 249.2 564.3 249.9 566.3 250.5 568.3 251.2 570.2 251.9 572.1 252.6 574 253.3 575.8 254 577.6 254.7 579.3 255.4 581 256.2 582.7 256.9 584.3 257.7 585.9 258.4 587.4 259.2 588.9 260 590.4 260.8 591.8 261.6 593.2 262.4 594.6 263.2 595.9 264 597.1 264.8 598.3 265.6 599.5 266.5 600.6 267.3 601.7 268.2 602.7 269 603.7 269.9 604.7 270.8 605.6 271.6 606.4 272.5 607.2 273.4 608 274.3 608.7 275.2 609.3 276.1 609.9 277 610.5 277.9 611 278.8 611.5 279.7 611.9 280.6 612.3 281.6 612.6 282.5 612.9 283.4 613.1 284.3 613.3 285.2 613.4 286.2 613.5 287.1 613.5 288 613.5 288.9 613.4 289.8" stroke="#ababab" stroke-width="28"/><path d="M293.8 263.1L293.6 262.5 293.5 262 293.5 261.4 293.6 260.9 293.7 260.3 293.8 259.7 294 259.1 294.3 258.6 294.6 258 294.9 257.4 295.3 256.8 295.8 256.2 296.3 255.6 296.8 254.9 297.5 254.3 298.1 253.7 298.8 253.1 299.6 252.5 300.4 251.9 301.2 251.3 302.1 250.8 303 250.2 304 249.6 305 249 306.1 248.4 307.3 247.9 308.4 247.3 309.7 246.8 310.9 246.3 312.2 245.7 313.6 245.2 315 244.7 316.4 244.2 317.9 243.7 319.4 243.2 321 242.7 322.6 242.3 324.2 241.8 325.9 241.3 327.6 240.9 329.3 240.4 331.1 240 332.9 239.5 334.8 239.1 336.7 238.7 338.6 238.3 340.6 237.9 342.6 237.5 344.6 237.1 346.7 236.7 348.8 236.3 350.9 236 353 235.6 355.2 235.3 357.4 234.9 359.7 234.6 362 234.3 364.3 234 366.6 233.7 368.9 233.4 371.3 233.2 373.7 232.9 376.2 232.6 378.6 232.4 381.1 232.2 383.6 232 386.1 231.8 388.6 231.6 391.2 231.4 393.8 231.2 396.4 231.1 399 230.9 401.6 230.8 404.2 230.7 406.9 230.6 409.6 230.5 412.2 230.4 414.9 230.4 417.7 230.3 420.4 230.3 423.1 230.2 425.8 230.2 428.6 230.2 431.3 230.3 434.1 230.3 436.9 230.3 439.6 230.4 442.4 230.5 445.2 230.6 448 230.7 450.8 230.8 453.6 230.9 456.3 231.1 459.1 231.2 461.9 231.4 464.7 231.6 467.5 231.8 470.2 232 473 232.3 475.8 232.5 478.5 232.7 481.3 233 484 233.3 486.7 233.6 489.5 233.9 492.2 234.2 494.9 234.5 497.5 234.9 500.2 235.2 502.9 235.6 505.5 236 508.1 236.4 510.8 236.8 513.3 237.2 515.9 237.6 518.5 238.1 521 238.5 523.5 239 526 239.4 528.5 239.9 531 240.4 533.4 240.9 535.8 241.5 538.2 242 540.5 242.5 542.9 243.1 545.2 243.7 547.4 244.2 549.7 244.8 551.9 245.4 554.1 246 556.2 246.6 558.4 247.3 560.5 247.9 562.5 248.5 564.6 249.2 566.6 249.9 568.5 250.5 570.5 251.2 572.4 251.9 574.2 252.6 576 253.3 577.8 254.1 579.6 254.8 581.3 255.5 583 256.3 584.6 257 586.2 257.8 587.8 258.6 589.3 259.4 590.7 260.2 592.2 261 593.6 261.8 594.9 262.6 596.2 263.4 597.5 264.2 598.7 265.1 599.9 265.9 601.1 266.8 602.1 267.6 603.1 268.5 604.1 269.4 605.1 270.3 605.9 271.3 606.8 272.2 607.6 273.1 608.3 274 609 274.9 609.6 275.9 610.2 276.8 610.8 277.7 611.3 278.7 611.7 279.6 612.1 280.5 612.5 281.5 612.8 282.4 613 283.4 613.2 284.3 613.4 285.2 613.5 286.1 613.5 287.1 613.5 288 613.4 288.9 613.3 289.8" stroke="#b9b9b9" stroke-width="25"/><path d="M293.9 263L293.7 262.5 293.5 262 293.5 261.4 293.5 260.9 293.5 260.3 293.6 259.7 293.8 259 294 258.4 294.3 257.8 294.6 257.1 295 256.5 295.4 255.9 295.9 255.2 296.5 254.5 297.1 253.9 297.7 253.2 298.4 252.6 299.1 252 299.9 251.3 300.8 250.7 301.7 250 302.6 249.4 303.6 248.7 304.6 248.1 305.7 247.5 306.8 246.9 308 246.4 309.3 245.8 310.5 245.3 311.9 244.8 313.2 244.3 314.6 243.7 316.1 243.2 317.6 242.7 319.1 242.2 320.7 241.7 322.3 241.3 323.9 240.8 325.6 240.3 327.3 239.9 329.1 239.4 330.9 239 332.7 238.5 334.6 238.1 336.5 237.7 338.4 237.2 340.4 236.8 342.4 236.4 344.4 236 346.5 235.7 348.6 235.3 350.7 234.9 352.9 234.6 355.1 234.2 357.3 233.9 359.5 233.6 361.8 233.3 364.1 233 366.5 232.7 368.8 232.4 371.2 232.1 373.6 231.8 376 231.6 378.5 231.4 381 231.1 383.5 230.9 386 230.7 388.6 230.5 391.1 230.3 393.7 230.2 396.3 230 398.9 229.9 401.5 229.8 404.2 229.6 406.9 229.5 409.5 229.4 412.2 229.4 414.9 229.3 417.6 229.3 420.4 229.2 423.1 229.2 425.8 229.2 428.6 229.2 431.4 229.2 434.1 229.2 436.9 229.3 439.7 229.4 442.5 229.4 445.2 229.5 448 229.6 450.8 229.8 453.6 229.9 456.4 230 459.2 230.2 462 230.4 464.8 230.6 467.5 230.8 470.3 231 473.1 231.2 475.9 231.4 478.6 231.7 481.4 232 484.1 232.2 486.8 232.5 489.6 232.8 492.3 233.2 495 233.5 497.7 233.8 500.4 234.2 503 234.6 505.7 234.9 508.3 235.3 510.9 235.7 513.5 236.1 516.1 236.6 518.7 237 521.2 237.5 523.7 237.9 526.2 238.4 528.7 238.9 531.2 239.4 533.6 239.9 536 240.4 538.4 241 540.8 241.5 543.1 242.1 545.4 242.6 547.7 243.2 549.9 243.8 552.2 244.4 554.4 245 556.5 245.6 558.7 246.3 560.8 246.9 562.8 247.5 564.9 248.2 566.9 248.9 568.9 249.6 570.8 250.2 572.7 250.9 574.6 251.7 576.4 252.4 578.2 253.1 580 253.8 581.7 254.6 583.4 255.3 585 256.1 586.7 256.9 588.2 257.6 589.8 258.4 591.2 259.2 592.7 260 594.1 260.9 595.5 261.7 596.8 262.5 598.1 263.3 599.3 264.2 600.5 265 601.7 265.9 602.7 266.9 603.7 267.8 604.7 268.8 605.6 269.7 606.5 270.7 607.3 271.6 608.1 272.6 608.8 273.6 609.5 274.5 610.1 275.5 610.7 276.5 611.2 277.5 611.7 278.4 612.1 279.4 612.5 280.4 612.8 281.4 613 282.3 613.2 283.3 613.4 284.2 613.5 285.2 613.5 286.1 613.5 287.1 613.5 288 613.3 288.9 613.1 289.8" stroke="#c5c5c5" stroke-width="21"/><path d="M294.1 263L293.8 262.5 293.5 262 293.4 261.4 293.3 260.8 293.3 260.2 293.4 259.6 293.5 258.9 293.7 258.2 293.9 257.6 294.2 256.9 294.6 256.2 295 255.4 295.5 254.7 296 254 296.6 253.3 297.2 252.6 297.9 251.9 298.6 251.2 299.4 250.5 300.2 249.7 301.1 249 302 248.3 303 247.6 304 246.9 305.1 246.3 306.2 245.6 307.4 245.1 308.7 244.5 310 244 311.3 243.5 312.7 242.9 314.2 242.4 315.6 241.9 317.1 241.4 318.7 240.9 320.2 240.4 321.9 239.9 323.5 239.4 325.2 239 326.9 238.5 328.7 238 330.5 237.6 332.4 237.1 334.2 236.7 336.2 236.3 338.1 235.9 340.1 235.5 342.1 235.1 344.1 234.7 346.2 234.3 348.3 233.9 350.5 233.5 352.6 233.2 354.9 232.8 357.1 232.5 359.3 232.2 361.6 231.9 363.9 231.6 366.3 231.3 368.7 231 371 230.7 373.5 230.5 375.9 230.2 378.4 230 380.9 229.7 383.4 229.5 385.9 229.3 388.4 229.1 391 229 393.6 228.8 396.2 228.6 398.8 228.5 401.5 228.4 404.1 228.2 406.8 228.1 409.5 228 412.2 228 414.9 227.9 417.6 227.9 420.3 227.8 423.1 227.8 425.8 227.8 428.6 227.8 431.4 227.8 434.1 227.8 436.9 227.9 439.7 228 442.5 228 445.3 228.1 448.1 228.2 450.9 228.4 453.7 228.5 456.5 228.6 459.3 228.8 462.1 229 464.9 229.2 467.6 229.4 470.4 229.6 473.2 229.8 476 230.1 478.7 230.3 481.5 230.6 484.3 230.9 487 231.1 489.7 231.4 492.5 231.8 495.2 232.1 497.9 232.4 500.5 232.8 503.2 233.2 505.9 233.5 508.5 233.9 511.1 234.3 513.7 234.8 516.3 235.2 518.9 235.6 521.5 236.1 524 236.6 526.5 237 529 237.5 531.5 238 533.9 238.5 536.3 239.1 538.7 239.6 541.1 240.1 543.4 240.7 545.7 241.3 548 241.9 550.3 242.4 552.5 243 554.7 243.7 556.9 244.3 559.1 244.9 561.2 245.6 563.3 246.2 565.3 246.9 567.3 247.6 569.3 248.2 571.3 248.9 573.2 249.6 575.1 250.3 576.9 251.1 578.8 251.8 580.5 252.5 582.3 253.3 584 254.1 585.6 254.8 587.3 255.6 588.9 256.4 590.4 257.2 591.9 258 593.4 258.8 594.8 259.6 596.2 260.5 597.6 261.3 598.9 262.2 600.1 263 601.4 263.9 602.5 264.9 603.6 265.9 604.6 266.9 605.5 267.9 606.4 268.9 607.3 269.9 608.1 270.9 608.8 272 609.5 273 610.2 274 610.8 275.1 611.3 276.1 611.8 277.1 612.2 278.1 612.6 279.2 612.9 280.2 613.2 281.2 613.4 282.2 613.5 283.2 613.6 284.2 613.7 285.2 613.7 286.1 613.6 287.1 613.5 288 613.3 288.9 613 289.8" stroke="#d1d1d1" stroke-width="15"/><path d="M294.3 263L293.9 262.5 293.5 262 293.3 261.4 293.2 260.8 293.1 260.1 293.1 259.4 293.1 258.7 293.2 258 293.4 257.2 293.6 256.4 293.9 255.6 294.3 254.8 294.7 254 295.2 253.2 295.8 252.4 296.4 251.6 297 250.8 297.8 250 298.5 249.2 299.3 248.4 300.2 247.6 301.1 246.8 302.1 246 303.1 245.2 304.2 244.4 305.3 243.7 306.6 243.2 307.9 242.6 309.2 242.1 310.6 241.5 312 241 313.4 240.4 314.9 239.9 316.5 239.4 318 238.9 319.6 238.4 321.3 237.9 322.9 237.4 324.7 236.9 326.4 236.5 328.2 236 330 235.6 331.9 235.1 333.8 234.7 335.7 234.2 337.7 233.8 339.7 233.4 341.7 233 343.8 232.6 345.8 232.2 348 231.8 350.1 231.5 352.3 231.1 354.5 230.8 356.8 230.4 359 230.1 361.4 229.8 363.7 229.5 366 229.2 368.4 228.9 370.8 228.6 373.2 228.4 375.7 228.1 378.2 227.9 380.7 227.6 383.2 227.4 385.7 227.2 388.3 227 390.9 226.9 393.5 226.7 396.1 226.5 398.7 226.4 401.4 226.3 404 226.1 406.7 226 409.4 226 412.1 225.9 414.8 225.8 417.6 225.8 420.3 225.7 423.1 225.7 425.8 225.7 428.6 225.7 431.4 225.7 434.2 225.7 437 225.8 439.8 225.9 442.6 225.9 445.4 226 448.2 226.1 451 226.3 453.8 226.4 456.6 226.5 459.4 226.7 462.2 226.9 465 227.1 467.8 227.3 470.6 227.5 473.4 227.7 476.2 228 478.9 228.2 481.7 228.5 484.5 228.8 487.2 229.1 490 229.4 492.7 229.7 495.4 230 498.1 230.4 500.8 230.7 503.5 231.1 506.2 231.5 508.8 231.9 511.5 232.3 514.1 232.7 516.7 233.1 519.3 233.6 521.8 234 524.4 234.5 526.9 235 529.4 235.5 531.9 236 534.3 236.5 536.8 237 539.2 237.6 541.6 238.1 543.9 238.7 546.3 239.2 548.6 239.8 550.8 240.4 553.1 241 555.3 241.6 557.5 242.3 559.7 242.9 561.8 243.6 563.9 244.2 566 244.9 568 245.6 570 246.3 572 247 573.9 247.7 575.8 248.4 577.7 249.1 579.6 249.9 581.4 250.6 583.1 251.4 584.8 252.1 586.5 252.9 588.2 253.7 589.8 254.5 591.4 255.3 592.9 256.2 594.4 257 595.9 257.8 597.3 258.7 598.7 259.6 600 260.4 601.3 261.3 602.6 262.2 603.7 263.2 604.8 264.3 605.8 265.4 606.7 266.5 607.6 267.6 608.4 268.8 609.2 269.9 609.9 271 610.6 272.1 611.2 273.2 611.7 274.4 612.2 275.5 612.6 276.6 613 277.7 613.3 278.8 613.6 279.9 613.8 281 613.9 282 614 283.1 614 284.1 613.9 285.1 613.8 286.1 613.7 287.1 613.5 288 613.1 288.9 612.7 289.8" stroke="#e0e0e0" stroke-width="9"/><path d="M294.5 262.9L294 262.5 293.5 262 293.2 261.4 293 260.8 292.9 260.1 292.8 259.4 292.8 258.6 292.9 257.8 293 257 293.2 256.1 293.5 255.3 293.9 254.4 294.3 253.6 294.7 252.7 295.3 251.8 295.9 250.9 296.5 250.1 297.2 249.2 298 248.3 298.8 247.5 299.6 246.6 300.5 245.7 301.5 244.9 302.5 244 303.6 243.2 304.8 242.5 306 241.9 307.3 241.3 308.7 240.8 310.1 240.2 311.5 239.7 313 239.1 314.5 238.6 316 238.1 317.6 237.6 319.2 237.1 320.9 236.6 322.6 236.1 324.3 235.6 326.1 235.1 327.9 234.7 329.7 234.2 331.6 233.7 333.5 233.3 335.4 232.9 337.4 232.4 339.4 232 341.4 231.6 343.5 231.2 345.6 230.8 347.7 230.5 349.9 230.1 352.1 229.7 354.3 229.4 356.6 229 358.9 228.7 361.2 228.4 363.5 228.1 365.9 227.8 368.3 227.5 370.7 227.2 373.1 227 375.6 226.7 378 226.5 380.6 226.3 383.1 226 385.6 225.8 388.2 225.6 390.8 225.5 393.4 225.3 396 225.1 398.7 225 401.3 224.9 404 224.7 406.7 224.6 409.4 224.6 412.1 224.5 414.8 224.4 417.6 224.4 420.3 224.3 423.1 224.3 425.8 224.3 428.6 224.3 431.4 224.3 434.2 224.3 437 224.4 439.8 224.5 442.6 224.5 445.4 224.6 448.2 224.7 451 224.9 453.9 225 456.7 225.1 459.5 225.3 462.3 225.5 465.1 225.7 467.9 225.9 470.7 226.1 473.5 226.3 476.3 226.6 479.1 226.8 481.9 227.1 484.6 227.4 487.4 227.7 490.1 228 492.9 228.3 495.6 228.6 498.3 229 501 229.3 503.7 229.7 506.4 230.1 509 230.5 511.7 230.9 514.3 231.3 516.9 231.7 519.5 232.2 522.1 232.6 524.6 233.1 527.2 233.6 529.7 234.1 532.2 234.6 534.6 235.1 537.1 235.6 539.5 236.2 541.9 236.7 544.3 237.3 546.6 237.9 548.9 238.5 551.2 239.1 553.5 239.7 555.7 240.3 557.9 240.9 560.1 241.6 562.2 242.2 564.3 242.9 566.4 243.6 568.5 244.2 570.5 244.9 572.5 245.6 574.4 246.4 576.3 247.1 578.2 247.8 580.1 248.6 581.9 249.3 583.7 250.1 585.4 250.9 587.1 251.7 588.8 252.5 590.4 253.3 592 254.1 593.6 254.9 595.1 255.8 596.6 256.6 598 257.5 599.4 258.4 600.8 259.3 602.1 260.2 603.4 261.1 604.6 262.1 605.6 263.3 606.6 264.5 607.5 265.6 608.4 266.8 609.2 268 609.9 269.2 610.6 270.4 611.3 271.5 611.8 272.7 612.3 273.9 612.8 275.1 613.2 276.2 613.5 277.4 613.8 278.6 614 279.7 614.2 280.8 614.2 281.9 614.3 283 614.2 284 614.1 285.1 614 286.1 613.8 287.1 613.5 288 613 288.9 612.5 289.8" stroke="#ececec" stroke-width="4.5"/><path d="M445.4 225.6L448.2 225.7 451 225.9 453.8 226 456.6 226.1 459.4 226.3 462.2 226.5 465 226.7 467.8 226.9 470.6 227.1 473.4 227.3 476.2 227.6 479 227.8 481.8 228.1 484.5 228.4 487.3 228.7 490 229" stroke="url(#g13)" stroke-width="14" filter="url(#bl)"/><path d="M287.5 262L287.6 260.7 287.8 259.6 288 258.6 288.4 257.6 288.8 256.7 289.3 255.8 289.8 254.9 290.4 254 291 253.2 291.7 252.4 292.4 251.7 293.1 251 293.9 250.3 294.7 249.6 295.6 248.9 296.5 248.2 297.5 247.6 298.5 246.9 299.5 246.3 300.5 245.7 301.6 245.1 302.8 244.5 304 243.9 305.2 243.4 306.4 242.8 307.7 242.2 309.1 241.7 310.4 241.1 311.9 240.6 313.3 240.1 314.8 239.5 316.3 239 317.9 238.5 319.5 238 321.2 237.5 322.8 237 324.6 236.6 326.3 236.1 328.1 235.6 329.9 235.2" stroke="url(#g20)" stroke-width="14" filter="url(#bl)"/><path d="M287.9 249.1L288.8 248.2 289.7 247.3 290.7 246.5 291.6 245.7 292.6 244.9 293.6 244.1 294.7 243.4 295.8 242.7 296.9 242 298.1 241.4 299.3 240.7 300.5 240.1 301.8 239.4 303.1 238.8 304.4 238.2 305.8 237.6 307.2 237 308.6 236.5 310.1 235.9 311.6 235.4 313.2 234.8 314.8 234.3 316.4 233.8 318 233.2 319.7 232.7 321.5 232.2 323.2 231.7 325 231.2 326.9 230.8 328.7 230.3 330.6 229.8 332.6 229.4 334.6 229 336.6 228.5 338.6 228.1 340.7 227.7 342.8 227.3 344.9 226.9 347.1 226.5 349.2 226.1 351.5 225.8 353.7 225.4 356 225.1 358.3 224.8 360.6 224.4 363 224.1 365.4 223.8 367.8 223.5 370.2 223.3 372.7 223 375.2 222.7 377.7 222.5 380.2 222.3 382.7 222.1 385.3 221.8 387.9 221.7 390.5 221.5 393.1 221.3 395.8 221.1 398.5 221 401.1 220.9 403.8 220.7 406.5 220.6 409.3 220.6 412 220.5 414.7 220.4 417.5 220.4 420.3 220.3 423 220.3 425.8 220.3 428.6 220.3 431.4 220.3 434.2 220.3 437.1 220.4 439.9 220.5 442.7 220.5 445.6 220.6 448.4 220.7 451.2 220.9 454.1 221 456.9 221.1 459.7 221.3 462.6 221.5 465.4 221.7 468.2 221.9" stroke="url(#g25)" stroke-width="2.5"/><path d="M580.1 243.2L582 243.9 583.9 244.7 585.7 245.5 587.5 246.3 589.3 247.1 591 248 592.7 248.8 594.4 249.7 596 250.5 597.6 251.4 599.1 252.3 600.6 253.2 602.1 254.2 603.6 255.1 605 256.1 606.4 257 607.7 258 609 259 610.3 260.1 611.5 261.1 612.7 262.2 613.8 263.3 614.9 264.4 616 265.6 617 266.7 618 267.9 618.9 269.2 619.8 270.4 620.6 271.7 621.4 273 622.1 274.4 622.7 275.8 623.3 277.2 623.9 278.6 624.3 280.1 624.7 281.6 625 283.1 625.3 284.6 625.4 286.2 625.5 287.9" stroke="url(#g46)" stroke-width="8"/><path d="M297.1 856.4L297 855.7 297 855" stroke="#505050" stroke-width="33.5" stroke-linecap="round"/><path d="M297.1 856.4L297 855.7 297 855" stroke="#9a9a9a" stroke-width="31" stroke-linecap="round"/><path d="M297.2 856.4L297.1 855.7 297 855" stroke="#ababab" stroke-width="28" stroke-linecap="round"/><path d="M297.2 856.4L297.1 855.7 297 855" stroke="#b9b9b9" stroke-width="25" stroke-linecap="round"/><path d="M297.4 856.4L297.2 855.7 297 855" stroke="#c5c5c5" stroke-width="21" stroke-linecap="round"/><path d="M297.5 856.4L297.3 855.7 297 855" stroke="#d1d1d1" stroke-width="15" stroke-linecap="round"/><path d="M297.8 856.3L297.4 855.7 297 855" stroke="#e0e0e0" stroke-width="9" stroke-linecap="round"/><path d="M298 856.3L297.5 855.7 297 855" stroke="#ececec" stroke-width="4.5" stroke-linecap="round"/><path d="M615 851L615 851.8 614.9 852.6 614.8 853.4 614.6 854.2 614.3 855 614.1 855.8 613.7 856.5 613.4 857.3 613 858.1 612.5 858.9 612 859.7 611.4 860.4 610.8 861.2 610.2 862 609.4 862.7 608.7 863.5 607.9 864.2 607.1 865 606.2 865.7 605.2 866.5 604.3 867.2 603.3 867.9 602.2 868.7 601.1 869.4 599.9 870.1 598.7 870.8 597.5 871.5 596.2 872.2 594.9 872.9 593.5 873.6 592.1 874.2 590.6 874.9 589.1 875.6 587.6 876.2 586 876.9 584.4 877.5 582.8 878.1 581.1 878.7 579.4 879.4 577.6 880 575.8 880.6 574 881.1 572.1 881.7 570.2 882.3 568.2 882.8 566.2 883.4 564.2 883.9 562.2 884.4 560.1 885 558 885.5 555.9 886 553.7 886.5 551.5 886.9 549.3 887.4 547 887.9 544.7 888.3 542.4 888.7 540.1 889.2 537.7 889.6 535.3 890 532.9 890.4 530.5 890.7 528 891.1 525.6 891.4 523.1 891.8 520.5 892.1 518 892.4 515.4 892.7 512.9 893 510.3 893.3 507.7 893.6 505 893.8 502.4 894.1 499.7 894.3 497.1 894.5 494.4 894.7 491.7 894.9 489 895.1 486.3 895.2 483.5 895.4 480.8 895.5 478.1 895.7 475.3 895.8 472.6 895.9 469.8 896 467.1 896 464.3 896.1 461.5 896.1 458.8 896.2 456 896.2 453.2 896.2 450.5 896.2 447.7 896.2 444.9 896.1 442.2 896.1 439.4 896 436.7 896 433.9 895.9 431.2 895.8 428.5 895.7 425.7 895.6 423 895.4 420.3 895.3 417.6 895.1 414.9 894.9 412.3 894.8 409.6 894.6 407 894.4 404.3 894.1 401.7 893.9 399.1 893.6 396.6 893.4 394 893.1 391.5 892.8 388.9 892.5 386.4 892.2 384 891.9 381.5 891.6 379.1 891.2 376.7 890.9 374.3 890.5 371.9 890.1 369.6 889.8 367.3 889.4 365 889 362.7 888.5 360.5 888.1 358.3 887.7 356.1 887.2 354 886.8 351.9 886.3 349.8 885.8 347.8 885.3 345.8 884.8 343.8 884.3 341.8 883.8 339.9 883.3 338 882.7 336.2 882.2 334.4 881.6 332.6 881.1 330.9 880.5 329.2 879.9 327.6 879.4 326 878.8 324.4 878.2 322.9 877.6 321.4 877 319.9 876.3 318.5 875.7 317.1 875.1 315.8 874.4 314.5 873.8 313.3 873.2 312.1 872.5 310.9 871.8 309.8 871.2 308.7 870.5 307.7 869.8 306.8 869.2 305.8 868.5 304.9 867.8 304.1 867.1 303.3 866.4 302.6 865.7 301.8 865 301.2 864.3 300.6 863.6 300 862.9 299.5 862.2 299 861.5 298.6 860.8 298.3 860 297.9 859.3 297.7 858.6 297.4 857.9 297.2 857.2 297.1 856.4 297 855.7 297 855" stroke="#505050" stroke-width="33.5"/><path d="M615 851L615 851.8 614.9 852.6 614.8 853.4 614.6 854.2 614.3 855 614.1 855.8 613.7 856.5 613.4 857.3 613 858.1 612.5 858.9 612 859.7 611.4 860.4 610.8 861.2 610.2 862 609.4 862.7 608.7 863.5 607.9 864.2 607.1 865 606.2 865.7 605.2 866.5 604.3 867.2 603.3 867.9 602.2 868.7 601.1 869.4 599.9 870.1 598.7 870.8 597.5 871.5 596.2 872.2 594.9 872.9 593.5 873.6 592.1 874.2 590.6 874.9 589.1 875.6 587.6 876.2 586 876.9 584.4 877.5 582.8 878.1 581.1 878.7 579.4 879.4 577.6 880 575.8 880.6 574 881.1 572.1 881.7 570.2 882.3 568.2 882.8 566.2 883.4 564.2 883.9 562.2 884.4 560.1 885 558 885.5 555.9 886 553.7 886.5 551.5 886.9 549.3 887.4 547 887.9 544.7 888.3 542.4 888.7 540.1 889.2 537.7 889.6 535.3 890 532.9 890.4 530.5 890.7 528 891.1 525.6 891.4 523.1 891.8 520.5 892.1 518 892.4 515.4 892.7 512.9 893 510.3 893.3 507.7 893.6 505 893.8 502.4 894.1 499.7 894.3 497.1 894.5 494.4 894.7 491.7 894.9 489 895.1 486.3 895.2 483.5 895.4 480.8 895.5 478.1 895.7 475.3 895.8 472.6 895.9 469.8 896 467.1 896 464.3 896.1 461.5 896.1 458.8 896.2 456 896.2 453.2 896.2 450.5 896.2 447.7 896.2 444.9 896.1 442.2 896.1 439.4 896 436.7 896 433.9 895.9 431.2 895.8 428.5 895.7 425.7 895.6 423 895.4 420.3 895.3 417.6 895.1 414.9 894.9 412.3 894.8 409.6 894.6 407 894.4 404.3 894.1 401.7 893.9 399.1 893.6 396.6 893.4 394 893.1 391.5 892.8 388.9 892.5 386.4 892.2 384 891.9 381.5 891.6 379.1 891.2 376.7 890.9 374.3 890.5 371.9 890.1 369.6 889.8 367.3 889.4 365 889 362.7 888.5 360.5 888.1 358.3 887.7 356.1 887.2 354 886.8 351.9 886.3 349.8 885.8 347.8 885.3 345.8 884.8 343.8 884.3 341.8 883.8 339.9 883.3 338 882.7 336.2 882.2 334.4 881.6 332.6 881.1 330.9 880.5 329.2 879.9 327.6 879.4 326 878.8 324.4 878.2 322.9 877.6 321.4 877 319.9 876.3 318.5 875.7 317.1 875.1 315.8 874.4 314.5 873.8 313.3 873.2 312.1 872.5 310.9 871.8 309.8 871.2 308.7 870.5 307.7 869.8 306.8 869.2 305.8 868.5 304.9 867.8 304.1 867.1 303.3 866.4 302.6 865.7 301.8 865 301.2 864.3 300.6 863.6 300 862.9 299.5 862.2 299 861.5 298.6 860.8 298.3 860 297.9 859.3 297.7 858.6 297.4 857.9 297.2 857.2 297.1 856.4 297 855.7 297 855" stroke="#9a9a9a" stroke-width="31"/><path d="M615 851L614.9 851.8 614.8 852.6 614.7 853.4 614.5 854.2 614.2 854.9 613.9 855.7 613.6 856.5 613.2 857.2 612.8 858 612.3 858.8 611.8 859.5 611.2 860.3 610.6 861 609.9 861.8 609.2 862.5 608.5 863.2 607.7 864 606.8 864.7 605.9 865.4 605 866.1 604 866.8 603 867.6 601.9 868.3 600.8 869 599.7 869.7 598.5 870.4 597.2 871.1 596 871.8 594.6 872.4 593.3 873.1 591.9 873.8 590.4 874.4 588.9 875.1 587.4 875.8 585.9 876.4 584.2 877 582.6 877.7 580.9 878.3 579.2 878.9 577.4 879.5 575.6 880.1 573.8 880.7 571.9 881.2 570 881.8 568.1 882.4 566.1 882.9 564.1 883.4 562.1 884 560 884.5 557.9 885 555.8 885.5 553.6 886 551.4 886.4 549.2 886.9 546.9 887.4 544.6 887.8 542.3 888.2 540 888.7 537.6 889.1 535.3 889.5 532.8 889.9 530.4 890.2 528 890.6 525.5 890.9 523 891.3 520.5 891.6 517.9 891.9 515.4 892.2 512.8 892.5 510.2 892.8 507.6 893.1 505 893.3 502.3 893.6 499.7 893.8 497 894 494.3 894.2 491.7 894.4 489 894.6 486.2 894.7 483.5 894.9 480.8 895 478.1 895.2 475.3 895.3 472.6 895.4 469.8 895.5 467.1 895.5 464.3 895.6 461.5 895.6 458.8 895.7 456 895.7 453.2 895.7 450.5 895.7 447.7 895.7 444.9 895.6 442.2 895.6 439.4 895.5 436.7 895.5 433.9 895.4 431.2 895.3 428.5 895.2 425.8 895.1 423 894.9 420.3 894.8 417.7 894.6 415 894.4 412.3 894.3 409.7 894.1 407 893.9 404.4 893.6 401.8 893.4 399.2 893.1 396.6 892.9 394.1 892.6 391.5 892.3 389 892 386.5 891.7 384 891.4 381.6 891.1 379.1 890.7 376.7 890.4 374.4 890 372 889.7 369.7 889.3 367.4 888.9 365.1 888.5 362.8 888 360.6 887.6 358.4 887.2 356.2 886.7 354.1 886.3 352 885.8 349.9 885.3 347.9 884.8 345.9 884.3 343.9 883.8 342 883.3 340.1 882.8 338.2 882.3 336.4 881.7 334.6 881.2 332.8 880.6 331.1 880 329.4 879.5 327.7 878.9 326.1 878.3 324.6 877.7 323 877.1 321.6 876.5 320.1 875.9 318.7 875.3 317.3 874.6 316 874 314.7 873.4 313.5 872.7 312.3 872.1 311.2 871.4 310.1 870.8 309 870.1 308 869.5 307 868.8 306.1 868.2 305.2 867.5 304.3 866.8 303.5 866.1 302.8 865.5 302.1 864.8 301.4 864.1 300.8 863.4 300.2 862.7 299.7 862.1 299.2 861.4 298.8 860.7 298.4 860 298.1 859.3 297.8 858.6 297.5 857.9 297.3 857.1 297.2 856.4 297.1 855.7 297 855" stroke="#ababab" stroke-width="28"/><path d="M615 851L614.9 851.8 614.8 852.6 614.6 853.3 614.3 854.1 614 854.9 613.7 855.6 613.3 856.4 612.9 857.1 612.4 857.8 611.9 858.5 611.4 859.2 610.8 860 610.2 860.7 609.5 861.4 608.7 862.1 608 862.7 607.2 863.4 606.3 864.1 605.4 864.8 604.5 865.5 603.5 866.1 602.4 866.8 601.4 867.4 600.3 868.1 599.1 868.8 598 869.5 596.8 870.2 595.5 870.9 594.2 871.5 592.8 872.2 591.5 872.9 590 873.5 588.5 874.2 587 874.8 585.5 875.5 583.9 876.1 582.2 876.7 580.6 877.3 578.9 877.9 577.1 878.5 575.3 879.1 573.5 879.7 571.6 880.3 569.7 880.8 567.8 881.4 565.9 881.9 563.9 882.5 561.8 883 559.8 883.5 557.7 884 555.5 884.5 553.4 885 551.2 885.5 549 885.9 546.7 886.4 544.4 886.8 542.1 887.3 539.8 887.7 537.5 888.1 535.1 888.5 532.7 888.9 530.3 889.2 527.8 889.6 525.3 890 522.9 890.3 520.3 890.6 517.8 890.9 515.3 891.2 512.7 891.5 510.1 891.8 507.5 892.1 504.9 892.3 502.3 892.6 499.6 892.8 496.9 893 494.3 893.2 491.6 893.4 488.9 893.6 486.2 893.7 483.5 893.9 480.7 894 478 894.2 475.3 894.3 472.5 894.4 469.8 894.5 467 894.5 464.3 894.6 461.5 894.6 458.8 894.7 456 894.7 453.2 894.7 450.5 894.7 447.7 894.7 445 894.6 442.2 894.6 439.5 894.5 436.7 894.5 434 894.4 431.2 894.3 428.5 894.2 425.8 894.1 423.1 893.9 420.4 893.8 417.7 893.6 415 893.5 412.4 893.3 409.7 893.1 407.1 892.9 404.5 892.6 401.9 892.4 399.3 892.2 396.7 891.9 394.2 891.6 391.6 891.3 389.1 891 386.6 890.7 384.2 890.4 381.7 890.1 379.3 889.8 376.9 889.4 374.5 889 372.2 888.7 369.8 888.3 367.5 887.9 365.3 887.5 363 887.1 360.8 886.6 358.6 886.2 356.4 885.7 354.3 885.3 352.2 884.8 350.2 884.3 348.1 883.9 346.1 883.4 344.2 882.9 342.2 882.4 340.3 881.8 338.5 881.3 336.6 880.8 334.9 880.2 333.1 879.7 331.4 879.1 329.7 878.5 328.1 878 326.5 877.4 324.9 876.8 323.4 876.2 321.9 875.6 320.5 875 319.1 874.4 317.8 873.7 316.5 873.1 315.2 872.5 314 871.8 312.8 871.2 311.7 870.5 310.6 869.9 309.5 869.3 308.5 868.7 307.5 868.1 306.6 867.5 305.7 866.9 304.8 866.3 304 865.6 303.2 865 302.5 864.4 301.8 863.7 301.2 863.1 300.6 862.5 300 861.8 299.5 861.2 299.1 860.5 298.7 859.8 298.3 859.2 298 858.5 297.7 857.8 297.4 857.1 297.2 856.4 297.1 855.7 297 855" stroke="#b9b9b9" stroke-width="25"/><path d="M615 851L614.8 851.8 614.6 852.6 614.4 853.3 614.1 854 613.7 854.8 613.3 855.5 612.9 856.2 612.4 856.9 611.9 857.5 611.4 858.2 610.8 858.8 610.2 859.5 609.5 860.1 608.8 860.8 608 861.4 607.3 862 606.4 862.6 605.6 863.2 604.6 863.8 603.7 864.4 602.7 865 601.6 865.6 600.6 866.2 599.5 866.8 598.4 867.5 597.2 868.2 596 868.9 594.8 869.5 593.5 870.2 592.2 870.9 590.8 871.5 589.4 872.2 588 872.8 586.5 873.4 584.9 874.1 583.3 874.7 581.7 875.3 580.1 875.9 578.4 876.5 576.6 877.1 574.9 877.7 573.1 878.3 571.2 878.8 569.3 879.4 567.4 879.9 565.5 880.5 563.5 881 561.5 881.5 559.4 882.1 557.3 882.6 555.2 883 553.1 883.5 550.9 884 548.7 884.5 546.4 884.9 544.2 885.4 541.9 885.8 539.6 886.2 537.2 886.6 534.8 887 532.5 887.4 530 887.8 527.6 888.1 525.1 888.5 522.7 888.8 520.2 889.1 517.6 889.4 515.1 889.7 512.5 890 509.9 890.3 507.4 890.6 504.7 890.8 502.1 891.1 499.5 891.3 496.8 891.5 494.2 891.7 491.5 891.9 488.8 892.1 486.1 892.2 483.4 892.4 480.7 892.5 477.9 892.7 475.2 892.8 472.5 892.9 469.7 893 467 893 464.2 893.1 461.5 893.1 458.7 893.2 456 893.2 453.2 893.2 450.5 893.2 447.7 893.2 445 893.1 442.2 893.1 439.5 893 436.8 893 434 892.9 431.3 892.8 428.6 892.7 425.9 892.6 423.2 892.4 420.5 892.3 417.8 892.1 415.1 892 412.5 891.8 409.8 891.6 407.2 891.4 404.6 891.1 402 890.9 399.4 890.7 396.9 890.4 394.3 890.1 391.8 889.9 389.3 889.6 386.8 889.3 384.4 888.9 381.9 888.6 379.5 888.3 377.1 887.9 374.7 887.6 372.4 887.2 370.1 886.8 367.8 886.4 365.5 886 363.3 885.6 361.1 885.2 358.9 884.7 356.8 884.3 354.6 883.8 352.6 883.4 350.5 882.9 348.5 882.4 346.5 881.9 344.5 881.4 342.6 880.9 340.7 880.4 338.9 879.9 337.1 879.3 335.3 878.8 333.6 878.2 331.9 877.7 330.2 877.1 328.6 876.5 327 876 325.5 875.4 324 874.8 322.5 874.2 321.1 873.6 319.7 873 318.4 872.4 317.1 871.8 315.9 871.1 314.7 870.5 313.5 869.9 312.4 869.3 311.3 868.7 310.3 868.1 309.2 867.6 308.2 867.1 307.3 866.5 306.4 866 305.5 865.4 304.7 864.9 303.9 864.3 303.2 863.7 302.5 863.2 301.8 862.6 301.2 862 300.6 861.4 300 860.8 299.5 860.2 299.1 859.6 298.7 859 298.3 858.4 297.9 857.7 297.6 857.1 297.4 856.4 297.2 855.7 297 855" stroke="#c5c5c5" stroke-width="21"/><path d="M615 851L614.7 851.8 614.4 852.5 614.1 853.3 613.7 854 613.3 854.6 612.8 855.3 612.4 855.9 611.8 856.5 611.3 857.1 610.7 857.7 610 858.3 609.3 858.9 608.6 859.4 607.9 860 607.1 860.5 606.3 861 605.4 861.5 604.5 862.1 603.6 862.6 602.6 863.1 601.6 863.6 600.6 864.1 599.5 864.6 598.4 865.2 597.3 865.8 596.2 866.5 595.1 867.1 593.9 867.8 592.6 868.4 591.3 869.1 590 869.7 588.6 870.3 587.2 871 585.7 871.6 584.2 872.2 582.6 872.8 581 873.4 579.4 874 577.7 874.6 576 875.2 574.2 875.8 572.5 876.4 570.6 876.9 568.8 877.5 566.9 878 564.9 878.6 563 879.1 561 879.6 558.9 880.1 556.9 880.6 554.8 881.1 552.6 881.6 550.5 882 548.3 882.5 546 883 543.8 883.4 541.5 883.8 539.2 884.2 536.9 884.6 534.5 885 532.1 885.4 529.7 885.8 527.3 886.1 524.9 886.5 522.4 886.8 519.9 887.1 517.4 887.5 514.9 887.8 512.3 888.1 509.7 888.3 507.2 888.6 504.6 888.8 501.9 889.1 499.3 889.3 496.7 889.5 494 889.7 491.3 889.9 488.7 890.1 486 890.2 483.3 890.4 480.6 890.5 477.9 890.7 475.1 890.8 472.4 890.9 469.7 891 466.9 891 464.2 891.1 461.5 891.1 458.7 891.2 456 891.2 453.2 891.2 450.5 891.2 447.7 891.2 445 891.1 442.3 891.1 439.5 891 436.8 891 434.1 890.9 431.4 890.8 428.7 890.7 426 890.6 423.3 890.4 420.6 890.3 417.9 890.1 415.3 890 412.6 889.8 410 889.6 407.4 889.4 404.8 889.1 402.2 888.9 399.6 888.7 397.1 888.4 394.6 888.1 392 887.9 389.5 887.6 387.1 887.3 384.6 887 382.2 886.6 379.8 886.3 377.4 885.9 375 885.6 372.7 885.2 370.4 884.8 368.1 884.4 365.9 884 363.7 883.6 361.5 883.2 359.3 882.8 357.2 882.3 355.1 881.9 353 881.4 351 880.9 348.9 880.5 347 880 345 879.5 343.1 879 341.3 878.5 339.4 877.9 337.6 877.4 335.9 876.9 334.2 876.3 332.5 875.8 330.9 875.2 329.3 874.7 327.7 874.1 326.2 873.5 324.7 872.9 323.3 872.3 321.9 871.8 320.6 871.2 319.3 870.6 318 870 316.8 869.4 315.6 868.7 314.5 868.1 313.4 867.5 312.4 867 311.3 866.6 310.2 866.1 309.2 865.7 308.3 865.2 307.3 864.8 306.5 864.3 305.6 863.8 304.8 863.4 304 862.9 303.3 862.4 302.6 861.9 301.9 861.4 301.3 860.9 300.7 860.4 300.1 859.9 299.6 859.4 299.1 858.8 298.7 858.2 298.3 857.6 297.9 857 297.5 856.4 297.3 855.7 297 855" stroke="#d1d1d1" stroke-width="15"/><path d="M615 851L614.6 851.8 614.2 852.5 613.7 853.2 613.2 853.8 612.7 854.4 612.1 855 611.5 855.6 610.9 856.1 610.2 856.6 609.6 857 608.8 857.5 608.1 857.9 607.3 858.3 606.5 858.8 605.7 859.2 604.8 859.5 603.9 859.9 603 860.3 602.1 860.7 601.1 861.1 600 861.4 599 861.8 597.9 862.1 596.8 862.6 595.8 863.2 594.7 863.9 593.6 864.5 592.5 865.1 591.2 865.7 590 866.4 588.7 867 587.4 867.6 586 868.2 584.5 868.8 583.1 869.4 581.5 870 580 870.6 578.4 871.2 576.7 871.8 575 872.4 573.3 872.9 571.6 873.5 569.8 874.1 567.9 874.6 566.1 875.1 564.1 875.7 562.2 876.2 560.2 876.7 558.2 877.2 556.2 877.7 554.1 878.2 552 878.6 549.8 879.1 547.7 879.6 545.5 880 543.2 880.4 541 880.9 538.7 881.3 536.4 881.7 534 882.1 531.7 882.4 529.3 882.8 526.9 883.2 524.5 883.5 522 883.9 519.5 884.2 517 884.5 514.5 884.8 512 885.1 509.4 885.3 506.9 885.6 504.3 885.9 501.7 886.1 499.1 886.3 496.4 886.5 493.8 886.7 491.1 886.9 488.5 887.1 485.8 887.3 483.1 887.4 480.4 887.5 477.7 887.7 475 887.8 472.3 887.9 469.6 888 466.9 888 464.1 888.1 461.4 888.1 458.7 888.2 456 888.2 453.2 888.2 450.5 888.2 447.8 888.2 445 888.1 442.3 888.1 439.6 888 436.9 888 434.2 887.9 431.5 887.8 428.8 887.7 426.1 887.6 423.4 887.4 420.8 887.3 418.1 887.1 415.5 887 412.8 886.8 410.2 886.6 407.6 886.4 405 886.2 402.5 885.9 399.9 885.7 397.4 885.4 394.9 885.2 392.4 884.9 389.9 884.6 387.4 884.3 385 884 382.6 883.7 380.2 883.3 377.8 883 375.5 882.6 373.2 882.2 370.9 881.9 368.7 881.5 366.4 881.1 364.2 880.7 362 880.3 359.9 879.8 357.8 879.4 355.7 878.9 353.7 878.5 351.6 878 349.7 877.5 347.7 877.1 345.8 876.6 343.9 876.1 342.1 875.6 340.3 875.1 338.5 874.5 336.8 874 335.1 873.5 333.5 872.9 331.8 872.4 330.3 871.8 328.8 871.3 327.3 870.7 325.8 870.1 324.4 869.6 323.1 869 321.8 868.4 320.5 867.8 319.3 867.3 318.2 866.7 317 866.1 316 865.5 315 864.9 313.9 864.5 312.8 864.2 311.7 863.9 310.7 863.6 309.7 863.3 308.8 863 307.9 862.6 307 862.3 306.1 862 305.3 861.6 304.5 861.3 303.8 860.9 303.1 860.6 302.4 860.2 301.7 859.8 301.1 859.4 300.4 859 299.9 858.5 299.3 858 298.8 857.5 298.3 856.9 297.8 856.3 297.4 855.7 297 855" stroke="#e0e0e0" stroke-width="9"/><path d="M615 851L614.5 851.8 614 852.5 613.5 853.1 612.9 853.7 612.3 854.3 611.6 854.8 611 855.3 610.3 855.8 609.6 856.2 608.8 856.6 608.1 856.9 607.3 857.3 606.5 857.6 605.6 857.9 604.8 858.3 603.9 858.6 603 858.9 602 859.1 601 859.4 600 859.7 599 860 597.9 860.3 596.8 860.5 595.7 860.9 594.8 861.5 593.7 862.1 592.6 862.7 591.5 863.4 590.3 864 589.1 864.6 587.8 865.2 586.5 865.8 585.2 866.4 583.8 867 582.3 867.6 580.8 868.2 579.3 868.8 577.7 869.3 576.1 869.9 574.4 870.5 572.7 871 571 871.6 569.2 872.1 567.4 872.7 565.5 873.2 563.6 873.7 561.7 874.3 559.7 874.8 557.7 875.3 555.7 875.7 553.6 876.2 551.5 876.7 549.4 877.2 547.3 877.6 545.1 878 542.9 878.5 540.6 878.9 538.3 879.3 536 879.7 533.7 880.1 531.4 880.5 529 880.8 526.6 881.2 524.2 881.5 521.7 881.9 519.3 882.2 516.8 882.5 514.3 882.8 511.8 883.1 509.2 883.4 506.7 883.6 504.1 883.9 501.5 884.1 498.9 884.3 496.3 884.5 493.6 884.7 491 884.9 488.4 885.1 485.7 885.3 483 885.4 480.3 885.5 477.6 885.7 474.9 885.8 472.2 885.9 469.5 886 466.8 886 464.1 886.1 461.4 886.1 458.7 886.2 455.9 886.2 453.2 886.2 450.5 886.2 447.8 886.2 445.1 886.1 442.4 886.1 439.6 886 436.9 886 434.2 885.9 431.6 885.8 428.9 885.7 426.2 885.6 423.5 885.4 420.9 885.3 418.2 885.1 415.6 885 413 884.8 410.4 884.6 407.8 884.4 405.2 884.2 402.7 883.9 400.1 883.7 397.6 883.4 395.1 883.2 392.6 882.9 390.1 882.6 387.7 882.3 385.3 882 382.9 881.7 380.5 881.3 378.1 881 375.8 880.6 373.5 880.3 371.2 879.9 369 879.5 366.8 879.1 364.6 878.7 362.4 878.3 360.3 877.9 358.2 877.4 356.1 877 354.1 876.5 352.1 876.1 350.1 875.6 348.2 875.1 346.3 874.6 344.4 874.1 342.6 873.6 340.8 873.1 339.1 872.6 337.4 872.1 335.7 871.6 334.1 871 332.5 870.5 331 870 329.5 869.4 328 868.8 326.6 868.3 325.2 867.7 323.9 867.2 322.6 866.6 321.4 866 320.2 865.5 319.1 864.9 318 864.3 317 863.8 316 863.2 314.9 862.9 313.8 862.6 312.7 862.4 311.7 862.2 310.7 862 309.8 861.7 308.8 861.5 307.9 861.3 307 861 306.2 860.8 305.4 860.6 304.6 860.3 303.8 860 303.1 859.7 302.4 859.4 301.7 859.1 301 858.7 300.3 858.3 299.7 857.9 299.1 857.4 298.5 856.9 298 856.3 297.5 855.7 297 855" stroke="#ececec" stroke-width="4.5"/><path d="M480.8 895.5L478.1 895.7 475.3 895.8 472.6 895.9 469.8 896 467.1 896 464.3 896.1 461.5 896.1 458.8 896.2 456 896.2 453.2 896.2 450.5 896.2 447.7 896.2 444.9 896.1 442.2 896.1 439.4 896 436.7 896 433.9 895.9 431.2 895.8 428.5 895.7 425.7 895.6 423 895.4 420.3 895.3 417.6 895.1 414.9 894.9 412.3 894.8 409.6 894.6 407 894.4 404.3 894.1 401.7 893.9 399.1 893.6 396.6 893.4 394 893.1 391.5 892.8 388.9 892.5 386.4 892.2 384 891.9 381.5 891.6 379.1 891.2" stroke="url(#g11)" stroke-width="22" filter="url(#bl)"/><path d="M478 894.7L475.3 894.8 472.5 894.9 469.8 895 467 895 464.3 895.1 461.5 895.1 458.8 895.2 456 895.2 453.2 895.2 450.5 895.2 447.7 895.2 444.9 895.1 442.2 895.1 439.4 895 436.7 895 434 894.9 431.2 894.8 428.5 894.7 425.8 894.6 423.1 894.4 420.4 894.3 417.7 894.1 415 893.9 412.3 893.8 409.7 893.6 407.1 893.4 404.4 893.1" stroke="url(#g12)" stroke-width="10" filter="url(#bl)"/><path d="M359.7 892L357.5 891.6 355.3 891.1 353.1 890.7 351 890.2 348.9 889.7 346.8 889.2 344.8 888.7 342.8 888.2 340.8 887.7 338.8 887.1 336.9 886.6 335.1 886 333.2 885.5 331.4 884.9 329.6 884.3 327.9 883.7 326.2 883.1 324.6 882.5 322.9 881.9 321.4 881.3 319.8 880.7 318.3 880 316.9 879.4 315.4 878.7 314 878 312.7 877.4 311.4 876.7 310.1 876 308.9 875.3 307.7 874.6 306.6 873.9 305.5 873.1 304.4 872.4 303.4 871.7 302.4 870.9 301.5 870.2 300.6 869.4 299.8 868.6 299 867.8 298.2 867 297.5 866.1 296.8 865.3 296.2 864.4 295.6 863.6 295.1 862.7 294.7 861.8 294.2 860.9 293.9 859.9 293.6 859 293.3 858 293.2 857 293 856 293 855" stroke="url(#g19)" stroke-width="19.0" filter="url(#bl)"/><path d="M627 851.2L626.9 852.7 626.8 854.2 626.5 855.7 626.2 857.2 625.8 858.6 625.3 860 624.7 861.4 624.1 862.7 623.4 864 622.6 865.3 621.8 866.5 621 867.7 620.1 868.8 619.1 869.9 618.1 871 617.1 872.1 616 873.1 614.9 874.1 613.8 875 612.6 876 611.4 876.9 610.1 877.8 608.8 878.7 607.5 879.5 606.1 880.4 604.7 881.2 603.3 882 601.8 882.8 600.3 883.6 598.8 884.4 597.2 885.1 595.6 885.8 593.9 886.6 592.2 887.3 590.5 888 588.8 888.7 587 889.4 585.2 890 583.3 890.7 581.4 891.3 579.5 892 577.5 892.6 575.5 893.2 573.5 893.8 571.5 894.4" stroke="url(#g43)" stroke-width="8"/><path d="M622.5 851.1L622.4 852.4 622.3 853.6 622.1 854.8 621.8 856 621.5 857.2 621.1 858.4 620.6 859.6 620.1 860.7 619.5 861.8 618.8 862.9 618.1 863.9 617.4 865 616.6 866 615.8 866.9 614.9 867.9 614 868.8 613 869.8 612 870.7 610.9 871.5 609.8 872.4 608.7 873.3 607.5 874.1 606.3 874.9 605.1 875.7 603.8 876.5 602.5 877.3 601.1 878.1 599.7 878.8 598.3 879.6 596.8 880.3 595.3 881 593.7 881.7 592.1 882.4 590.5 883.1 588.8 883.8 587.1 884.5 585.4 885.1 583.6 885.8 581.8 886.4 580 887.1" stroke="url(#g45)" stroke-width="3.5"/><path d="M301.6 807.6L301.5 807.3 301.5 807" stroke="#505050" stroke-width="33.5" stroke-linecap="round"/><path d="M301.6 807.6L301.5 807.3 301.5 807" stroke="#9a9a9a" stroke-width="31" stroke-linecap="round"/><path d="M301.6 807.6L301.5 807.3 301.5 807" stroke="#ababab" stroke-width="28" stroke-linecap="round"/><path d="M301.7 807.6L301.6 807.3 301.5 807" stroke="#b9b9b9" stroke-width="25" stroke-linecap="round"/><path d="M301.8 807.6L301.6 807.3 301.5 807" stroke="#c5c5c5" stroke-width="21" stroke-linecap="round"/><path d="M302 807.5L301.7 807.3 301.5 807" stroke="#d1d1d1" stroke-width="15" stroke-linecap="round"/><path d="M302.2 807.5L301.8 807.3 301.5 807" stroke="#e0e0e0" stroke-width="9" stroke-linecap="round"/><path d="M302.4 807.4L301.9 807.3 301.5 807" stroke="#ececec" stroke-width="4.5" stroke-linecap="round"/><path d="M613.5 734L613.5 735.1 613.4 736.2 613.4 737.3 613.2 738.5 613 739.6 612.8 740.7 612.5 741.8 612.1 742.9 611.8 744 611.3 745.1 610.8 746.2 610.3 747.3 609.7 748.4 609.1 749.5 608.4 750.6 607.7 751.7 607 752.8 606.2 753.9 605.3 755 604.4 756.1 603.5 757.1 602.5 758.2 601.5 759.3 600.4 760.3 599.3 761.4 598.1 762.4 596.9 763.5 595.6 764.5 594.3 765.5 593 766.6 591.6 767.6 590.2 768.6 588.7 769.6 587.2 770.6 585.7 771.6 584.1 772.6 582.5 773.6 580.9 774.6 579.2 775.5 577.4 776.5 575.7 777.4 573.9 778.4 572 779.3 570.1 780.2 568.2 781.2 566.3 782.1 564.3 783 562.3 783.9 560.2 784.7 558.2 785.6 556.1 786.5 553.9 787.3 551.8 788.2 549.6 789 547.3 789.8 545.1 790.6 542.8 791.5 540.5 792.2 538.2 793 535.8 793.8 533.5 794.6 531.1 795.3 528.6 796.1 526.2 796.8 523.7 797.5 521.2 798.2 518.7 798.9 516.2 799.6 513.7 800.3 511.1 800.9 508.5 801.6 505.9 802.2 503.3 802.8 500.7 803.4 498.1 804.1 495.4 804.6 492.8 805.2 490.1 805.8 487.4 806.3 484.7 806.9 482 807.4 479.3 807.9 476.6 808.4 473.9 808.9 471.2 809.4 468.4 809.9 465.7 810.3 463 810.8 460.2 811.2 457.5 811.6 454.8 812 452 812.4 449.3 812.8 446.6 813.2 443.8 813.5 441.1 813.9 438.4 814.2 435.7 814.5 433 814.8 430.3 815.1 427.6 815.4 424.9 815.6 422.2 815.9 419.6 816.1 416.9 816.4 414.3 816.6 411.7 816.8 409.1 817 406.5 817.2 403.9 817.3 401.3 817.5 398.8 817.7 396.3 817.8 393.8 817.9 391.3 818 388.8 818.1 386.4 818.2 383.9 818.3 381.5 818.4 379.2 818.4 376.8 818.5 374.5 818.5 372.2 818.5 369.9 818.5 367.7 818.5 365.4 818.5 363.2 818.5 361.1 818.5 358.9 818.4 356.8 818.4 354.8 818.3 352.7 818.3 350.7 818.2 348.7 818.1 346.8 818 344.9 817.9 343 817.8 341.1 817.7 339.3 817.5 337.6 817.4 335.8 817.2 334.1 817.1 332.5 816.9 330.9 816.7 329.3 816.6 327.8 816.4 326.3 816.2 324.8 816 323.4 815.8 322 815.6 320.7 815.3 319.4 815.1 318.1 814.9 316.9 814.6 315.7 814.4 314.6 814.1 313.5 813.9 312.5 813.6 311.5 813.4 310.6 813.1 309.7 812.8 308.8 812.5 308 812.2 307.3 812 306.6 811.7 305.9 811.4 305.3 811.1 304.7 810.8 304.2 810.5 303.7 810.2 303.2 809.9 302.9 809.5 302.5 809.2 302.2 808.9 302 808.6 301.8 808.3 301.6 808 301.6 807.6 301.5 807.3 301.5 807" stroke="#505050" stroke-width="33.5"/><path d="M613.5 734L613.5 735.1 613.4 736.2 613.4 737.3 613.2 738.5 613 739.6 612.8 740.7 612.5 741.8 612.1 742.9 611.8 744 611.3 745.1 610.8 746.2 610.3 747.3 609.7 748.4 609.1 749.5 608.4 750.6 607.7 751.7 607 752.8 606.2 753.9 605.3 755 604.4 756.1 603.5 757.1 602.5 758.2 601.5 759.3 600.4 760.3 599.3 761.4 598.1 762.4 596.9 763.5 595.6 764.5 594.3 765.5 593 766.6 591.6 767.6 590.2 768.6 588.7 769.6 587.2 770.6 585.7 771.6 584.1 772.6 582.5 773.6 580.9 774.6 579.2 775.5 577.4 776.5 575.7 777.4 573.9 778.4 572 779.3 570.1 780.2 568.2 781.2 566.3 782.1 564.3 783 562.3 783.9 560.2 784.7 558.2 785.6 556.1 786.5 553.9 787.3 551.8 788.2 549.6 789 547.3 789.8 545.1 790.6 542.8 791.5 540.5 792.2 538.2 793 535.8 793.8 533.5 794.6 531.1 795.3 528.6 796.1 526.2 796.8 523.7 797.5 521.2 798.2 518.7 798.9 516.2 799.6 513.7 800.3 511.1 800.9 508.5 801.6 505.9 802.2 503.3 802.8 500.7 803.4 498.1 804.1 495.4 804.6 492.8 805.2 490.1 805.8 487.4 806.3 484.7 806.9 482 807.4 479.3 807.9 476.6 808.4 473.9 808.9 471.2 809.4 468.4 809.9 465.7 810.3 463 810.8 460.2 811.2 457.5 811.6 454.8 812 452 812.4 449.3 812.8 446.6 813.2 443.8 813.5 441.1 813.9 438.4 814.2 435.7 814.5 433 814.8 430.3 815.1 427.6 815.4 424.9 815.6 422.2 815.9 419.6 816.1 416.9 816.4 414.3 816.6 411.7 816.8 409.1 817 406.5 817.2 403.9 817.3 401.3 817.5 398.8 817.7 396.3 817.8 393.8 817.9 391.3 818 388.8 818.1 386.4 818.2 383.9 818.3 381.5 818.4 379.2 818.4 376.8 818.5 374.5 818.5 372.2 818.5 369.9 818.5 367.7 818.5 365.4 818.5 363.2 818.5 361.1 818.5 358.9 818.4 356.8 818.4 354.8 818.3 352.7 818.3 350.7 818.2 348.7 818.1 346.8 818 344.9 817.9 343 817.8 341.1 817.7 339.3 817.5 337.6 817.4 335.8 817.2 334.1 817.1 332.5 816.9 330.9 816.7 329.3 816.6 327.8 816.4 326.3 816.2 324.8 816 323.4 815.8 322 815.6 320.7 815.3 319.4 815.1 318.1 814.9 316.9 814.6 315.7 814.4 314.6 814.1 313.5 813.9 312.5 813.6 311.5 813.4 310.6 813.1 309.7 812.8 308.8 812.5 308 812.2 307.3 812 306.6 811.7 305.9 811.4 305.3 811.1 304.7 810.8 304.2 810.5 303.7 810.2 303.2 809.9 302.9 809.5 302.5 809.2 302.2 808.9 302 808.6 301.8 808.3 301.6 808 301.6 807.6 301.5 807.3 301.5 807" stroke="#9a9a9a" stroke-width="31"/><path d="M613.5 734L613.5 735.1 613.4 736.2 613.3 737.3 613.1 738.5 612.9 739.6 612.6 740.7 612.3 741.8 612 742.9 611.6 744 611.1 745 610.6 746.1 610.1 747.2 609.5 748.3 608.9 749.4 608.2 750.5 607.4 751.5 606.7 752.6 605.9 753.7 605 754.7 604.1 755.8 603.1 756.8 602.1 757.9 601.1 758.9 600 760 598.9 761 597.8 762.1 596.6 763.1 595.3 764.1 594 765.2 592.7 766.2 591.3 767.2 589.9 768.2 588.5 769.2 587 770.2 585.4 771.2 583.9 772.2 582.3 773.2 580.6 774.1 578.9 775.1 577.2 776 575.4 777 573.6 777.9 571.8 778.9 569.9 779.8 568 780.7 566.1 781.6 564.1 782.5 562.1 783.4 560.1 784.3 558 785.2 555.9 786 553.7 786.9 551.6 787.7 549.4 788.5 547.2 789.4 544.9 790.2 542.7 791 540.4 791.8 538 792.6 535.7 793.3 533.3 794.1 530.9 794.8 528.5 795.6 526 796.3 523.6 797 521.1 797.7 518.6 798.4 516.1 799.1 513.5 799.8 511 800.4 508.4 801.1 505.8 801.7 503.2 802.3 500.6 803 498 803.6 495.3 804.2 492.6 804.7 490 805.3 487.3 805.8 484.6 806.4 481.9 806.9 479.2 807.4 476.5 807.9 473.8 808.4 471.1 808.9 468.3 809.4 465.6 809.8 462.9 810.3 460.2 810.7 457.4 811.1 454.7 811.5 452 811.9 449.2 812.3 446.5 812.7 443.8 813 441.1 813.4 438.3 813.7 435.6 814 432.9 814.3 430.2 814.6 427.5 814.9 424.9 815.1 422.2 815.4 419.5 815.6 416.9 815.9 414.3 816.1 411.6 816.3 409 816.5 406.4 816.7 403.9 816.8 401.3 817 398.8 817.2 396.2 817.3 393.7 817.4 391.3 817.5 388.8 817.6 386.4 817.7 383.9 817.8 381.5 817.9 379.2 817.9 376.8 818 374.5 818 372.2 818 369.9 818 367.7 818 365.4 818 363.2 818 361.1 818 358.9 817.9 356.8 817.9 354.8 817.8 352.7 817.8 350.7 817.7 348.7 817.6 346.8 817.5 344.9 817.4 343 817.3 341.2 817.2 339.4 817 337.6 816.9 335.9 816.7 334.2 816.6 332.5 816.4 330.9 816.2 329.4 816.1 327.8 815.9 326.3 815.7 324.9 815.5 323.5 815.3 322.1 815.1 320.7 814.8 319.5 814.6 318.2 814.4 317 814.1 315.9 813.9 314.7 813.7 313.7 813.4 312.6 813.2 311.6 812.9 310.7 812.7 309.8 812.4 309 812.2 308.2 811.9 307.4 811.6 306.7 811.4 306 811.1 305.4 810.8 304.8 810.5 304.3 810.3 303.8 810 303.4 809.7 303 809.4 302.6 809.1 302.3 808.8 302.1 808.5 301.9 808.2 301.7 807.9 301.6 807.6 301.5 807.3 301.5 807" stroke="#ababab" stroke-width="28"/><path d="M613.5 734L613.4 735.1 613.3 736.2 613.2 737.3 612.9 738.4 612.7 739.5 612.4 740.6 612 741.7 611.6 742.8 611.2 743.8 610.7 744.9 610.2 745.9 609.6 747 609 748 608.3 749.1 607.6 750.1 606.9 751.1 606.1 752.2 605.2 753.2 604.4 754.2 603.4 755.2 602.5 756.2 601.5 757.2 600.4 758.2 599.3 759.2 598.2 760.3 597.1 761.3 595.9 762.3 594.7 763.4 593.4 764.4 592.1 765.4 590.7 766.4 589.3 767.4 587.9 768.4 586.4 769.4 584.9 770.4 583.3 771.3 581.7 772.3 580.1 773.3 578.4 774.2 576.7 775.2 575 776.1 573.2 777 571.3 778 569.5 778.9 567.6 779.8 565.7 780.7 563.7 781.6 561.7 782.5 559.7 783.4 557.6 784.2 555.5 785.1 553.4 785.9 551.2 786.8 549 787.6 546.8 788.4 544.6 789.2 542.3 790 540 790.8 537.7 791.6 535.4 792.4 533 793.1 530.6 793.9 528.2 794.6 525.8 795.3 523.3 796.1 520.8 796.8 518.3 797.5 515.8 798.1 513.3 798.8 510.7 799.5 508.2 800.1 505.6 800.8 503 801.4 500.4 802 497.7 802.6 495.1 803.2 492.4 803.8 489.8 804.3 487.1 804.9 484.4 805.4 481.7 805.9 479 806.5 476.3 807 473.6 807.4 470.9 807.9 468.2 808.4 465.5 808.8 462.7 809.3 460 809.7 457.3 810.1 454.5 810.5 451.8 810.9 449.1 811.3 446.4 811.7 443.7 812 440.9 812.4 438.2 812.7 435.5 813 432.8 813.3 430.1 813.6 427.4 813.9 424.8 814.2 422.1 814.4 419.5 814.6 416.8 814.9 414.2 815.1 411.6 815.3 409 815.5 406.4 815.7 403.8 815.8 401.3 816 398.7 816.2 396.2 816.3 393.7 816.4 391.2 816.5 388.8 816.6 386.3 816.7 383.9 816.8 381.5 816.9 379.1 816.9 376.8 817 374.5 817 372.2 817 369.9 817 367.7 817 365.4 817 363.3 817 361.1 817 359 816.9 356.9 816.9 354.8 816.8 352.8 816.8 350.8 816.7 348.8 816.6 346.9 816.5 345 816.4 343.1 816.3 341.3 816.2 339.5 816 337.7 815.9 336 815.7 334.3 815.6 332.6 815.4 331 815.3 329.5 815.1 327.9 814.9 326.5 814.7 325 814.5 323.6 814.3 322.2 814.1 320.9 813.9 319.6 813.6 318.4 813.4 317.2 813.2 316.1 812.9 315 812.7 313.9 812.5 312.9 812.3 311.9 812.1 310.9 811.9 310.1 811.6 309.2 811.4 308.4 811.2 307.6 811 306.9 810.8 306.3 810.5 305.6 810.3 305.1 810.1 304.5 809.9 304 809.6 303.6 809.4 303.2 809.1 302.8 808.9 302.5 808.7 302.3 808.4 302 808.2 301.8 807.9 301.7 807.6 301.6 807.3 301.5 807" stroke="#b9b9b9" stroke-width="25"/><path d="M613.5 734L613.4 735.1 613.2 736.2 613 737.3 612.7 738.4 612.4 739.5 612 740.5 611.6 741.6 611.1 742.6 610.7 743.6 610.1 744.6 609.5 745.6 608.9 746.6 608.3 747.6 607.6 748.6 606.8 749.6 606 750.6 605.2 751.5 604.3 752.5 603.4 753.4 602.5 754.4 601.5 755.3 600.4 756.3 599.4 757.2 598.3 758.2 597.2 759.2 596.1 760.2 594.9 761.2 593.7 762.2 592.5 763.2 591.2 764.2 589.9 765.2 588.5 766.2 587.1 767.1 585.6 768.1 584.1 769.1 582.6 770.1 581 771 579.3 772 577.7 772.9 576 773.9 574.3 774.8 572.5 775.7 570.7 776.6 568.8 777.5 566.9 778.4 565 779.3 563.1 780.2 561.1 781.1 559.1 782 557 782.8 554.9 783.7 552.8 784.5 550.7 785.4 548.5 786.2 546.3 787 544.1 787.8 541.8 788.6 539.5 789.4 537.2 790.2 534.9 790.9 532.6 791.7 530.2 792.4 527.8 793.2 525.3 793.9 522.9 794.6 520.4 795.3 517.9 796 515.4 796.7 512.9 797.4 510.4 798 507.8 798.7 505.2 799.3 502.6 799.9 500 800.5 497.4 801.1 494.8 801.7 492.1 802.3 489.5 802.8 486.8 803.4 484.1 803.9 481.4 804.5 478.8 805 476.1 805.5 473.4 806 470.6 806.4 467.9 806.9 465.2 807.4 462.5 807.8 459.8 808.2 457.1 808.6 454.3 809 451.6 809.4 448.9 809.8 446.2 810.2 443.5 810.5 440.8 810.9 438 811.2 435.3 811.5 432.7 811.8 430 812.1 427.3 812.4 424.6 812.7 422 812.9 419.3 813.2 416.7 813.4 414.1 813.6 411.5 813.8 408.9 814 406.3 814.2 403.7 814.4 401.2 814.5 398.6 814.7 396.1 814.8 393.6 814.9 391.2 815 388.7 815.1 386.3 815.2 383.9 815.3 381.5 815.4 379.1 815.4 376.8 815.5 374.4 815.5 372.2 815.5 369.9 815.5 367.7 815.5 365.4 815.5 363.3 815.5 361.1 815.5 359 815.4 356.9 815.4 354.8 815.3 352.8 815.3 350.8 815.2 348.9 815.1 346.9 815 345 814.9 343.2 814.8 341.4 814.7 339.6 814.5 337.8 814.4 336.1 814.2 334.4 814.1 332.8 813.9 331.2 813.8 329.6 813.6 328.1 813.4 326.7 813.2 325.2 813 323.8 812.8 322.5 812.6 321.2 812.4 319.9 812.2 318.7 811.9 317.5 811.7 316.4 811.5 315.3 811.2 314.2 811 313.2 810.9 312.2 810.8 311.3 810.6 310.4 810.5 309.6 810.3 308.8 810.2 308 810 307.3 809.9 306.6 809.7 306 809.6 305.4 809.4 304.9 809.2 304.4 809.1 304 808.9 303.5 808.8 303.2 808.6 302.8 808.4 302.5 808.2 302.3 808 302 807.8 301.8 807.6 301.6 807.3 301.5 807" stroke="#c5c5c5" stroke-width="21"/><path d="M613.5 734L613.3 735.1 613 736.2 612.7 737.3 612.3 738.3 611.9 739.4 611.5 740.4 611 741.4 610.5 742.4 609.9 743.3 609.3 744.3 608.7 745.2 608 746.2 607.3 747.1 606.5 748 605.7 748.9 604.9 749.8 604 750.7 603.1 751.6 602.2 752.4 601.2 753.3 600.1 754.1 599.1 755 598 755.8 596.9 756.7 595.9 757.7 594.8 758.7 593.6 759.7 592.5 760.6 591.2 761.6 590 762.6 588.7 763.6 587.3 764.5 585.9 765.5 584.5 766.4 583 767.4 581.5 768.4 579.9 769.3 578.3 770.2 576.7 771.2 575 772.1 573.3 773 571.6 773.9 569.8 774.8 567.9 775.7 566.1 776.6 564.2 777.5 562.3 778.4 560.3 779.3 558.3 780.1 556.3 781 554.2 781.8 552.1 782.7 550 783.5 547.8 784.3 545.6 785.1 543.4 785.9 541.2 786.7 538.9 787.5 536.6 788.3 534.3 789 531.9 789.8 529.6 790.5 527.2 791.3 524.8 792 522.3 792.7 519.9 793.4 517.4 794.1 514.9 794.8 512.4 795.4 509.9 796.1 507.3 796.7 504.7 797.3 502.2 798 499.6 798.6 497 799.2 494.3 799.8 491.7 800.3 489.1 800.9 486.4 801.4 483.7 802 481.1 802.5 478.4 803 475.7 803.5 473 804 470.3 804.5 467.6 804.9 464.9 805.4 462.2 805.8 459.5 806.3 456.8 806.7 454 807.1 451.3 807.5 448.6 807.8 445.9 808.2 443.2 808.5 440.5 808.9 437.8 809.2 435.1 809.5 432.4 809.8 429.8 810.1 427.1 810.4 424.4 810.7 421.8 810.9 419.1 811.2 416.5 811.4 413.9 811.6 411.3 811.8 408.7 812 406.1 812.2 403.6 812.4 401 812.5 398.5 812.7 396 812.8 393.5 812.9 391.1 813 388.6 813.1 386.2 813.2 383.8 813.3 381.4 813.4 379.1 813.4 376.7 813.5 374.4 813.5 372.1 813.5 369.9 813.5 367.7 813.5 365.5 813.5 363.3 813.5 361.1 813.5 359 813.4 357 813.4 354.9 813.3 352.9 813.3 350.9 813.2 349 813.1 347 813 345.2 812.9 343.3 812.8 341.5 812.7 339.7 812.5 338 812.4 336.3 812.3 334.6 812.1 333 811.9 331.4 811.8 329.9 811.6 328.4 811.4 326.9 811.2 325.5 811 324.1 810.8 322.8 810.6 321.5 810.4 320.3 810.2 319.1 810 317.9 809.7 316.8 809.5 315.8 809.3 314.7 809.1 313.7 809.1 312.7 809 311.8 809 310.9 808.9 310.1 808.9 309.3 808.8 308.5 808.8 307.8 808.7 307.1 808.6 306.5 808.6 305.9 808.5 305.4 808.4 304.9 808.4 304.4 808.3 304 808.2 303.6 808.2 303.2 808.1 302.9 808 302.6 807.9 302.3 807.7 302 807.5 301.7 807.3 301.5 807" stroke="#d1d1d1" stroke-width="15"/><path d="M613.5 734L613.1 735.1 612.8 736.2 612.3 737.2 611.8 738.3 611.3 739.2 610.7 740.2 610.1 741.1 609.5 742.1 608.8 742.9 608.1 743.8 607.4 744.7 606.6 745.5 605.8 746.3 604.9 747.1 604.1 747.9 603.2 748.6 602.2 749.4 601.3 750.1 600.3 750.9 599.2 751.6 598.1 752.3 597 753 595.9 753.8 594.8 754.6 593.8 755.5 592.8 756.4 591.7 757.4 590.6 758.3 589.4 759.3 588.2 760.2 586.9 761.1 585.6 762.1 584.2 763 582.8 763.9 581.4 764.9 579.9 765.8 578.4 766.7 576.8 767.6 575.2 768.6 573.6 769.5 571.9 770.4 570.2 771.3 568.4 772.2 566.6 773 564.8 773.9 562.9 774.8 561 775.7 559.1 776.5 557.1 777.4 555.1 778.2 553.1 779.1 551 779.9 548.9 780.7 546.8 781.5 544.6 782.3 542.4 783.1 540.2 783.9 537.9 784.7 535.7 785.4 533.4 786.2 531 786.9 528.7 787.7 526.3 788.4 523.9 789.1 521.5 789.8 519.1 790.5 516.6 791.2 514.1 791.9 511.6 792.5 509.1 793.2 506.6 793.8 504 794.4 501.5 795 498.9 795.7 496.3 796.2 493.7 796.8 491.1 797.4 488.4 798 485.8 798.5 483.2 799 480.5 799.6 477.8 800.1 475.2 800.6 472.5 801 469.8 801.5 467.1 802 464.4 802.4 461.7 802.9 459 803.3 456.3 803.7 453.6 804.1 450.9 804.5 448.2 804.9 445.5 805.2 442.8 805.6 440.1 805.9 437.5 806.2 434.8 806.6 432.1 806.9 429.4 807.1 426.8 807.4 424.1 807.7 421.5 807.9 418.9 808.2 416.3 808.4 413.7 808.6 411.1 808.8 408.5 809 405.9 809.2 403.4 809.4 400.9 809.5 398.4 809.7 395.9 809.8 393.4 809.9 390.9 810 388.5 810.1 386.1 810.2 383.7 810.3 381.3 810.4 379 810.4 376.7 810.5 374.4 810.5 372.1 810.5 369.9 810.5 367.7 810.5 365.5 810.5 363.3 810.5 361.2 810.5 359.1 810.4 357 810.4 355 810.3 353 810.3 351 810.2 349.1 810.1 347.2 810 345.3 809.9 343.5 809.8 341.7 809.7 340 809.5 338.2 809.4 336.6 809.3 334.9 809.1 333.3 809 331.7 808.8 330.2 808.6 328.8 808.4 327.3 808.3 325.9 808.1 324.6 807.9 323.3 807.7 322 807.5 320.8 807.2 319.6 807 318.5 806.8 317.4 806.6 316.4 806.3 315.4 806.3 314.4 806.4 313.4 806.5 312.5 806.5 311.7 806.6 310.8 806.7 310 806.8 309.3 806.8 308.6 806.9 307.9 807 307.3 807.1 306.7 807.1 306.1 807.2 305.6 807.3 305.1 807.4 304.7 807.4 304.2 807.5 303.8 807.6 303.4 807.6 303 807.6 302.6 807.6 302.2 807.5 301.8 807.3 301.5 807" stroke="#e0e0e0" stroke-width="9"/><path d="M613.5 734L613.1 735.1 612.6 736.2 612 737.2 611.5 738.2 610.9 739.2 610.2 740.1 609.5 741 608.8 741.8 608.1 742.7 607.3 743.5 606.5 744.3 605.7 745 604.8 745.8 603.9 746.5 603 747.2 602 747.9 601 748.5 600 749.2 599 749.9 597.9 750.5 596.8 751.1 595.7 751.8 594.5 752.4 593.4 753.1 592.5 754 591.5 754.9 590.4 755.8 589.3 756.8 588.2 757.7 587 758.6 585.7 759.5 584.5 760.4 583.1 761.4 581.8 762.3 580.3 763.2 578.9 764.1 577.4 765 575.8 765.9 574.3 766.8 572.6 767.7 571 768.6 569.3 769.5 567.5 770.4 565.8 771.3 563.9 772.1 562.1 773 560.2 773.8 558.3 774.7 556.3 775.5 554.3 776.4 552.3 777.2 550.3 778 548.2 778.8 546.1 779.6 543.9 780.4 541.7 781.2 539.5 782 537.3 782.8 535 783.5 532.7 784.3 530.4 785 528.1 785.8 525.7 786.5 523.4 787.2 521 787.9 518.5 788.6 516.1 789.3 513.6 789.9 511.1 790.6 508.6 791.2 506.1 791.9 503.6 792.5 501 793.1 498.4 793.7 495.9 794.3 493.3 794.9 490.7 795.4 488 796 485.4 796.5 482.8 797.1 480.1 797.6 477.5 798.1 474.8 798.6 472.1 799.1 469.4 799.5 466.8 800 464.1 800.5 461.4 800.9 458.7 801.3 456 801.7 453.3 802.1 450.6 802.5 447.9 802.9 445.3 803.2 442.6 803.6 439.9 803.9 437.2 804.3 434.5 804.6 431.9 804.9 429.2 805.2 426.6 805.4 423.9 805.7 421.3 805.9 418.7 806.2 416.1 806.4 413.5 806.6 410.9 806.8 408.4 807 405.8 807.2 403.3 807.4 400.7 807.5 398.2 807.7 395.8 807.8 393.3 807.9 390.9 808 388.4 808.1 386 808.2 383.6 808.3 381.3 808.4 379 808.4 376.6 808.5 374.4 808.5 372.1 808.5 369.9 808.5 367.7 808.5 365.5 808.5 363.3 808.5 361.2 808.5 359.1 808.4 357.1 808.4 355.1 808.3 353.1 808.3 351.1 808.2 349.2 808.1 347.3 808 345.4 807.9 343.6 807.8 341.8 807.7 340.1 807.6 338.4 807.4 336.7 807.3 335.1 807.1 333.5 807 332 806.8 330.5 806.6 329 806.5 327.6 806.3 326.2 806.1 324.9 805.9 323.6 805.7 322.3 805.5 321.2 805.3 320 805.1 318.9 804.8 317.9 804.6 316.9 804.4 315.9 804.4 314.9 804.6 313.9 804.7 313 804.9 312.1 805.1 311.3 805.2 310.5 805.4 309.8 805.5 309.1 805.7 308.4 805.9 307.8 806 307.2 806.2 306.6 806.4 306.1 806.6 305.6 806.7 305.1 806.9 304.7 807.1 304.2 807.2 303.8 807.4 303.3 807.5 302.9 807.5 302.4 807.4 301.9 807.3 301.5 807" stroke="#ececec" stroke-width="4.5"/><path d="M489.1 800.9L486.4 801.4 483.7 802 481.1 802.5 478.4 803 475.7 803.5 473 804 470.3 804.5 467.6 804.9 464.9 805.4 462.2 805.8 459.5 806.3 456.8 806.7 454 807.1 451.3 807.5 448.6 807.8 445.9 808.2 443.2 808.5 440.5 808.9 437.8 809.2 435.1 809.5 432.4 809.8 429.8 810.1 427.1 810.4 424.4 810.7 421.8 810.9 419.1 811.2 416.5 811.4 413.9 811.6 411.3 811.8 408.7 812 406.1 812.2 403.6 812.4 401 812.5 398.5 812.7 396 812.8 393.5 812.9 391.1 813 388.6 813.1 386.2 813.2" stroke="url(#g9)" stroke-width="17.0" filter="url(#bl)"/><path d="M486.2 800.5L483.5 801 480.9 801.5 478.2 802 475.5 802.5 472.8 803 470.1 803.5 467.4 804 464.7 804.4 462 804.8 459.3 805.3 456.6 805.7 453.9 806.1 451.2 806.5 448.5 806.8 445.8 807.2 443.1 807.6 440.4 807.9 437.7 808.2 435 808.5 432.3 808.8 429.7 809.1 427 809.4 424.3 809.7 421.7 809.9 419.1 810.2 416.4 810.4 413.8 810.6 411.2 810.8" stroke="url(#g10)" stroke-width="14" filter="url(#bl)"/><path d="M363.2 822.5L361 822.5 358.9 822.4 356.7 822.4 354.6 822.3 352.6 822.3 350.5 822.2 348.5 822.1 346.6 822 344.6 821.9 342.7 821.8 340.9 821.6 339 821.5 337.2 821.4 335.5 821.2 333.8 821.1 332.1 820.9 330.4 820.7 328.8 820.5 327.3 820.3 325.7 820.1 324.2 819.9 322.8 819.7 321.4 819.5 320 819.3 318.7 819 317.4 818.8 316.1 818.6 314.9 818.3 313.7 818 312.6 817.8 311.5 817.5 310.5 817.2 309.4 816.9 308.5 816.6 307.5 816.3 306.7 816 305.8 815.7 305 815.3 304.2 815 303.5 814.6 302.8 814.3 302.1 813.9 301.4 813.5 300.8 813 300.2 812.6 299.7 812.1 299.2 811.5 298.7 810.9 298.3 810.2 297.9 809.4 297.7 808.5 297.5 807.6 297.5 806.9" stroke="url(#g18)" stroke-width="19.0" filter="url(#bl)"/><path d="M625.5 734L625.5 735.4 625.4 737 625.3 738.7 625.1 740.3 624.8 741.9 624.4 743.5 624 745.1 623.6 746.6 623 748.2 622.4 749.7 621.8 751.2 621 752.7 620.3 754.2 619.5 755.6 618.6 757 617.7 758.5 616.7 759.8 615.7 761.2 614.6 762.5 613.5 763.9 612.4 765.2 611.2 766.5 610 767.7 608.7 769 607.4 770.2 606 771.4 604.6 772.6 603.2 773.8 601.7 775 600.2 776.2 598.7 777.3 597.1 778.4 595.5 779.5 593.8 780.7 592.1 781.7 590.4 782.8 588.7 783.9 586.9 784.9 585 786 583.2 787 581.3 788 579.3 789.1 577.4 790 575.4 791 573.4 792" stroke="url(#g39)" stroke-width="8"/><path d="M621 734L621 735.3 620.9 736.7 620.8 738.2 620.6 739.6 620.4 741 620.1 742.4 619.7 743.8 619.3 745.2 618.8 746.6 618.3 748 617.7 749.4 617 750.7 616.3 752 615.6 753.3 614.8 754.6 613.9 755.9 613.1 757.2 612.1 758.5 611.1 759.7 610.1 760.9 609 762.2 607.9 763.4 606.8 764.6 605.6 765.7 604.3 766.9 603.1 768.1 601.7 769.2 600.4 770.3 599 771.5 597.5 772.6 596 773.7 594.5 774.7 593 775.8 591.4 776.9 589.7 777.9 588.1 779 586.4 780 584.6 781.1 582.8 782.1 581 783.1" stroke="url(#g41)" stroke-width="3.5"/><path d="M300.1 658.5L300 658.3 300 658" stroke="#505050" stroke-width="33.5" stroke-linecap="round"/><path d="M300.1 658.5L300 658.3 300 658" stroke="#9a9a9a" stroke-width="31" stroke-linecap="round"/><path d="M300.1 658.5L300 658.3 300 658" stroke="#ababab" stroke-width="28" stroke-linecap="round"/><path d="M300.2 658.5L300.1 658.3 300 658" stroke="#b9b9b9" stroke-width="25" stroke-linecap="round"/><path d="M300.3 658.5L300.1 658.3 300 658" stroke="#c5c5c5" stroke-width="21" stroke-linecap="round"/><path d="M300.5 658.4L300.2 658.2 300 658" stroke="#d1d1d1" stroke-width="15" stroke-linecap="round"/><path d="M300.7 658.3L300.4 658.2 300 658" stroke="#e0e0e0" stroke-width="9" stroke-linecap="round"/><path d="M300.9 658.3L300.4 658.2 300 658" stroke="#ececec" stroke-width="4.5" stroke-linecap="round"/><path d="M613 587L613 588.1 612.9 589.1 612.8 590.2 612.7 591.3 612.5 592.4 612.2 593.4 611.9 594.5 611.6 595.6 611.2 596.6 610.8 597.7 610.3 598.7 609.7 599.8 609.2 600.9 608.5 601.9 607.9 603 607.1 604 606.4 605 605.6 606.1 604.7 607.1 603.8 608.1 602.9 609.2 601.9 610.2 600.8 611.2 599.7 612.2 598.6 613.2 597.4 614.2 596.2 615.2 595 616.2 593.7 617.2 592.3 618.2 590.9 619.2 589.5 620.1 588.1 621.1 586.6 622 585 623 583.4 623.9 581.8 624.9 580.1 625.8 578.4 626.7 576.7 627.6 574.9 628.5 573.1 629.4 571.3 630.3 569.4 631.2 567.5 632.1 565.5 632.9 563.5 633.8 561.5 634.6 559.5 635.5 557.4 636.3 555.3 637.1 553.1 637.9 551 638.7 548.8 639.5 546.5 640.3 544.3 641.1 542 641.8 539.7 642.6 537.4 643.3 535 644.1 532.6 644.8 530.2 645.5 527.8 646.2 525.3 646.9 522.9 647.6 520.4 648.2 517.9 648.9 515.3 649.6 512.8 650.2 510.2 650.8 507.6 651.4 505 652 502.4 652.6 499.8 653.2 497.1 653.8 494.5 654.3 491.8 654.9 489.2 655.4 486.5 656 483.8 656.5 481.1 657 478.4 657.5 475.6 658 472.9 658.4 470.2 658.9 467.5 659.3 464.7 659.8 462 660.2 459.2 660.6 456.5 661 453.8 661.4 451 661.7 448.3 662.1 445.5 662.5 442.8 662.8 440.1 663.1 437.4 663.4 434.6 663.7 431.9 664 429.2 664.3 426.5 664.6 423.8 664.8 421.2 665.1 418.5 665.3 415.9 665.6 413.2 665.8 410.6 666 408 666.2 405.4 666.3 402.8 666.5 400.2 666.7 397.7 666.8 395.1 666.9 392.6 667.1 390.1 667.2 387.7 667.3 385.2 667.4 382.8 667.5 380.4 667.5 378 667.6 375.6 667.7 373.3 667.7 371 667.7 368.7 667.7 366.5 667.8 364.2 667.8 362 667.8 359.9 667.7 357.7 667.7 355.6 667.7 353.5 667.6 351.5 667.6 349.5 667.5 347.5 667.5 345.5 667.4 343.6 667.3 341.7 667.2 339.9 667.1 338.1 667 336.3 666.9 334.6 666.7 332.9 666.6 331.2 666.5 329.6 666.3 328 666.2 326.4 666 324.9 665.9 323.5 665.7 322.1 665.5 320.7 665.3 319.3 665.1 318 664.9 316.8 664.7 315.6 664.5 314.4 664.3 313.3 664.1 312.2 663.9 311.1 663.7 310.1 663.4 309.2 663.2 308.3 663 307.4 662.7 306.6 662.5 305.9 662.2 305.1 662 304.5 661.7 303.8 661.5 303.3 661.2 302.7 661 302.2 660.7 301.8 660.4 301.4 660.2 301.1 659.9 300.8 659.6 300.5 659.4 300.3 659.1 300.2 658.8 300.1 658.5 300 658.3 300 658" stroke="#505050" stroke-width="33.5"/><path d="M613 587L613 588.1 612.9 589.1 612.8 590.2 612.7 591.3 612.5 592.4 612.2 593.4 611.9 594.5 611.6 595.6 611.2 596.6 610.8 597.7 610.3 598.7 609.7 599.8 609.2 600.9 608.5 601.9 607.9 603 607.1 604 606.4 605 605.6 606.1 604.7 607.1 603.8 608.1 602.9 609.2 601.9 610.2 600.8 611.2 599.7 612.2 598.6 613.2 597.4 614.2 596.2 615.2 595 616.2 593.7 617.2 592.3 618.2 590.9 619.2 589.5 620.1 588.1 621.1 586.6 622 585 623 583.4 623.9 581.8 624.9 580.1 625.8 578.4 626.7 576.7 627.6 574.9 628.5 573.1 629.4 571.3 630.3 569.4 631.2 567.5 632.1 565.5 632.9 563.5 633.8 561.5 634.6 559.5 635.5 557.4 636.3 555.3 637.1 553.1 637.9 551 638.7 548.8 639.5 546.5 640.3 544.3 641.1 542 641.8 539.7 642.6 537.4 643.3 535 644.1 532.6 644.8 530.2 645.5 527.8 646.2 525.3 646.9 522.9 647.6 520.4 648.2 517.9 648.9 515.3 649.6 512.8 650.2 510.2 650.8 507.6 651.4 505 652 502.4 652.6 499.8 653.2 497.1 653.8 494.5 654.3 491.8 654.9 489.2 655.4 486.5 656 483.8 656.5 481.1 657 478.4 657.5 475.6 658 472.9 658.4 470.2 658.9 467.5 659.3 464.7 659.8 462 660.2 459.2 660.6 456.5 661 453.8 661.4 451 661.7 448.3 662.1 445.5 662.5 442.8 662.8 440.1 663.1 437.4 663.4 434.6 663.7 431.9 664 429.2 664.3 426.5 664.6 423.8 664.8 421.2 665.1 418.5 665.3 415.9 665.6 413.2 665.8 410.6 666 408 666.2 405.4 666.3 402.8 666.5 400.2 666.7 397.7 666.8 395.1 666.9 392.6 667.1 390.1 667.2 387.7 667.3 385.2 667.4 382.8 667.5 380.4 667.5 378 667.6 375.6 667.7 373.3 667.7 371 667.7 368.7 667.7 366.5 667.8 364.2 667.8 362 667.8 359.9 667.7 357.7 667.7 355.6 667.7 353.5 667.6 351.5 667.6 349.5 667.5 347.5 667.5 345.5 667.4 343.6 667.3 341.7 667.2 339.9 667.1 338.1 667 336.3 666.9 334.6 666.7 332.9 666.6 331.2 666.5 329.6 666.3 328 666.2 326.4 666 324.9 665.9 323.5 665.7 322.1 665.5 320.7 665.3 319.3 665.1 318 664.9 316.8 664.7 315.6 664.5 314.4 664.3 313.3 664.1 312.2 663.9 311.1 663.7 310.1 663.4 309.2 663.2 308.3 663 307.4 662.7 306.6 662.5 305.9 662.2 305.1 662 304.5 661.7 303.8 661.5 303.3 661.2 302.7 661 302.2 660.7 301.8 660.4 301.4 660.2 301.1 659.9 300.8 659.6 300.5 659.4 300.3 659.1 300.2 658.8 300.1 658.5 300 658.3 300 658" stroke="#9a9a9a" stroke-width="31"/><path d="M613 587L613 588.1 612.9 589.1 612.8 590.2 612.6 591.3 612.4 592.3 612.1 593.4 611.8 594.5 611.4 595.5 611 596.6 610.6 597.6 610.1 598.6 609.5 599.7 608.9 600.7 608.3 601.8 607.6 602.8 606.9 603.8 606.1 604.8 605.3 605.8 604.4 606.9 603.5 607.9 602.5 608.9 601.5 609.9 600.5 610.9 599.4 611.9 598.3 612.9 597.1 613.8 595.9 614.8 594.7 615.8 593.4 616.8 592 617.8 590.7 618.7 589.2 619.7 587.8 620.7 586.3 621.6 584.8 622.6 583.2 623.5 581.6 624.4 579.9 625.3 578.2 626.3 576.5 627.2 574.7 628.1 572.9 629 571.1 629.9 569.2 630.7 567.3 631.6 565.3 632.5 563.3 633.3 561.3 634.2 559.3 635 557.2 635.8 555.1 636.6 553 637.5 550.8 638.3 548.6 639 546.4 639.8 544.1 640.6 541.8 641.4 539.5 642.1 537.2 642.9 534.9 643.6 532.5 644.3 530.1 645 527.6 645.7 525.2 646.4 522.7 647.1 520.2 647.8 517.7 648.4 515.2 649.1 512.7 649.7 510.1 650.3 507.5 650.9 504.9 651.6 502.3 652.1 499.7 652.7 497 653.3 494.4 653.9 491.7 654.4 489.1 654.9 486.4 655.5 483.7 656 481 656.5 478.3 657 475.6 657.5 472.8 657.9 470.1 658.4 467.4 658.8 464.6 659.3 461.9 659.7 459.2 660.1 456.4 660.5 453.7 660.9 451 661.2 448.2 661.6 445.5 662 442.8 662.3 440 662.6 437.3 662.9 434.6 663.2 431.9 663.5 429.2 663.8 426.5 664.1 423.8 664.4 421.1 664.6 418.5 664.8 415.8 665.1 413.2 665.3 410.6 665.5 407.9 665.7 405.3 665.8 402.8 666 400.2 666.2 397.7 666.3 395.1 666.4 392.6 666.6 390.1 666.7 387.7 666.8 385.2 666.9 382.8 667 380.4 667 378 667.1 375.6 667.2 373.3 667.2 371 667.2 368.7 667.2 366.5 667.3 364.2 667.3 362 667.3 359.9 667.2 357.7 667.2 355.6 667.2 353.5 667.1 351.5 667.1 349.5 667 347.5 667 345.5 666.9 343.6 666.8 341.8 666.7 339.9 666.6 338.1 666.5 336.3 666.4 334.6 666.2 332.9 666.1 331.2 666 329.6 665.8 328 665.7 326.5 665.5 325 665.4 323.5 665.2 322.1 665 320.7 664.8 319.4 664.6 318.1 664.4 316.9 664.2 315.6 664 314.5 663.8 313.4 663.6 312.3 663.4 311.2 663.2 310.2 663 309.3 662.8 308.4 662.6 307.5 662.3 306.7 662.1 306 661.9 305.2 661.7 304.6 661.4 303.9 661.2 303.4 661 302.8 660.7 302.3 660.5 301.9 660.3 301.5 660 301.2 659.8 300.9 659.5 300.6 659.3 300.4 659 300.2 658.8 300.1 658.5 300 658.3 300 658" stroke="#ababab" stroke-width="28"/><path d="M613 587L612.9 588.1 612.8 589.1 612.6 590.2 612.4 591.2 612.2 592.3 611.9 593.3 611.5 594.4 611.1 595.4 610.7 596.4 610.2 597.4 609.6 598.4 609.1 599.4 608.4 600.4 607.8 601.4 607.1 602.4 606.3 603.4 605.5 604.4 604.7 605.4 603.8 606.3 602.9 607.3 601.9 608.2 600.9 609.2 599.8 610.1 598.7 611.1 597.6 612.1 596.5 613.1 595.3 614.1 594.1 615 592.8 616 591.5 617 590.1 617.9 588.7 618.9 587.2 619.8 585.8 620.8 584.2 621.7 582.7 622.6 581.1 623.6 579.4 624.5 577.7 625.4 576 626.3 574.3 627.2 572.5 628.1 570.6 628.9 568.8 629.8 566.9 630.7 564.9 631.5 563 632.4 560.9 633.2 558.9 634.1 556.8 634.9 554.7 635.7 552.6 636.5 550.5 637.3 548.3 638.1 546.1 638.9 543.8 639.6 541.5 640.4 539.2 641.2 536.9 641.9 534.6 642.6 532.2 643.3 529.8 644.1 527.4 644.8 524.9 645.4 522.5 646.1 520 646.8 517.5 647.5 515 648.1 512.4 648.7 509.9 649.4 507.3 650 504.7 650.6 502.1 651.2 499.5 651.8 496.8 652.3 494.2 652.9 491.5 653.4 488.9 654 486.2 654.5 483.5 655 480.8 655.5 478.1 656 475.4 656.5 472.7 656.9 469.9 657.4 467.2 657.8 464.5 658.3 461.8 658.7 459 659.1 456.3 659.5 453.6 659.9 450.8 660.3 448.1 660.6 445.4 661 442.6 661.3 439.9 661.6 437.2 662 434.5 662.3 431.8 662.5 429.1 662.8 426.4 663.1 423.7 663.4 421 663.6 418.4 663.8 415.7 664.1 413.1 664.3 410.5 664.5 407.9 664.7 405.3 664.8 402.7 665 400.1 665.2 397.6 665.3 395.1 665.4 392.6 665.6 390.1 665.7 387.6 665.8 385.2 665.9 382.7 666 380.3 666 378 666.1 375.6 666.2 373.3 666.2 371 666.2 368.7 666.2 366.5 666.3 364.2 666.3 362 666.3 359.9 666.2 357.7 666.2 355.6 666.2 353.6 666.1 351.5 666.1 349.5 666 347.5 666 345.6 665.9 343.7 665.8 341.8 665.7 340 665.6 338.2 665.5 336.4 665.4 334.7 665.3 333 665.1 331.3 665 329.7 664.8 328.1 664.7 326.6 664.5 325.1 664.4 323.7 664.2 322.2 664 320.9 663.8 319.5 663.6 318.3 663.5 317 663.3 315.8 663.1 314.7 662.8 313.6 662.6 312.5 662.4 311.4 662.3 310.5 662.1 309.5 662 308.6 661.8 307.8 661.6 306.9 661.4 306.2 661.2 305.5 661.1 304.8 660.9 304.2 660.7 303.6 660.5 303 660.3 302.6 660.1 302.1 659.9 301.7 659.7 301.4 659.5 301 659.3 300.8 659.1 300.5 658.9 300.3 658.7 300.2 658.5 300.1 658.3 300 658" stroke="#b9b9b9" stroke-width="25"/><path d="M613 587L612.9 588.1 612.7 589.1 612.4 590.2 612.2 591.2 611.8 592.2 611.5 593.2 611.1 594.2 610.6 595.2 610.1 596.2 609.6 597.2 609 598.1 608.4 599.1 607.7 600 607 601 606.3 601.9 605.5 602.8 604.6 603.7 603.8 604.6 602.9 605.5 601.9 606.4 600.9 607.3 599.9 608.2 598.8 609.1 597.7 610 596.6 611 595.5 611.9 594.3 612.9 593.1 613.8 591.9 614.8 590.6 615.7 589.2 616.7 587.9 617.6 586.4 618.6 585 619.5 583.5 620.4 581.9 621.3 580.3 622.2 578.7 623.2 577 624.1 575.3 625 573.6 625.8 571.8 626.7 570 627.6 568.1 628.5 566.2 629.3 564.3 630.2 562.4 631 560.4 631.9 558.4 632.7 556.3 633.5 554.2 634.3 552.1 635.1 549.9 635.9 547.8 636.7 545.6 637.5 543.3 638.2 541.1 639 538.8 639.7 536.5 640.5 534.1 641.2 531.8 641.9 529.4 642.6 527 643.3 524.5 644 522.1 644.7 519.6 645.3 517.1 646 514.6 646.6 512.1 647.3 509.5 647.9 506.9 648.5 504.4 649.1 501.8 649.7 499.1 650.3 496.5 650.9 493.9 651.4 491.2 652 488.6 652.5 485.9 653 483.2 653.5 480.5 654 477.8 654.5 475.1 655 472.4 655.5 469.7 655.9 467 656.4 464.3 656.8 461.5 657.2 458.8 657.6 456.1 658 453.3 658.4 450.6 658.8 447.9 659.1 445.2 659.5 442.4 659.8 439.7 660.1 437 660.5 434.3 660.8 431.6 661.1 428.9 661.3 426.2 661.6 423.6 661.9 420.9 662.1 418.3 662.3 415.6 662.6 413 662.8 410.4 663 407.8 663.2 405.2 663.3 402.6 663.5 400.1 663.7 397.5 663.8 395 664 392.5 664.1 390 664.2 387.6 664.3 385.1 664.4 382.7 664.5 380.3 664.5 377.9 664.6 375.6 664.7 373.3 664.7 371 664.7 368.7 664.7 366.4 664.8 364.2 664.8 362 664.8 359.9 664.7 357.8 664.7 355.7 664.7 353.6 664.6 351.6 664.6 349.6 664.5 347.6 664.5 345.7 664.4 343.8 664.3 341.9 664.2 340.1 664.1 338.3 664 336.5 663.9 334.8 663.8 333.1 663.6 331.5 663.5 329.9 663.3 328.3 663.2 326.8 663 325.3 662.9 323.8 662.7 322.4 662.5 321.1 662.3 319.8 662.2 318.5 662 317.3 661.8 316.1 661.6 314.9 661.4 313.8 661.2 312.8 661 311.8 660.9 310.8 660.8 309.8 660.7 308.9 660.6 308.1 660.5 307.3 660.4 306.5 660.3 305.8 660.2 305.1 660 304.5 659.9 303.9 659.8 303.4 659.7 302.9 659.6 302.4 659.4 302 659.3 301.6 659.2 301.3 659.1 301 658.9 300.8 658.8 300.5 658.6 300.3 658.5 300.1 658.3 300 658" stroke="#c5c5c5" stroke-width="21"/><path d="M613 587L612.8 588.1 612.5 589.1 612.2 590.1 611.8 591.2 611.4 592.1 611 593.1 610.5 594.1 610 595 609.4 595.9 608.8 596.8 608.1 597.7 607.4 598.6 606.7 599.5 606 600.3 605.2 601.2 604.3 602 603.5 602.8 602.6 603.7 601.6 604.5 600.6 605.3 599.6 606.1 598.5 606.9 597.4 607.7 596.4 608.5 595.3 609.5 594.2 610.4 593.1 611.3 591.9 612.3 590.7 613.2 589.4 614.1 588.1 615 586.7 616 585.4 616.9 583.9 617.8 582.4 618.7 580.9 619.6 579.3 620.5 577.7 621.4 576.1 622.3 574.4 623.2 572.7 624.1 570.9 624.9 569.1 625.8 567.3 626.6 565.4 627.5 563.5 628.3 561.6 629.2 559.6 630 557.6 630.8 555.6 631.6 553.5 632.4 551.4 633.2 549.3 634 547.1 634.8 544.9 635.6 542.7 636.3 540.4 637.1 538.2 637.8 535.9 638.6 533.5 639.3 531.2 640 528.8 640.7 526.4 641.4 524 642.1 521.5 642.7 519.1 643.4 516.6 644.1 514.1 644.7 511.6 645.3 509 646 506.5 646.6 503.9 647.2 501.3 647.8 498.7 648.3 496.1 648.9 493.5 649.5 490.8 650 488.2 650.5 485.5 651.1 482.8 651.6 480.2 652.1 477.5 652.5 474.8 653 472.1 653.5 469.4 653.9 466.7 654.4 463.9 654.8 461.2 655.2 458.5 655.6 455.8 656 453.1 656.4 450.4 656.8 447.6 657.1 444.9 657.5 442.2 657.8 439.5 658.2 436.8 658.5 434.1 658.8 431.4 659.1 428.7 659.3 426 659.6 423.4 659.9 420.7 660.1 418.1 660.3 415.4 660.6 412.8 660.8 410.2 661 407.6 661.2 405 661.4 402.5 661.5 399.9 661.7 397.4 661.8 394.9 662 392.4 662.1 389.9 662.2 387.5 662.3 385 662.4 382.6 662.5 380.2 662.5 377.9 662.6 375.5 662.7 373.2 662.7 370.9 662.7 368.7 662.7 366.4 662.8 364.2 662.8 362.1 662.8 359.9 662.7 357.8 662.7 355.7 662.7 353.6 662.6 351.6 662.6 349.6 662.5 347.7 662.5 345.7 662.4 343.8 662.3 342 662.2 340.2 662.1 338.4 662 336.6 661.9 334.9 661.8 333.3 661.6 331.6 661.5 330 661.4 328.5 661.2 327 661 325.5 660.9 324.1 660.7 322.7 660.5 321.3 660.4 320 660.2 318.8 660 317.6 659.8 316.4 659.6 315.3 659.4 314.2 659.2 313.2 659.1 312.2 659.1 311.2 659.1 310.2 659.1 309.4 659 308.5 659 307.7 659 306.9 659 306.2 658.9 305.6 658.9 304.9 658.9 304.3 658.9 303.8 658.8 303.3 658.8 302.8 658.8 302.4 658.8 302 658.7 301.7 658.7 301.4 658.7 301 658.6 300.8 658.5 300.5 658.4 300.2 658.2 300 658" stroke="#d1d1d1" stroke-width="15"/><path d="M613 587L612.6 588.1 612.2 589.1 611.8 590.1 611.3 591.1 610.8 592 610.2 592.9 609.6 593.8 609 594.7 608.3 595.5 607.6 596.3 606.8 597.1 606.1 597.9 605.3 598.6 604.4 599.4 603.6 600.1 602.7 600.8 601.7 601.5 600.8 602.2 599.8 602.9 598.7 603.6 597.7 604.2 596.6 604.9 595.4 605.6 594.3 606.3 593.3 607.2 592.3 608.1 591.2 609 590.1 609.9 588.9 610.8 587.7 611.7 586.4 612.6 585.1 613.5 583.7 614.4 582.3 615.2 580.9 616.1 579.4 617 577.9 617.9 576.3 618.8 574.7 619.6 573 620.5 571.3 621.4 569.6 622.2 567.8 623.1 566 623.9 564.2 624.8 562.3 625.6 560.4 626.4 558.5 627.2 556.5 628 554.5 628.8 552.4 629.6 550.3 630.4 548.2 631.2 546.1 632 543.9 632.7 541.7 633.5 539.5 634.2 537.2 635 535 635.7 532.7 636.4 530.3 637.1 528 637.8 525.6 638.5 523.2 639.2 520.8 639.9 518.3 640.5 515.8 641.2 513.4 641.8 510.9 642.4 508.3 643 505.8 643.6 503.2 644.2 500.7 644.8 498.1 645.4 495.5 646 492.9 646.5 490.2 647.1 487.6 647.6 484.9 648.1 482.3 648.6 479.6 649.1 476.9 649.6 474.3 650.1 471.6 650.5 468.9 651 466.2 651.4 463.5 651.8 460.8 652.3 458.1 652.7 455.4 653.1 452.7 653.4 450 653.8 447.2 654.2 444.5 654.5 441.8 654.9 439.1 655.2 436.5 655.5 433.8 655.8 431.1 656.1 428.4 656.4 425.8 656.6 423.1 656.9 420.5 657.1 417.8 657.4 415.2 657.6 412.6 657.8 410 658 407.4 658.2 404.8 658.4 402.3 658.5 399.8 658.7 397.2 658.8 394.7 659 392.3 659.1 389.8 659.2 387.4 659.3 384.9 659.4 382.5 659.5 380.2 659.5 377.8 659.6 375.5 659.7 373.2 659.7 370.9 659.7 368.7 659.7 366.4 659.8 364.2 659.8 362.1 659.8 359.9 659.7 357.8 659.7 355.8 659.7 353.7 659.6 351.7 659.6 349.7 659.5 347.8 659.5 345.9 659.4 344 659.3 342.1 659.2 340.3 659.1 338.6 659 336.8 658.9 335.2 658.8 333.5 658.6 331.9 658.5 330.3 658.4 328.8 658.2 327.3 658.1 325.8 657.9 324.4 657.7 323.1 657.6 321.8 657.4 320.5 657.2 319.3 657 318.1 656.8 316.9 656.6 315.8 656.5 314.8 656.3 313.8 656.2 312.8 656.3 311.8 656.5 310.9 656.6 310 656.7 309.2 656.8 308.4 656.9 307.6 657 306.9 657.1 306.2 657.2 305.6 657.3 305 657.4 304.5 657.6 304 657.7 303.5 657.8 303 657.9 302.6 658 302.2 658.1 301.9 658.2 301.5 658.3 301.1 658.4 300.7 658.3 300.4 658.2 300 658" stroke="#e0e0e0" stroke-width="9"/><path d="M613 587L612.6 588.1 612.1 589.1 611.5 590.1 611 591 610.3 591.9 609.7 592.8 609 593.6 608.3 594.4 607.6 595.2 606.8 596 606 596.7 605.1 597.4 604.3 598.1 603.4 598.7 602.5 599.4 601.5 600 600.6 600.6 599.6 601.2 598.5 601.8 597.5 602.4 596.4 603 595.2 603.6 594.1 604.1 593 604.8 592 605.7 591 606.6 590 607.4 588.9 608.3 587.7 609.2 586.5 610.1 585.3 610.9 584 611.8 582.6 612.7 581.3 613.6 579.8 614.4 578.4 615.3 576.9 616.2 575.3 617 573.7 617.9 572.1 618.7 570.4 619.6 568.7 620.4 567 621.3 565.2 622.1 563.4 622.9 561.5 623.8 559.6 624.6 557.7 625.4 555.7 626.2 553.7 627 551.7 627.8 549.6 628.6 547.5 629.3 545.4 630.1 543.3 630.8 541.1 631.6 538.9 632.3 536.6 633.1 534.4 633.8 532.1 634.5 529.7 635.2 527.4 635.9 525 636.6 522.6 637.3 520.2 637.9 517.8 638.6 515.3 639.2 512.9 639.9 510.4 640.5 507.9 641.1 505.3 641.7 502.8 642.3 500.2 642.9 497.6 643.4 495.1 644 492.4 644.6 489.8 645.1 487.2 645.6 484.6 646.1 481.9 646.6 479.3 647.1 476.6 647.6 473.9 648.1 471.2 648.6 468.6 649 465.9 649.4 463.2 649.9 460.5 650.3 457.8 650.7 455.1 651.1 452.4 651.5 449.7 651.8 447 652.2 444.3 652.5 441.6 652.9 438.9 653.2 436.2 653.5 433.5 653.8 430.9 654.1 428.2 654.4 425.6 654.6 422.9 654.9 420.3 655.1 417.6 655.4 415 655.6 412.4 655.8 409.8 656 407.3 656.2 404.7 656.4 402.2 656.5 399.6 656.7 397.1 656.8 394.6 657 392.2 657.1 389.7 657.2 387.3 657.3 384.9 657.4 382.5 657.5 380.1 657.5 377.8 657.6 375.4 657.7 373.1 657.7 370.9 657.7 368.6 657.7 366.4 657.8 364.2 657.8 362.1 657.8 360 657.7 357.9 657.7 355.8 657.7 353.8 657.6 351.8 657.6 349.8 657.5 347.8 657.5 345.9 657.4 344.1 657.3 342.3 657.2 340.5 657.1 338.7 657 337 656.9 335.3 656.8 333.7 656.6 332.1 656.5 330.5 656.4 329 656.2 327.5 656.1 326.1 655.9 324.7 655.8 323.3 655.6 322 655.4 320.8 655.2 319.6 655.1 318.4 654.9 317.3 654.7 316.2 654.5 315.2 654.3 314.2 654.3 313.2 654.5 312.2 654.7 311.3 654.9 310.4 655.1 309.6 655.3 308.8 655.5 308 655.7 307.3 655.9 306.7 656.1 306 656.3 305.4 656.5 304.9 656.7 304.4 656.9 303.9 657.1 303.4 657.3 303 657.6 302.6 657.8 302.2 658 301.8 658.1 301.3 658.3 300.9 658.3 300.4 658.2 300 658" stroke="#ececec" stroke-width="4.5"/><path d="M488.6 652.5L485.9 653 483.2 653.5 480.5 654 477.8 654.5 475.1 655 472.4 655.5 469.7 655.9 467 656.4 464.3 656.8 461.5 657.2 458.8 657.6 456.1 658 453.3 658.4 450.6 658.8 447.9 659.1 445.2 659.5 442.4 659.8 439.7 660.1 437 660.5 434.3 660.8 431.6 661.1 428.9 661.3 426.2 661.6 423.6 661.9 420.9 662.1 418.3 662.3 415.6 662.6 413 662.8 410.4 663 407.8 663.2 405.2 663.3 402.6 663.5 400.1 663.7 397.5 663.8 395 664 392.5 664.1 390 664.2" stroke="url(#g7)" stroke-width="21.0" filter="url(#bl)"/><path d="M485.7 652L483 652.5 480.3 653 477.7 653.5 475 654 472.2 654.5 469.5 654.9 466.8 655.4 464.1 655.8 461.4 656.2 458.7 656.6 455.9 657 453.2 657.4 450.5 657.8 447.8 658.1 445 658.5 442.3 658.8 439.6 659.2 436.9 659.5 434.2 659.8 431.5 660.1 428.8 660.3 426.1 660.6 423.5 660.9 420.8 661.1 418.2 661.3 415.5 661.6 412.9 661.8" stroke="url(#g8)" stroke-width="16" filter="url(#bl)"/><path d="M362 671.8L359.8 671.7 357.7 671.7 355.5 671.7 353.4 671.6 351.4 671.6 349.3 671.5 347.3 671.5 345.4 671.4 343.4 671.3 341.5 671.2 339.7 671.1 337.8 671 336 670.9 334.3 670.7 332.5 670.6 330.9 670.5 329.2 670.3 327.6 670.2 326 670 324.5 669.8 323 669.7 321.5 669.5 320.1 669.3 318.7 669.1 317.4 668.9 316.1 668.7 314.9 668.5 313.7 668.3 312.5 668 311.4 667.8 310.3 667.6 309.2 667.3 308.2 667.1 307.2 666.8 306.3 666.6 305.4 666.3 304.6 666 303.8 665.7 303 665.4 302.3 665.1 301.6 664.8 300.9 664.5 300.3 664.2 299.6 663.8 299.1 663.4 298.5 663 298 662.5 297.4 661.9 297 661.3 296.5 660.5 296.2 659.7 296 658.7 296 658" stroke="url(#g17)" stroke-width="19.0" filter="url(#bl)"/><path d="M625 587L625 588.4 624.9 590 624.7 591.6 624.5 593.2 624.2 594.8 623.9 596.4 623.4 597.9 622.9 599.5 622.4 601 621.8 602.5 621.1 604 620.4 605.4 619.6 606.8 618.7 608.2 617.9 609.6 616.9 611 615.9 612.3 614.9 613.6 613.8 614.9 612.7 616.2 611.6 617.4 610.4 618.7 609.1 619.9 607.8 621.1 606.5 622.3 605.2 623.4 603.8 624.6 602.3 625.7 600.8 626.8 599.3 627.9 597.8 629 596.2 630.1 594.6 631.2 592.9 632.2 591.2 633.3 589.5 634.3 587.7 635.3 585.9 636.3 584.1 637.3 582.2 638.3 580.3 639.2 578.4 640.2 576.4 641.1 574.4 642.1 572.4 643" stroke="url(#g35)" stroke-width="8"/><path d="M620.5 587L620.5 588.3 620.4 589.7 620.3 591.1 620.1 592.5 619.8 593.9 619.5 595.3 619.1 596.6 618.7 598 618.2 599.4 617.6 600.7 617 602 616.4 603.3 615.7 604.6 614.9 605.9 614.1 607.1 613.3 608.4 612.4 609.6 611.4 610.8 610.4 612 609.4 613.2 608.3 614.3 607.2 615.5 606 616.6 604.8 617.8 603.5 618.9 602.3 620 600.9 621.1 599.6 622.1 598.2 623.2 596.7 624.3 595.2 625.3 593.7 626.4 592.1 627.4 590.5 628.4 588.9 629.4 587.2 630.4 585.5 631.4 583.7 632.4 582 633.3 580.1 634.3" stroke="url(#g37)" stroke-width="3.5"/><path d="M298.6 508.4L298.5 508.2 298.5 508" stroke="#505050" stroke-width="33.5" stroke-linecap="round"/><path d="M298.6 508.4L298.5 508.2 298.5 508" stroke="#9a9a9a" stroke-width="31" stroke-linecap="round"/><path d="M298.6 508.4L298.5 508.2 298.5 508" stroke="#ababab" stroke-width="28" stroke-linecap="round"/><path d="M298.7 508.4L298.6 508.2 298.5 508" stroke="#b9b9b9" stroke-width="25" stroke-linecap="round"/><path d="M298.8 508.3L298.6 508.2 298.5 508" stroke="#c5c5c5" stroke-width="21" stroke-linecap="round"/><path d="M299 508.3L298.7 508.2 298.5 508" stroke="#d1d1d1" stroke-width="15" stroke-linecap="round"/><path d="M299.2 508.2L298.9 508.1 298.5 508" stroke="#e0e0e0" stroke-width="9" stroke-linecap="round"/><path d="M299.4 508.1L298.9 508.1 298.5 508" stroke="#ececec" stroke-width="4.5" stroke-linecap="round"/><path d="M613.5 437L613.5 438 613.4 439 613.3 440.1 613.1 441.1 612.9 442.1 612.7 443.1 612.4 444.1 612 445.2 611.6 446.2 611.2 447.2 610.7 448.2 610.1 449.2 609.5 450.2 608.9 451.2 608.2 452.2 607.5 453.2 606.7 454.2 605.9 455.2 605 456.2 604.1 457.1 603.1 458.1 602.1 459.1 601.1 460.1 600 461 598.8 462 597.7 462.9 596.4 463.9 595.2 464.8 593.9 465.8 592.5 466.7 591.1 467.6 589.7 468.6 588.2 469.5 586.7 470.4 585.1 471.3 583.5 472.2 581.9 473.1 580.2 474 578.5 474.9 576.8 475.7 575 476.6 573.2 477.5 571.3 478.3 569.4 479.2 567.5 480 565.5 480.8 563.5 481.6 561.5 482.4 559.4 483.3 557.3 484 555.2 484.8 553.1 485.6 550.9 486.4 548.7 487.1 546.4 487.9 544.2 488.6 541.9 489.4 539.5 490.1 537.2 490.8 534.8 491.5 532.4 492.2 530 492.9 527.6 493.6 525.1 494.3 522.6 494.9 520.1 495.6 517.6 496.2 515.1 496.8 512.5 497.5 509.9 498.1 507.3 498.7 504.7 499.3 502.1 499.8 499.5 500.4 496.8 501 494.1 501.5 491.5 502 488.8 502.6 486.1 503.1 483.4 503.6 480.7 504.1 477.9 504.6 475.2 505 472.5 505.5 469.7 505.9 467 506.4 464.3 506.8 461.5 507.2 458.8 507.6 456 508 453.2 508.4 450.5 508.8 447.7 509.2 445 509.5 442.3 509.9 439.5 510.2 436.8 510.5 434.1 510.8 431.3 511.1 428.6 511.4 425.9 511.7 423.2 512 420.5 512.2 417.9 512.5 415.2 512.7 412.5 512.9 409.9 513.1 407.3 513.3 404.7 513.5 402.1 513.7 399.5 513.9 396.9 514.1 394.4 514.2 391.9 514.4 389.4 514.5 386.9 514.6 384.4 514.7 382 514.8 379.6 514.9 377.2 515 374.8 515.1 372.5 515.2 370.1 515.2 367.8 515.3 365.6 515.3 363.3 515.4 361.1 515.4 358.9 515.4 356.8 515.4 354.7 515.4 352.6 515.4 350.5 515.4 348.5 515.3 346.5 515.3 344.5 515.3 342.6 515.2 340.7 515.2 338.8 515.1 337 515 335.2 514.9 333.5 514.9 331.8 514.8 330.1 514.7 328.5 514.6 326.9 514.5 325.3 514.3 323.8 514.2 322.3 514.1 320.9 513.9 319.5 513.8 318.1 513.7 316.8 513.5 315.6 513.4 314.3 513.2 313.2 513 312 512.9 310.9 512.7 309.9 512.5 308.9 512.3 307.9 512.2 307 512 306.1 511.8 305.3 511.6 304.5 511.4 303.8 511.2 303.1 511 302.5 510.8 301.9 510.6 301.3 510.4 300.8 510.2 300.4 509.9 300 509.7 299.6 509.5 299.3 509.3 299.1 509.1 298.9 508.9 298.7 508.7 298.6 508.4 298.5 508.2 298.5 508" stroke="#505050" stroke-width="33.5"/><path d="M613.5 437L613.5 438 613.4 439 613.3 440.1 613.1 441.1 612.9 442.1 612.7 443.1 612.4 444.1 612 445.2 611.6 446.2 611.2 447.2 610.7 448.2 610.1 449.2 609.5 450.2 608.9 451.2 608.2 452.2 607.5 453.2 606.7 454.2 605.9 455.2 605 456.2 604.1 457.1 603.1 458.1 602.1 459.1 601.1 460.1 600 461 598.8 462 597.7 462.9 596.4 463.9 595.2 464.8 593.9 465.8 592.5 466.7 591.1 467.6 589.7 468.6 588.2 469.5 586.7 470.4 585.1 471.3 583.5 472.2 581.9 473.1 580.2 474 578.5 474.9 576.8 475.7 575 476.6 573.2 477.5 571.3 478.3 569.4 479.2 567.5 480 565.5 480.8 563.5 481.6 561.5 482.4 559.4 483.3 557.3 484 555.2 484.8 553.1 485.6 550.9 486.4 548.7 487.1 546.4 487.9 544.2 488.6 541.9 489.4 539.5 490.1 537.2 490.8 534.8 491.5 532.4 492.2 530 492.9 527.6 493.6 525.1 494.3 522.6 494.9 520.1 495.6 517.6 496.2 515.1 496.8 512.5 497.5 509.9 498.1 507.3 498.7 504.7 499.3 502.1 499.8 499.5 500.4 496.8 501 494.1 501.5 491.5 502 488.8 502.6 486.1 503.1 483.4 503.6 480.7 504.1 477.9 504.6 475.2 505 472.5 505.5 469.7 505.9 467 506.4 464.3 506.8 461.5 507.2 458.8 507.6 456 508 453.2 508.4 450.5 508.8 447.7 509.2 445 509.5 442.3 509.9 439.5 510.2 436.8 510.5 434.1 510.8 431.3 511.1 428.6 511.4 425.9 511.7 423.2 512 420.5 512.2 417.9 512.5 415.2 512.7 412.5 512.9 409.9 513.1 407.3 513.3 404.7 513.5 402.1 513.7 399.5 513.9 396.9 514.1 394.4 514.2 391.9 514.4 389.4 514.5 386.9 514.6 384.4 514.7 382 514.8 379.6 514.9 377.2 515 374.8 515.1 372.5 515.2 370.1 515.2 367.8 515.3 365.6 515.3 363.3 515.4 361.1 515.4 358.9 515.4 356.8 515.4 354.7 515.4 352.6 515.4 350.5 515.4 348.5 515.3 346.5 515.3 344.5 515.3 342.6 515.2 340.7 515.2 338.8 515.1 337 515 335.2 514.9 333.5 514.9 331.8 514.8 330.1 514.7 328.5 514.6 326.9 514.5 325.3 514.3 323.8 514.2 322.3 514.1 320.9 513.9 319.5 513.8 318.1 513.7 316.8 513.5 315.6 513.4 314.3 513.2 313.2 513 312 512.9 310.9 512.7 309.9 512.5 308.9 512.3 307.9 512.2 307 512 306.1 511.8 305.3 511.6 304.5 511.4 303.8 511.2 303.1 511 302.5 510.8 301.9 510.6 301.3 510.4 300.8 510.2 300.4 509.9 300 509.7 299.6 509.5 299.3 509.3 299.1 509.1 298.9 508.9 298.7 508.7 298.6 508.4 298.5 508.2 298.5 508" stroke="#9a9a9a" stroke-width="31"/><path d="M613.5 437L613.5 438 613.4 439 613.2 440.1 613.1 441.1 612.8 442.1 612.5 443.1 612.2 444.1 611.8 445.1 611.4 446.1 611 447.1 610.4 448.1 609.9 449.1 609.3 450.1 608.6 451 607.9 452 607.2 453 606.4 454 605.6 454.9 604.7 455.9 603.8 456.8 602.8 457.8 601.8 458.8 600.7 459.7 599.6 460.7 598.5 461.6 597.3 462.6 596.1 463.5 594.9 464.4 593.6 465.4 592.2 466.3 590.8 467.2 589.4 468.1 587.9 469.1 586.4 470 584.9 470.9 583.3 471.8 581.7 472.7 580 473.5 578.3 474.4 576.5 475.3 574.8 476.1 572.9 477 571.1 477.9 569.2 478.7 567.3 479.5 565.3 480.4 563.3 481.2 561.3 482 559.2 482.8 557.2 483.6 555 484.4 552.9 485.1 550.7 485.9 548.5 486.7 546.3 487.4 544 488.2 541.7 488.9 539.4 489.6 537.1 490.3 534.7 491 532.3 491.7 529.9 492.4 527.4 493.1 525 493.8 522.5 494.4 520 495.1 517.5 495.7 514.9 496.3 512.4 497 509.8 497.6 507.2 498.2 504.6 498.8 502 499.3 499.4 499.9 496.7 500.5 494 501 491.4 501.5 488.7 502.1 486 502.6 483.3 503.1 480.6 503.6 477.9 504.1 475.1 504.5 472.4 505 469.7 505.5 466.9 505.9 464.2 506.3 461.4 506.7 458.7 507.1 455.9 507.5 453.2 507.9 450.4 508.3 447.7 508.7 444.9 509 442.2 509.4 439.5 509.7 436.7 510 434 510.3 431.3 510.6 428.6 510.9 425.9 511.2 423.2 511.5 420.5 511.7 417.8 512 415.1 512.2 412.5 512.4 409.9 512.6 407.2 512.8 404.6 513 402 513.2 399.5 513.4 396.9 513.6 394.4 513.7 391.8 513.9 389.3 514 386.9 514.1 384.4 514.2 382 514.3 379.5 514.4 377.1 514.5 374.8 514.6 372.4 514.7 370.1 514.7 367.8 514.8 365.6 514.8 363.3 514.9 361.1 514.9 358.9 514.9 356.8 514.9 354.7 514.9 352.6 514.9 350.5 514.9 348.5 514.8 346.5 514.8 344.5 514.8 342.6 514.7 340.7 514.7 338.9 514.6 337 514.5 335.3 514.4 333.5 514.4 331.8 514.3 330.1 514.2 328.5 514.1 326.9 514 325.4 513.8 323.8 513.7 322.4 513.6 320.9 513.5 319.6 513.3 318.2 513.2 316.9 513 315.6 512.9 314.4 512.7 313.2 512.5 312.1 512.4 311 512.2 310 512.1 309 511.9 308 511.7 307.1 511.6 306.2 511.4 305.4 511.2 304.6 511.1 303.9 510.9 303.2 510.7 302.6 510.5 302 510.3 301.4 510.1 300.9 510 300.5 509.8 300.1 509.6 299.7 509.4 299.4 509.2 299.1 509 298.9 508.8 298.8 508.6 298.6 508.4 298.5 508.2 298.5 508" stroke="#ababab" stroke-width="28"/><path d="M613.5 437L613.4 438 613.3 439 613.1 440 612.9 441 612.6 442 612.3 443 611.9 444 611.5 445 611.1 445.9 610.6 446.9 610 447.9 609.4 448.8 608.8 449.8 608.1 450.7 607.4 451.6 606.6 452.6 605.8 453.5 605 454.4 604.1 455.3 603.2 456.3 602.2 457.2 601.2 458.1 600.1 459 599 459.9 597.9 460.8 596.7 461.8 595.5 462.7 594.3 463.6 593 464.6 591.7 465.5 590.3 466.4 588.9 467.3 587.4 468.2 585.9 469.1 584.4 470 582.8 470.9 581.2 471.8 579.5 472.7 577.8 473.5 576.1 474.4 574.3 475.2 572.5 476.1 570.7 476.9 568.8 477.8 566.9 478.6 564.9 479.4 563 480.2 560.9 481.1 558.9 481.9 556.8 482.6 554.7 483.4 552.6 484.2 550.4 485 548.2 485.7 546 486.5 543.7 487.2 541.4 487.9 539.1 488.7 536.8 489.4 534.4 490.1 532 490.8 529.6 491.5 527.2 492.1 524.7 492.8 522.3 493.5 519.8 494.1 517.2 494.8 514.7 495.4 512.2 496 509.6 496.6 507 497.2 504.4 497.8 501.8 498.4 499.1 498.9 496.5 499.5 493.8 500 491.2 500.6 488.5 501.1 485.8 501.6 483.1 502.1 480.4 502.6 477.7 503.1 475 503.6 472.2 504 469.5 504.5 466.8 504.9 464 505.3 461.3 505.8 458.5 506.2 455.8 506.6 453 506.9 450.3 507.3 447.6 507.7 444.8 508 442.1 508.4 439.3 508.7 436.6 509 433.9 509.3 431.2 509.6 428.5 509.9 425.8 510.2 423.1 510.5 420.4 510.7 417.7 511 415.1 511.2 412.4 511.4 409.8 511.6 407.2 511.9 404.6 512 402 512.2 399.4 512.4 396.8 512.6 394.3 512.7 391.8 512.9 389.3 513 386.8 513.1 384.4 513.2 381.9 513.3 379.5 513.4 377.1 513.5 374.8 513.6 372.4 513.7 370.1 513.7 367.8 513.8 365.5 513.8 363.3 513.9 361.1 513.9 358.9 513.9 356.8 513.9 354.7 513.9 352.6 513.9 350.5 513.9 348.5 513.8 346.5 513.8 344.6 513.8 342.6 513.7 340.8 513.7 338.9 513.6 337.1 513.5 335.3 513.4 333.6 513.4 331.9 513.3 330.2 513.2 328.6 513.1 327 513 325.4 512.8 323.9 512.7 322.5 512.6 321 512.5 319.7 512.3 318.3 512.2 317 512 315.8 511.9 314.5 511.7 313.4 511.6 312.3 511.4 311.2 511.2 310.1 511.1 309.1 511 308.2 510.9 307.3 510.8 306.4 510.6 305.6 510.5 304.8 510.4 304.1 510.3 303.4 510.1 302.7 510 302.2 509.8 301.6 509.7 301.1 509.6 300.7 509.4 300.2 509.3 299.9 509.1 299.6 509 299.3 508.8 299.1 508.7 298.9 508.5 298.7 508.4 298.6 508.2 298.5 508" stroke="#b9b9b9" stroke-width="25"/><path d="M613.5 437L613.4 438 613.2 439 612.9 440 612.6 441 612.3 442 611.9 442.9 611.5 443.9 611 444.8 610.5 445.7 610 446.6 609.4 447.5 608.8 448.4 608.1 449.3 607.4 450.2 606.6 451.1 605.8 451.9 605 452.8 604.1 453.7 603.2 454.5 602.2 455.4 601.2 456.2 600.2 457.1 599.1 457.9 598 458.8 596.9 459.7 595.8 460.6 594.6 461.5 593.4 462.4 592.1 463.3 590.8 464.2 589.5 465.1 588.1 466 586.6 466.9 585.1 467.8 583.6 468.7 582.1 469.6 580.5 470.5 578.8 471.3 577.2 472.2 575.4 473 573.7 473.9 571.9 474.7 570.1 475.6 568.2 476.4 566.3 477.2 564.4 478 562.4 478.9 560.4 479.7 558.4 480.5 556.3 481.2 554.2 482 552.1 482.8 549.9 483.6 547.7 484.3 545.5 485.1 543.2 485.8 541 486.5 538.7 487.2 536.3 487.9 534 488.6 531.6 489.3 529.2 490 526.8 490.7 524.3 491.4 521.9 492 519.4 492.7 516.9 493.3 514.4 493.9 511.8 494.5 509.2 495.1 506.7 495.7 504.1 496.3 501.5 496.9 498.8 497.5 496.2 498 493.5 498.6 490.9 499.1 488.2 499.6 485.5 500.1 482.8 500.6 480.1 501.1 477.4 501.6 474.7 502.1 472 502.5 469.3 503 466.5 503.4 463.8 503.9 461.1 504.3 458.3 504.7 455.6 505.1 452.8 505.5 450.1 505.8 447.4 506.2 444.6 506.5 441.9 506.9 439.2 507.2 436.4 507.5 433.7 507.8 431 508.1 428.3 508.4 425.6 508.7 422.9 509 420.2 509.2 417.6 509.5 414.9 509.7 412.3 509.9 409.7 510.2 407 510.4 404.4 510.5 401.9 510.7 399.3 510.9 396.7 511.1 394.2 511.2 391.7 511.4 389.2 511.5 386.7 511.6 384.3 511.7 381.9 511.8 379.4 511.9 377.1 512 374.7 512.1 372.4 512.2 370.1 512.2 367.8 512.3 365.5 512.3 363.3 512.4 361.1 512.4 358.9 512.4 356.8 512.4 354.7 512.4 352.6 512.4 350.5 512.4 348.5 512.3 346.5 512.3 344.6 512.3 342.7 512.2 340.8 512.2 339 512.1 337.2 512 335.4 511.9 333.6 511.9 332 511.8 330.3 511.7 328.7 511.6 327.1 511.5 325.6 511.3 324.1 511.2 322.6 511.1 321.2 511 319.8 510.8 318.5 510.7 317.2 510.5 315.9 510.4 314.7 510.2 313.6 510.1 312.5 509.9 311.4 509.8 310.4 509.8 309.4 509.7 308.4 509.6 307.5 509.6 306.6 509.5 305.8 509.5 305.1 509.4 304.3 509.3 303.6 509.2 303 509.2 302.4 509.1 301.9 509 301.4 509 300.9 508.9 300.5 508.8 300.1 508.7 299.8 508.7 299.5 508.6 299.3 508.5 299 508.4 298.8 508.3 298.6 508.2 298.5 508" stroke="#c5c5c5" stroke-width="21"/><path d="M613.5 437L613.3 438 613 439 612.7 440 612.3 440.9 611.9 441.9 611.4 442.8 610.9 443.7 610.4 444.5 609.8 445.4 609.2 446.3 608.5 447.1 607.9 447.9 607.1 448.7 606.4 449.5 605.6 450.3 604.7 451.1 603.8 451.9 602.9 452.7 602 453.4 601 454.2 600 454.9 598.9 455.7 597.8 456.4 596.7 457.2 595.7 458.1 594.5 459 593.4 459.9 592.2 460.8 591 461.7 589.7 462.6 588.4 463.5 587 464.3 585.6 465.2 584.1 466.1 582.6 467 581.1 467.8 579.5 468.7 577.9 469.5 576.2 470.4 574.6 471.2 572.8 472.1 571 472.9 569.2 473.8 567.4 474.6 565.5 475.4 563.6 476.2 561.6 477 559.7 477.8 557.6 478.6 555.6 479.4 553.5 480.1 551.4 480.9 549.2 481.7 547.1 482.4 544.9 483.2 542.6 483.9 540.4 484.6 538.1 485.3 535.8 486 533.4 486.7 531.1 487.4 528.7 488.1 526.3 488.8 523.8 489.4 521.4 490.1 518.9 490.7 516.4 491.4 513.9 492 511.3 492.6 508.8 493.2 506.2 493.8 503.6 494.4 501 494.9 498.4 495.5 495.8 496.1 493.2 496.6 490.5 497.1 487.8 497.7 485.2 498.2 482.5 498.7 479.8 499.2 477.1 499.6 474.4 500.1 471.7 500.6 468.9 501 466.2 501.4 463.5 501.9 460.8 502.3 458 502.7 455.3 503.1 452.6 503.5 449.8 503.8 447.1 504.2 444.4 504.6 441.6 504.9 438.9 505.2 436.2 505.5 433.5 505.9 430.8 506.2 428.1 506.4 425.4 506.7 422.7 507 420.1 507.2 417.4 507.5 414.8 507.7 412.1 507.9 409.5 508.2 406.9 508.4 404.3 508.6 401.7 508.7 399.2 508.9 396.6 509.1 394.1 509.2 391.6 509.4 389.1 509.5 386.6 509.6 384.2 509.7 381.8 509.8 379.4 509.9 377 510 374.6 510.1 372.3 510.2 370 510.2 367.7 510.3 365.5 510.3 363.3 510.4 361.1 510.4 358.9 510.4 356.8 510.4 354.7 510.4 352.6 510.4 350.6 510.4 348.6 510.3 346.6 510.3 344.6 510.3 342.7 510.2 340.9 510.2 339 510.1 337.2 510 335.5 509.9 333.7 509.9 332.1 509.8 330.4 509.7 328.8 509.6 327.2 509.5 325.7 509.4 324.2 509.2 322.8 509.1 321.4 509 320 508.8 318.7 508.7 317.4 508.5 316.2 508.4 315 508.2 313.9 508.1 312.8 507.9 311.7 507.9 310.7 507.9 309.7 507.9 308.7 508 307.8 508 307 508 306.2 508 305.4 508.1 304.7 508.1 304 508.1 303.4 508.1 302.8 508.1 302.2 508.2 301.7 508.2 301.3 508.2 300.8 508.2 300.5 508.2 300.1 508.3 299.8 508.3 299.5 508.3 299.3 508.3 299 508.3 298.7 508.2 298.5 508" stroke="#d1d1d1" stroke-width="15"/><path d="M613.5 437L613.1 438 612.7 439 612.3 439.9 611.8 440.8 611.2 441.7 610.7 442.6 610 443.4 609.4 444.2 608.7 445 608 445.7 607.3 446.4 606.5 447.2 605.7 447.8 604.8 448.5 604 449.2 603.1 449.9 602.1 450.5 601.2 451.2 600.2 451.8 599.1 452.4 598.1 453 597 453.7 595.8 454.3 594.7 455 593.7 455.8 592.7 456.7 591.6 457.5 590.4 458.4 589.2 459.2 588 460.1 586.7 461 585.4 461.8 584 462.7 582.6 463.5 581.1 464.4 579.6 465.2 578.1 466.1 576.5 466.9 574.9 467.7 573.2 468.6 571.5 469.4 569.8 470.2 568 471 566.2 471.8 564.3 472.6 562.4 473.4 560.5 474.2 558.5 475 556.6 475.8 554.5 476.6 552.5 477.3 550.4 478.1 548.2 478.8 546.1 479.6 543.9 480.3 541.7 481 539.5 481.7 537.2 482.5 534.9 483.2 532.6 483.9 530.2 484.5 527.9 485.2 525.5 485.9 523 486.5 520.6 487.2 518.1 487.8 515.7 488.4 513.2 489.1 510.6 489.7 508.1 490.3 505.6 490.9 503 491.4 500.4 492 497.8 492.6 495.2 493.1 492.6 493.7 489.9 494.2 487.3 494.7 484.6 495.2 481.9 495.7 479.3 496.2 476.6 496.7 473.9 497.1 471.2 497.6 468.5 498.1 465.7 498.5 463 498.9 460.3 499.3 457.6 499.7 454.9 500.1 452.2 500.5 449.4 500.9 446.7 501.2 444 501.6 441.3 501.9 438.6 502.2 435.9 502.6 433.2 502.9 430.5 503.2 427.8 503.5 425.1 503.7 422.4 504 419.8 504.3 417.1 504.5 414.5 504.7 411.9 505 409.3 505.2 406.7 505.4 404.1 505.6 401.5 505.7 399 505.9 396.4 506.1 393.9 506.2 391.4 506.4 388.9 506.5 386.5 506.6 384.1 506.7 381.6 506.8 379.3 506.9 376.9 507 374.6 507.1 372.2 507.2 369.9 507.2 367.7 507.3 365.4 507.3 363.2 507.4 361 507.4 358.9 507.4 356.8 507.4 354.7 507.4 352.6 507.4 350.6 507.4 348.6 507.3 346.6 507.3 344.7 507.3 342.8 507.2 341 507.2 339.1 507.1 337.4 507 335.6 507 333.9 506.9 332.2 506.8 330.6 506.7 329 506.6 327.5 506.5 325.9 506.4 324.5 506.2 323 506.1 321.7 506 320.3 505.9 319 505.7 317.8 505.6 316.6 505.4 315.4 505.3 314.3 505.1 313.2 505 312.2 505 311.2 505.1 310.2 505.3 309.2 505.4 308.4 505.6 307.5 505.7 306.7 505.9 305.9 506.1 305.2 506.2 304.5 506.4 303.9 506.5 303.3 506.7 302.8 506.8 302.3 507 301.8 507.1 301.4 507.3 301 507.5 300.6 507.6 300.3 507.8 299.9 508 299.6 508.1 299.2 508.2 298.9 508.1 298.5 508" stroke="#e0e0e0" stroke-width="9"/><path d="M613.5 437L613 438 612.5 439 612 439.9 611.4 440.8 610.8 441.6 610.1 442.4 609.5 443.2 608.7 443.9 608 444.7 607.2 445.3 606.4 446 605.6 446.6 604.7 447.3 603.8 447.9 602.9 448.5 602 449 601 449.6 600 450.1 599 450.7 597.9 451.2 596.8 451.8 595.7 452.3 594.5 452.8 593.4 453.5 592.5 454.3 591.4 455.1 590.4 455.9 589.3 456.8 588.1 457.6 586.9 458.4 585.6 459.3 584.3 460.1 583 461 581.6 461.8 580.2 462.6 578.7 463.5 577.2 464.3 575.6 465.1 574 465.9 572.3 466.8 570.7 467.6 568.9 468.4 567.2 469.2 565.4 470 563.5 470.8 561.7 471.6 559.8 472.4 557.8 473.1 555.8 473.9 553.8 474.7 551.8 475.4 549.7 476.2 547.6 476.9 545.4 477.7 543.3 478.4 541.1 479.1 538.9 479.8 536.6 480.5 534.3 481.2 532 481.9 529.7 482.6 527.3 483.3 524.9 483.9 522.5 484.6 520.1 485.2 517.6 485.9 515.2 486.5 512.7 487.1 510.2 487.7 507.7 488.3 505.1 488.9 502.5 489.5 500 490.1 497.4 490.6 494.8 491.2 492.2 491.7 489.5 492.2 486.9 492.7 484.2 493.3 481.6 493.7 478.9 494.2 476.2 494.7 473.5 495.2 470.8 495.6 468.1 496.1 465.4 496.5 462.7 496.9 460 497.3 457.3 497.7 454.6 498.1 451.9 498.5 449.2 498.9 446.5 499.2 443.7 499.6 441 499.9 438.3 500.3 435.6 500.6 432.9 500.9 430.3 501.2 427.6 501.5 424.9 501.7 422.2 502 419.6 502.3 417 502.5 414.3 502.7 411.7 503 409.1 503.2 406.5 503.4 403.9 503.6 401.4 503.7 398.8 503.9 396.3 504.1 393.8 504.2 391.3 504.4 388.8 504.5 386.4 504.6 384 504.7 381.6 504.9 379.2 504.9 376.8 505 374.5 505.1 372.2 505.2 369.9 505.2 367.6 505.3 365.4 505.3 363.2 505.4 361 505.4 358.9 505.4 356.8 505.4 354.7 505.4 352.6 505.4 350.6 505.4 348.6 505.3 346.7 505.3 344.8 505.3 342.9 505.2 341 505.2 339.2 505.1 337.4 505 335.7 505 334 504.9 332.3 504.8 330.7 504.7 329.1 504.6 327.6 504.5 326.1 504.4 324.6 504.2 323.2 504.1 321.9 504 320.5 503.9 319.2 503.7 318 503.6 316.8 503.4 315.7 503.3 314.6 503.1 313.5 503 312.5 503.1 311.5 503.3 310.5 503.5 309.6 503.8 308.7 504 307.8 504.2 307 504.5 306.3 504.7 305.6 505 304.9 505.2 304.3 505.4 303.7 505.7 303.1 505.9 302.6 506.2 302.1 506.4 301.7 506.7 301.3 507 300.9 507.2 300.5 507.5 300.2 507.7 299.8 507.9 299.4 508.1 298.9 508.1 298.5 508" stroke="#ececec" stroke-width="4.5"/><path d="M485.5 500.1L482.8 500.6 480.1 501.1 477.4 501.6 474.7 502.1 472 502.5 469.3 503 466.5 503.4 463.8 503.9 461.1 504.3 458.3 504.7 455.6 505.1 452.8 505.5 450.1 505.8 447.4 506.2 444.6 506.5 441.9 506.9 439.2 507.2 436.4 507.5 433.7 507.8 431 508.1 428.3 508.4 425.6 508.7 422.9 509 420.2 509.2 417.6 509.5 414.9 509.7 412.3 509.9 409.7 510.2 407 510.4 404.4 510.5 401.9 510.7 399.3 510.9 396.7 511.1 394.2 511.2 391.7 511.4" stroke="url(#g5)" stroke-width="21.0" filter="url(#bl)"/><path d="M482.7 499.7L480 500.1 477.3 500.6 474.5 501.1 471.8 501.5 469.1 502 466.4 502.4 463.6 502.9 460.9 503.3 458.2 503.7 455.4 504.1 452.7 504.5 450 504.8 447.2 505.2 444.5 505.6 441.8 505.9 439 506.2 436.3 506.5 433.6 506.8 430.9 507.1 428.2 507.4 425.5 507.7 422.8 508 420.2 508.2 417.5 508.5 414.8 508.7" stroke="url(#g6)" stroke-width="15" filter="url(#bl)"/><path d="M361.2 519.4L359 519.4 356.8 519.4 354.7 519.4 352.5 519.4 350.5 519.4 348.4 519.3 346.4 519.3 344.4 519.3 342.5 519.2 340.6 519.2 338.7 519.1 336.9 519 335.1 518.9 333.3 518.9 331.6 518.8 329.9 518.7 328.2 518.6 326.6 518.4 325 518.3 323.5 518.2 322 518.1 320.5 517.9 319.1 517.8 317.7 517.6 316.4 517.5 315.1 517.3 313.8 517.2 312.6 517 311.4 516.8 310.3 516.6 309.2 516.5 308.1 516.3 307.1 516.1 306.2 515.9 305.2 515.7 304.4 515.5 303.5 515.3 302.7 515 301.9 514.8 301.2 514.6 300.5 514.3 299.8 514.1 299.2 513.8 298.6 513.5 298 513.2 297.5 512.9 296.9 512.5 296.4 512 295.8 511.5 295.3 510.8 294.9 510 294.6 509 294.5 508" stroke="url(#g16)" stroke-width="19.0" filter="url(#bl)"/><path d="M625.5 437L625.5 438.5 625.4 440.1 625.2 441.7 624.9 443.2 624.6 444.8 624.2 446.3 623.8 447.9 623.3 449.3 622.7 450.8 622 452.3 621.3 453.7 620.6 455.1 619.8 456.5 618.9 457.8 618 459.1 617 460.5 616 461.7 615 463 613.9 464.2 612.8 465.4 611.6 466.6 610.4 467.8 609.1 469 607.8 470.1 606.5 471.2 605.1 472.4 603.7 473.4 602.2 474.5 600.8 475.6 599.2 476.6 597.7 477.7 596.1 478.7 594.5 479.7 592.8 480.7 591.1 481.7 589.3 482.7 587.6 483.7 585.8 484.6 583.9 485.6 582.1 486.5 580.1 487.4 578.2 488.3 576.2 489.2 574.2 490.1 572.2 491" stroke="url(#g31)" stroke-width="8"/><path d="M621 437L621 438.3 620.9 439.7 620.7 441.1 620.5 442.4 620.2 443.8 619.9 445.1 619.5 446.5 619 447.8 618.5 449.1 617.9 450.4 617.3 451.6 616.6 452.9 615.9 454.1 615.1 455.3 614.3 456.5 613.4 457.7 612.5 458.9 611.6 460.1 610.6 461.2 609.5 462.3 608.4 463.4 607.3 464.5 606.1 465.6 604.9 466.7 603.6 467.8 602.3 468.8 601 469.9 599.6 470.9 598.2 471.9 596.7 472.9 595.2 473.9 593.7 474.9 592.1 475.9 590.5 476.9 588.8 477.8 587.2 478.8 585.4 479.7 583.7 480.6 581.9 481.6 580.1 482.5" stroke="url(#g33)" stroke-width="3.5"/><path d="M297.6 360.3L297.5 360.2 297.5 360" stroke="#505050" stroke-width="33.5" stroke-linecap="round"/><path d="M297.6 360.3L297.5 360.2 297.5 360" stroke="#9a9a9a" stroke-width="31" stroke-linecap="round"/><path d="M297.6 360.3L297.5 360.2 297.5 360" stroke="#ababab" stroke-width="28" stroke-linecap="round"/><path d="M297.7 360.3L297.6 360.2 297.5 360" stroke="#b9b9b9" stroke-width="25" stroke-linecap="round"/><path d="M297.8 360.2L297.7 360.1 297.5 360" stroke="#c5c5c5" stroke-width="21" stroke-linecap="round"/><path d="M298 360.1L297.7 360.1 297.5 360" stroke="#d1d1d1" stroke-width="15" stroke-linecap="round"/><path d="M298.2 360L297.9 360.1 297.5 360" stroke="#e0e0e0" stroke-width="9" stroke-linecap="round"/><path d="M298.4 359.9L297.9 360.1 297.5 360" stroke="#ececec" stroke-width="4.5" stroke-linecap="round"/><path d="M613.5 288L613.5 288.9 613.4 289.8 613.3 290.8 613.1 291.7 612.9 292.6 612.6 293.5 612.3 294.5 612 295.4 611.6 296.3 611.1 297.2 610.6 298.2 610 299.1 609.5 300 608.8 300.9 608.1 301.8 607.4 302.8 606.6 303.7 605.8 304.6 604.9 305.5 604 306.4 603 307.3 602 308.2 600.9 309.1 599.8 310 598.7 310.9 597.5 311.8 596.3 312.7 595 313.6 593.7 314.5 592.3 315.3 590.9 316.2 589.5 317.1 588 317.9 586.5 318.8 584.9 319.6 583.3 320.5 581.7 321.3 580 322.2 578.3 323 576.5 323.8 574.7 324.7 572.9 325.5 571.1 326.3 569.2 327.1 567.2 327.9 565.3 328.7 563.3 329.5 561.2 330.3 559.2 331 557.1 331.8 554.9 332.6 552.8 333.3 550.6 334.1 548.4 334.8 546.1 335.5 543.9 336.2 541.6 337 539.2 337.7 536.9 338.4 534.5 339.1 532.1 339.7 529.7 340.4 527.2 341.1 524.8 341.8 522.3 342.4 519.8 343 517.2 343.7 514.7 344.3 512.1 344.9 509.5 345.5 506.9 346.1 504.3 346.7 501.7 347.3 499.1 347.9 496.4 348.4 493.7 349 491 349.5 488.4 350.1 485.6 350.6 482.9 351.1 480.2 351.6 477.5 352.1 474.8 352.6 472 353.1 469.3 353.5 466.5 354 463.8 354.4 461 354.9 458.3 355.3 455.5 355.7 452.7 356.1 450 356.5 447.2 356.9 444.5 357.3 441.7 357.7 439 358 436.2 358.4 433.5 358.7 430.8 359.1 428.1 359.4 425.4 359.7 422.6 360 420 360.3 417.3 360.6 414.6 360.9 411.9 361.1 409.3 361.4 406.7 361.6 404.1 361.9 401.5 362.1 398.9 362.3 396.3 362.5 393.8 362.7 391.2 362.9 388.7 363.1 386.2 363.2 383.8 363.4 381.3 363.6 378.9 363.7 376.5 363.8 374.1 364 371.8 364.1 369.4 364.2 367.1 364.3 364.9 364.4 362.6 364.5 360.4 364.5 358.2 364.6 356.1 364.7 353.9 364.7 351.8 364.8 349.8 364.8 347.7 364.8 345.7 364.9 343.8 364.9 341.8 364.9 339.9 364.9 338.1 364.9 336.3 364.9 334.5 364.8 332.7 364.8 331 364.8 329.3 364.7 327.7 364.7 326.1 364.6 324.5 364.6 323 364.5 321.5 364.4 320.1 364.3 318.7 364.3 317.3 364.2 316 364.1 314.7 364 313.5 363.9 312.3 363.8 311.2 363.7 310.1 363.5 309 363.4 308 363.3 307 363.2 306.1 363 305.2 362.9 304.4 362.8 303.6 362.6 302.9 362.5 302.2 362.3 301.5 362.2 301 362 300.4 361.9 299.9 361.7 299.4 361.5 299 361.4 298.7 361.2 298.4 361 298.1 360.9 297.9 360.7 297.7 360.5 297.6 360.3 297.5 360.2 297.5 360" stroke="#505050" stroke-width="33.5"/><path d="M613.5 288L613.5 288.9 613.4 289.8 613.3 290.8 613.1 291.7 612.9 292.6 612.6 293.5 612.3 294.5 612 295.4 611.6 296.3 611.1 297.2 610.6 298.2 610 299.1 609.5 300 608.8 300.9 608.1 301.8 607.4 302.8 606.6 303.7 605.8 304.6 604.9 305.5 604 306.4 603 307.3 602 308.2 600.9 309.1 599.8 310 598.7 310.9 597.5 311.8 596.3 312.7 595 313.6 593.7 314.5 592.3 315.3 590.9 316.2 589.5 317.1 588 317.9 586.5 318.8 584.9 319.6 583.3 320.5 581.7 321.3 580 322.2 578.3 323 576.5 323.8 574.7 324.7 572.9 325.5 571.1 326.3 569.2 327.1 567.2 327.9 565.3 328.7 563.3 329.5 561.2 330.3 559.2 331 557.1 331.8 554.9 332.6 552.8 333.3 550.6 334.1 548.4 334.8 546.1 335.5 543.9 336.2 541.6 337 539.2 337.7 536.9 338.4 534.5 339.1 532.1 339.7 529.7 340.4 527.2 341.1 524.8 341.8 522.3 342.4 519.8 343 517.2 343.7 514.7 344.3 512.1 344.9 509.5 345.5 506.9 346.1 504.3 346.7 501.7 347.3 499.1 347.9 496.4 348.4 493.7 349 491 349.5 488.4 350.1 485.6 350.6 482.9 351.1 480.2 351.6 477.5 352.1 474.8 352.6 472 353.1 469.3 353.5 466.5 354 463.8 354.4 461 354.9 458.3 355.3 455.5 355.7 452.7 356.1 450 356.5 447.2 356.9 444.5 357.3 441.7 357.7 439 358 436.2 358.4 433.5 358.7 430.8 359.1 428.1 359.4 425.4 359.7 422.6 360 420 360.3 417.3 360.6 414.6 360.9 411.9 361.1 409.3 361.4 406.7 361.6 404.1 361.9 401.5 362.1 398.9 362.3 396.3 362.5 393.8 362.7 391.2 362.9 388.7 363.1 386.2 363.2 383.8 363.4 381.3 363.6 378.9 363.7 376.5 363.8 374.1 364 371.8 364.1 369.4 364.2 367.1 364.3 364.9 364.4 362.6 364.5 360.4 364.5 358.2 364.6 356.1 364.7 353.9 364.7 351.8 364.8 349.8 364.8 347.7 364.8 345.7 364.9 343.8 364.9 341.8 364.9 339.9 364.9 338.1 364.9 336.3 364.9 334.5 364.8 332.7 364.8 331 364.8 329.3 364.7 327.7 364.7 326.1 364.6 324.5 364.6 323 364.5 321.5 364.4 320.1 364.3 318.7 364.3 317.3 364.2 316 364.1 314.7 364 313.5 363.9 312.3 363.8 311.2 363.7 310.1 363.5 309 363.4 308 363.3 307 363.2 306.1 363 305.2 362.9 304.4 362.8 303.6 362.6 302.9 362.5 302.2 362.3 301.5 362.2 301 362 300.4 361.9 299.9 361.7 299.4 361.5 299 361.4 298.7 361.2 298.4 361 298.1 360.9 297.9 360.7 297.7 360.5 297.6 360.3 297.5 360.2 297.5 360" stroke="#9a9a9a" stroke-width="31"/><path d="M613.5 288L613.5 288.9 613.4 289.8 613.2 290.8 613 291.7 612.8 292.6 612.5 293.5 612.2 294.4 611.8 295.3 611.4 296.2 610.9 297.1 610.4 298 609.8 298.9 609.2 299.8 608.6 300.7 607.9 301.6 607.1 302.5 606.3 303.4 605.5 304.3 604.6 305.2 603.7 306.1 602.7 307 601.7 307.9 600.6 308.7 599.5 309.6 598.4 310.5 597.2 311.4 596 312.3 594.7 313.2 593.4 314 592.1 314.9 590.7 315.8 589.2 316.6 587.8 317.5 586.2 318.4 584.7 319.2 583.1 320.1 581.5 320.9 579.8 321.7 578.1 322.6 576.3 323.4 574.5 324.2 572.7 325 570.9 325.8 569 326.6 567 327.4 565.1 328.2 563.1 329 561 329.8 559 330.6 556.9 331.3 554.8 332.1 552.6 332.8 550.4 333.6 548.2 334.3 546 335.1 543.7 335.8 541.4 336.5 539.1 337.2 536.7 337.9 534.4 338.6 532 339.3 529.5 339.9 527.1 340.6 524.6 341.3 522.1 341.9 519.6 342.6 517.1 343.2 514.6 343.8 512 344.4 509.4 345 506.8 345.6 504.2 346.2 501.6 346.8 498.9 347.4 496.3 347.9 493.6 348.5 490.9 349 488.3 349.6 485.6 350.1 482.8 350.6 480.1 351.1 477.4 351.6 474.7 352.1 471.9 352.6 469.2 353 466.4 353.5 463.7 354 460.9 354.4 458.2 354.8 455.4 355.2 452.7 355.6 449.9 356 447.2 356.4 444.4 356.8 441.7 357.2 438.9 357.5 436.2 357.9 433.4 358.2 430.7 358.6 428 358.9 425.3 359.2 422.6 359.5 419.9 359.8 417.2 360.1 414.6 360.4 411.9 360.6 409.3 360.9 406.6 361.1 404 361.4 401.4 361.6 398.8 361.8 396.3 362 393.7 362.2 391.2 362.4 388.7 362.6 386.2 362.7 383.7 362.9 381.3 363.1 378.9 363.2 376.5 363.3 374.1 363.5 371.7 363.6 369.4 363.7 367.1 363.8 364.9 363.9 362.6 364 360.4 364 358.2 364.1 356.1 364.2 353.9 364.2 351.8 364.3 349.8 364.3 347.7 364.3 345.7 364.4 343.8 364.4 341.8 364.4 339.9 364.4 338.1 364.4 336.3 364.4 334.5 364.3 332.7 364.3 331 364.3 329.3 364.2 327.7 364.2 326.1 364.1 324.5 364.1 323 364 321.5 363.9 320.1 363.8 318.7 363.8 317.3 363.7 316 363.6 314.8 363.5 313.5 363.4 312.4 363.3 311.2 363.2 310.1 363.1 309.1 363 308.1 362.9 307.1 362.7 306.2 362.6 305.3 362.5 304.5 362.4 303.7 362.3 302.9 362.2 302.3 362 301.6 361.9 301 361.8 300.5 361.6 300 361.5 299.5 361.3 299.1 361.2 298.7 361.1 298.4 360.9 298.2 360.8 297.9 360.6 297.8 360.5 297.6 360.3 297.5 360.2 297.5 360" stroke="#ababab" stroke-width="28"/><path d="M613.5 288L613.4 288.9 613.3 289.8 613.1 290.7 612.9 291.6 612.6 292.5 612.3 293.4 611.9 294.3 611.5 295.2 611 296.1 610.5 296.9 610 297.8 609.4 298.7 608.8 299.5 608.1 300.4 607.4 301.2 606.6 302.1 605.8 303 604.9 303.8 604 304.6 603.1 305.5 602.1 306.3 601.1 307.2 600 308 598.9 308.8 597.8 309.7 596.6 310.6 595.4 311.5 594.2 312.3 592.9 313.2 591.5 314.1 590.1 314.9 588.7 315.8 587.3 316.6 585.8 317.5 584.2 318.3 582.6 319.2 581 320 579.3 320.8 577.6 321.7 575.9 322.5 574.1 323.3 572.3 324.1 570.5 324.9 568.6 325.7 566.7 326.5 564.7 327.3 562.7 328.1 560.7 328.9 558.6 329.6 556.6 330.4 554.4 331.1 552.3 331.9 550.1 332.6 547.9 333.4 545.7 334.1 543.4 334.8 541.1 335.5 538.8 336.2 536.5 336.9 534.1 337.6 531.7 338.3 529.3 339 526.8 339.6 524.4 340.3 521.9 340.9 519.4 341.6 516.9 342.2 514.3 342.8 511.8 343.5 509.2 344.1 506.6 344.7 504 345.3 501.4 345.8 498.7 346.4 496.1 347 493.4 347.5 490.7 348.1 488.1 348.6 485.4 349.1 482.7 349.6 479.9 350.1 477.2 350.6 474.5 351.1 471.8 351.6 469 352.1 466.3 352.5 463.5 353 460.8 353.4 458 353.8 455.3 354.2 452.5 354.7 449.8 355.1 447 355.4 444.3 355.8 441.5 356.2 438.8 356.6 436.1 356.9 433.3 357.2 430.6 357.6 427.9 357.9 425.2 358.2 422.5 358.5 419.8 358.8 417.1 359.1 414.5 359.4 411.8 359.6 409.2 359.9 406.5 360.1 403.9 360.4 401.3 360.6 398.8 360.8 396.2 361 393.7 361.2 391.1 361.4 388.6 361.6 386.1 361.8 383.7 361.9 381.2 362.1 378.8 362.2 376.4 362.3 374 362.5 371.7 362.6 369.4 362.7 367.1 362.8 364.8 362.9 362.6 363 360.4 363 358.2 363.1 356 363.2 353.9 363.2 351.8 363.3 349.8 363.3 347.7 363.3 345.7 363.4 343.8 363.4 341.8 363.4 339.9 363.4 338.1 363.4 336.3 363.4 334.5 363.3 332.7 363.3 331 363.3 329.4 363.2 327.7 363.2 326.1 363.1 324.6 363.1 323.1 363 321.6 362.9 320.2 362.9 318.8 362.8 317.4 362.7 316.1 362.6 314.8 362.5 313.6 362.4 312.4 362.3 311.3 362.2 310.2 362.1 309.2 362 308.2 362 307.2 361.9 306.3 361.8 305.4 361.8 304.6 361.7 303.8 361.6 303.1 361.5 302.4 361.4 301.8 361.3 301.2 361.3 300.6 361.2 300.1 361.1 299.7 361 299.2 360.9 298.9 360.8 298.6 360.7 298.3 360.6 298.1 360.5 297.9 360.4 297.7 360.3 297.6 360.2 297.5 360" stroke="#b9b9b9" stroke-width="25"/><path d="M613.5 288L613.3 288.9 613.1 289.8 612.9 290.7 612.6 291.6 612.3 292.5 611.9 293.3 611.5 294.2 611 295 610.5 295.8 609.9 296.6 609.4 297.5 608.7 298.3 608.1 299.1 607.3 299.9 606.6 300.7 605.8 301.4 605 302.2 604.1 303 603.2 303.8 602.2 304.6 601.2 305.3 600.1 306.1 599.1 306.9 598 307.7 596.9 308.5 595.7 309.4 594.5 310.2 593.3 311.1 592 311.9 590.7 312.8 589.4 313.6 588 314.5 586.5 315.3 585 316.2 583.5 317 581.9 317.8 580.3 318.7 578.7 319.5 577 320.3 575.3 321.1 573.5 321.9 571.7 322.7 569.9 323.5 568 324.3 566.1 325.1 564.1 325.9 562.2 326.7 560.2 327.5 558.1 328.2 556 329 553.9 329.7 551.8 330.5 549.6 331.2 547.4 331.9 545.2 332.7 543 333.4 540.7 334.1 538.4 334.8 536 335.5 533.7 336.2 531.3 336.9 528.9 337.5 526.4 338.2 524 338.9 521.5 339.5 519 340.1 516.5 340.8 514 341.4 511.4 342 508.9 342.6 506.3 343.2 503.7 343.8 501.1 344.4 498.4 344.9 495.8 345.5 493.1 346 490.5 346.6 487.8 347.1 485.1 347.6 482.4 348.2 479.7 348.7 477 349.2 474.2 349.6 471.5 350.1 468.8 350.6 466 351 463.3 351.5 460.5 351.9 457.8 352.3 455.1 352.8 452.3 353.2 449.6 353.6 446.8 354 444.1 354.3 441.3 354.7 438.6 355.1 435.9 355.4 433.1 355.8 430.4 356.1 427.7 356.4 425 356.7 422.3 357 419.6 357.3 417 357.6 414.3 357.9 411.7 358.1 409 358.4 406.4 358.6 403.8 358.9 401.2 359.1 398.6 359.3 396.1 359.5 393.5 359.7 391 359.9 388.5 360.1 386 360.3 383.6 360.4 381.1 360.6 378.7 360.7 376.3 360.8 374 361 371.6 361.1 369.3 361.2 367 361.3 364.8 361.4 362.5 361.5 360.3 361.5 358.1 361.6 356 361.7 353.9 361.7 351.8 361.8 349.7 361.8 347.7 361.8 345.7 361.9 343.8 361.9 341.8 361.9 340 361.9 338.1 361.9 336.3 361.9 334.5 361.8 332.8 361.8 331.1 361.8 329.4 361.7 327.8 361.7 326.2 361.6 324.6 361.6 323.1 361.5 321.7 361.4 320.2 361.4 318.9 361.3 317.5 361.2 316.2 361.1 315 361 313.8 360.9 312.6 360.8 311.5 360.7 310.4 360.6 309.3 360.6 308.3 360.6 307.4 360.6 306.5 360.6 305.6 360.6 304.8 360.6 304 360.6 303.3 360.6 302.6 360.5 302 360.5 301.4 360.5 300.8 360.5 300.3 360.5 299.9 360.4 299.5 360.4 299.1 360.4 298.8 360.4 298.5 360.3 298.2 360.3 298 360.3 297.8 360.2 297.7 360.1 297.5 360" stroke="#c5c5c5" stroke-width="21"/><path d="M613.5 288L613.3 288.9 613 289.8 612.6 290.7 612.3 291.5 611.8 292.3 611.4 293.2 610.9 293.9 610.4 294.7 609.8 295.5 609.2 296.2 608.5 297 607.8 297.7 607.1 298.4 606.4 299.1 605.6 299.9 604.7 300.6 603.9 301.3 602.9 302 602 302.6 601 303.3 600 304 598.9 304.7 597.8 305.4 596.7 306.1 595.7 306.9 594.5 307.8 593.4 308.6 592.2 309.4 590.9 310.3 589.7 311.1 588.3 311.9 586.9 312.8 585.5 313.6 584.1 314.4 582.6 315.2 581 316.1 579.4 316.9 577.8 317.7 576.1 318.5 574.4 319.3 572.7 320.1 570.9 320.9 569.1 321.7 567.2 322.5 565.3 323.3 563.4 324 561.4 324.8 559.5 325.6 557.4 326.3 555.4 327.1 553.3 327.8 551.1 328.6 549 329.3 546.8 330 544.6 330.8 542.4 331.5 540.1 332.2 537.8 332.9 535.5 333.6 533.1 334.3 530.7 334.9 528.3 335.6 525.9 336.3 523.5 336.9 521 337.6 518.5 338.2 516 338.8 513.5 339.4 511 340.1 508.4 340.7 505.8 341.2 503.2 341.8 500.6 342.4 498 343 495.4 343.5 492.7 344.1 490.1 344.6 487.4 345.2 484.7 345.7 482 346.2 479.3 346.7 476.6 347.2 473.9 347.7 471.2 348.1 468.4 348.6 465.7 349.1 463 349.5 460.2 349.9 457.5 350.4 454.8 350.8 452 351.2 449.3 351.6 446.5 352 443.8 352.4 441.1 352.7 438.3 353.1 435.6 353.4 432.9 353.8 430.2 354.1 427.5 354.4 424.8 354.7 422.1 355 419.4 355.3 416.8 355.6 414.1 355.9 411.5 356.1 408.8 356.4 406.2 356.6 403.6 356.9 401 357.1 398.5 357.3 395.9 357.5 393.4 357.7 390.9 357.9 388.4 358.1 385.9 358.3 383.4 358.4 381 358.6 378.6 358.7 376.2 358.8 373.9 359 371.5 359.1 369.2 359.2 366.9 359.3 364.7 359.4 362.5 359.5 360.3 359.6 358.1 359.6 355.9 359.7 353.8 359.7 351.7 359.8 349.7 359.8 347.7 359.8 345.7 359.9 343.8 359.9 341.8 359.9 340 359.9 338.1 359.9 336.3 359.9 334.5 359.8 332.8 359.8 331.1 359.8 329.5 359.7 327.8 359.7 326.3 359.6 324.7 359.6 323.2 359.5 321.8 359.4 320.3 359.4 319 359.3 317.6 359.2 316.4 359.1 315.1 359 313.9 358.9 312.8 358.8 311.7 358.7 310.6 358.7 309.6 358.8 308.6 358.9 307.6 358.9 306.7 359 305.9 359.1 305 359.2 304.3 359.2 303.5 359.3 302.9 359.4 302.2 359.4 301.6 359.5 301.1 359.6 300.6 359.6 300.1 359.7 299.7 359.8 299.4 359.8 299 359.9 298.7 360 298.5 360 298.2 360.1 298 360.1 297.7 360.1 297.5 360" stroke="#d1d1d1" stroke-width="15"/><path d="M613.5 288L613.1 288.9 612.7 289.8 612.2 290.6 611.7 291.4 611.2 292.2 610.6 292.9 610 293.6 609.4 294.3 608.7 295 608 295.6 607.3 296.3 606.5 296.9 605.7 297.5 604.9 298.1 604 298.7 603.1 299.2 602.2 299.8 601.3 300.4 600.3 300.9 599.2 301.5 598.2 302 597.1 302.6 595.9 303.1 594.8 303.8 593.8 304.6 592.8 305.4 591.7 306.2 590.5 307 589.3 307.8 588 308.6 586.8 309.4 585.4 310.2 584 311 582.6 311.8 581.1 312.6 579.6 313.4 578.1 314.2 576.5 315 574.8 315.8 573.2 316.6 571.4 317.4 569.7 318.2 567.9 318.9 566.1 319.7 564.2 320.5 562.3 321.3 560.4 322 558.4 322.8 556.4 323.5 554.3 324.3 552.3 325 550.2 325.7 548 326.5 545.9 327.2 543.7 327.9 541.5 328.6 539.2 329.3 536.9 330 534.6 330.7 532.3 331.4 529.9 332 527.5 332.7 525.1 333.4 522.7 334 520.3 334.7 517.8 335.3 515.3 335.9 512.8 336.5 510.3 337.1 507.7 337.7 505.2 338.3 502.6 338.9 500 339.5 497.4 340 494.8 340.6 492.1 341.1 489.5 341.7 486.8 342.2 484.1 342.7 481.5 343.2 478.8 343.7 476.1 344.2 473.4 344.7 470.7 345.2 467.9 345.6 465.2 346.1 462.5 346.5 459.8 347 457 347.4 454.3 347.8 451.6 348.2 448.9 348.6 446.1 349 443.4 349.4 440.7 349.8 438 350.1 435.2 350.5 432.5 350.8 429.8 351.1 427.1 351.4 424.4 351.8 421.8 352.1 419.1 352.3 416.4 352.6 413.8 352.9 411.2 353.2 408.6 353.4 405.9 353.7 403.4 353.9 400.8 354.1 398.2 354.3 395.7 354.5 393.2 354.7 390.7 354.9 388.2 355.1 385.7 355.3 383.3 355.4 380.8 355.6 378.4 355.7 376.1 355.9 373.7 356 371.4 356.1 369.1 356.2 366.8 356.3 364.6 356.4 362.3 356.5 360.2 356.6 358 356.6 355.9 356.7 353.8 356.7 351.7 356.8 349.7 356.8 347.6 356.8 345.7 356.9 343.7 356.9 341.8 356.9 340 356.9 338.1 356.9 336.3 356.9 334.6 356.8 332.9 356.8 331.2 356.8 329.5 356.7 327.9 356.7 326.4 356.6 324.8 356.6 323.4 356.5 321.9 356.4 320.5 356.4 319.2 356.3 317.9 356.2 316.6 356.1 315.4 356 314.2 355.9 313.1 355.8 312 355.7 310.9 355.8 309.9 356 308.9 356.2 308 356.4 307.1 356.6 306.2 356.8 305.4 357 304.7 357.2 303.9 357.4 303.3 357.6 302.6 357.8 302 358 301.5 358.2 301 358.4 300.6 358.6 300.1 358.8 299.8 359 299.4 359.2 299.1 359.4 298.8 359.6 298.5 359.8 298.2 360 297.9 360.1 297.5 360" stroke="#e0e0e0" stroke-width="9"/><path d="M613.5 288L613 288.9 612.5 289.8 612 290.6 611.4 291.3 610.8 292.1 610.1 292.8 609.5 293.4 608.7 294.1 608 294.7 607.2 295.2 606.5 295.8 605.6 296.3 604.8 296.9 603.9 297.4 603 297.9 602.1 298.4 601.1 298.8 600.1 299.3 599.1 299.8 598 300.2 597 300.7 595.8 301.2 594.7 301.6 593.6 302.2 592.6 303 591.6 303.7 590.5 304.5 589.4 305.3 588.2 306.1 587 306.9 585.7 307.7 584.4 308.5 583 309.3 581.6 310.1 580.2 310.8 578.7 311.6 577.2 312.4 575.6 313.2 574 314 572.3 314.8 570.6 315.6 568.9 316.3 567.1 317.1 565.3 317.9 563.4 318.6 561.6 319.4 559.6 320.2 557.7 320.9 555.7 321.7 553.7 322.4 551.6 323.1 549.5 323.9 547.4 324.6 545.2 325.3 543.1 326 540.9 326.7 538.6 327.4 536.3 328.1 534.1 328.8 531.7 329.5 529.4 330.1 527 330.8 524.6 331.4 522.2 332.1 519.8 332.7 517.3 333.3 514.8 334 512.3 334.6 509.8 335.2 507.3 335.8 504.7 336.4 502.1 337 499.6 337.5 497 338.1 494.3 338.6 491.7 339.2 489.1 339.7 486.4 340.2 483.8 340.8 481.1 341.3 478.4 341.8 475.7 342.3 473 342.7 470.3 343.2 467.6 343.7 464.9 344.1 462.2 344.6 459.5 345 456.7 345.4 454 345.8 451.3 346.2 448.6 346.6 445.8 347 443.1 347.4 440.4 347.8 437.7 348.1 435 348.5 432.3 348.8 429.6 349.1 426.9 349.5 424.2 349.8 421.6 350.1 418.9 350.4 416.2 350.6 413.6 350.9 411 351.2 408.4 351.4 405.8 351.7 403.2 351.9 400.6 352.1 398.1 352.3 395.5 352.5 393 352.7 390.5 352.9 388 353.1 385.6 353.3 383.1 353.4 380.7 353.6 378.3 353.7 376 353.9 373.6 354 371.3 354.1 369 354.2 366.7 354.3 364.5 354.4 362.3 354.5 360.1 354.6 357.9 354.6 355.8 354.7 353.7 354.7 351.7 354.8 349.6 354.8 347.6 354.8 345.7 354.9 343.7 354.9 341.8 354.9 340 354.9 338.1 354.9 336.4 354.9 334.6 354.8 332.9 354.8 331.2 354.8 329.6 354.7 328 354.7 326.4 354.6 324.9 354.6 323.4 354.5 322 354.4 320.6 354.4 319.3 354.3 318 354.2 316.7 354.1 315.5 354 314.4 353.9 313.2 353.8 312.2 353.7 311.1 353.8 310.1 354.1 309.1 354.4 308.2 354.7 307.3 355 306.5 355.3 305.7 355.6 304.9 355.8 304.2 356.1 303.5 356.4 302.9 356.7 302.3 357 301.8 357.3 301.3 357.6 300.8 357.9 300.4 358.2 300 358.5 299.7 358.8 299.4 359.1 299 359.4 298.7 359.7 298.4 359.9 297.9 360.1 297.5 360" stroke="#ececec" stroke-width="4.5"/><path d="M482.2 347.2L479.5 347.7 476.8 348.2 474.1 348.7 471.3 349.1 468.6 349.6 465.9 350 463.1 350.5 460.4 350.9 457.6 351.4 454.9 351.8 452.2 352.2 449.4 352.6 446.7 353 443.9 353.3 441.2 353.7 438.5 354.1 435.7 354.4 433 354.8 430.3 355.1 427.6 355.4 424.9 355.7 422.2 356 419.5 356.3 416.9 356.6 414.2 356.9 411.6 357.1 408.9 357.4 406.3 357.6 403.7 357.9 401.1 358.1 398.5 358.3 396 358.5 393.5 358.7 390.9 358.9 388.4 359.1" stroke="url(#g3)" stroke-width="19.0" filter="url(#bl)"/><path d="M479.3 346.7L476.6 347.2 473.9 347.7 471.2 348.1 468.4 348.6 465.7 349.1 463 349.5 460.2 349.9 457.5 350.4 454.8 350.8 452 351.2 449.3 351.6 446.5 352 443.8 352.4 441.1 352.7 438.3 353.1 435.6 353.4 432.9 353.8 430.2 354.1 427.5 354.4 424.8 354.7 422.1 355 419.4 355.3 416.8 355.6 414.1 355.9 411.5 356.1" stroke="url(#g4)" stroke-width="16" filter="url(#bl)"/><path d="M360.5 368.5L358.3 368.6 356.2 368.7 354 368.7 351.9 368.8 349.8 368.8 347.8 368.8 345.8 368.9 343.8 368.9 341.8 368.9 339.9 368.9 338.1 368.9 336.2 368.9 334.4 368.8 332.6 368.8 330.9 368.8 329.2 368.7 327.5 368.7 325.9 368.6 324.3 368.6 322.8 368.5 321.3 368.4 319.8 368.3 318.4 368.3 317 368.2 315.7 368.1 314.4 368 313.1 367.9 311.9 367.8 310.8 367.6 309.6 367.5 308.5 367.4 307.5 367.3 306.5 367.1 305.5 367 304.6 366.8 303.7 366.7 302.9 366.5 302.1 366.4 301.3 366.2 300.6 366 299.9 365.9 299.2 365.7 298.6 365.5 298 365.3 297.5 365 296.9 364.8 296.3 364.5 295.8 364.1 295.2 363.7 294.7 363.1 294.1 362.3 293.7 361.2 293.5 360" stroke="url(#g15)" stroke-width="19.0" filter="url(#bl)"/><path d="M625.5 287.9L625.5 289.5 625.3 291.1 625.1 292.6 624.9 294.1 624.5 295.6 624.1 297.1 623.6 298.6 623 300 622.4 301.4 621.8 302.8 621 304.1 620.2 305.4 619.4 306.7 618.5 308 617.6 309.2 616.6 310.4 615.6 311.6 614.5 312.8 613.4 313.9 612.3 315.1 611.1 316.2 609.9 317.3 608.6 318.3 607.3 319.4 606 320.4 604.6 321.5 603.2 322.5 601.8 323.5 600.3 324.5 598.8 325.5" stroke="url(#g47)" stroke-width="8"/><circle cx="612.4" cy="260.2" r="16.75" fill="#505050"/><circle cx="612.4" cy="260.2" r="15.5" fill="#9a9a9a"/><circle cx="612.3" cy="260.2" r="14.0" fill="#ababab"/><circle cx="612.2" cy="260.2" r="12.5" fill="#b9b9b9"/><circle cx="612.1" cy="260.1" r="10.5" fill="#c5c5c5"/><circle cx="611.9" cy="260.1" r="7.5" fill="#d1d1d1"/><circle cx="611.7" cy="260" r="4.5" fill="#e0e0e0"/><circle cx="611.5" cy="260" r="2.25" fill="#ececec"/><path d="M293.6 263.1L293.5 262.5 293.5 262" stroke="#505050" stroke-width="33.5" stroke-linecap="round"/><path d="M293.6 263.1L293.5 262.5 293.5 262" stroke="#9a9a9a" stroke-width="31" stroke-linecap="round"/><path d="M293.7 263.1L293.6 262.5 293.5 262" stroke="#ababab" stroke-width="28" stroke-linecap="round"/><path d="M293.8 263.1L293.6 262.5 293.5 262" stroke="#b9b9b9" stroke-width="25" stroke-linecap="round"/><path d="M293.9 263L293.7 262.5 293.5 262" stroke="#c5c5c5" stroke-width="21" stroke-linecap="round"/><path d="M294.1 263L293.8 262.5 293.5 262" stroke="#d1d1d1" stroke-width="15" stroke-linecap="round"/><path d="M294.3 263L293.9 262.5 293.5 262" stroke="#e0e0e0" stroke-width="9" stroke-linecap="round"/><path d="M294.5 262.9L294 262.5 293.5 262" stroke="#ececec" stroke-width="4.5" stroke-linecap="round"/><path d="M612.4 260.2L612.2 260.8 612 261.4 611.8 262 611.5 262.5 611.2 263.1 610.8 263.7 610.4 264.3 609.9 264.9 609.4 265.5 608.8 266.1 608.2 266.6 607.6 267.2 606.9 267.8 606.1 268.4 605.3 268.9 604.5 269.5 603.6 270.1 602.6 270.6 601.7 271.2 600.6 271.8 599.6 272.3 598.4 272.9 597.3 273.4 596.1 274 594.8 274.5 593.5 275 592.2 275.6 590.8 276.1 589.4 276.6 588 277.1 586.5 277.6 584.9 278.1 583.3 278.6 581.7 279.1 580.1 279.6 578.4 280.1 576.6 280.6 574.9 281 573.1 281.5 571.2 282 569.3 282.4 567.4 282.9 565.5 283.3 563.5 283.7 561.5 284.1 559.4 284.6 557.3 285 555.2 285.4 553.1 285.7 550.9 286.1 548.7 286.5 546.5 286.9 544.2 287.2 541.9 287.6 539.6 287.9 537.3 288.3 534.9 288.6 532.5 288.9 530.1 289.2 527.6 289.5 525.2 289.8 522.7 290.1 520.2 290.4 517.7 290.6 515.1 290.9 512.6 291.1 510 291.4 507.4 291.6 504.8 291.8 502.1 292 499.5 292.2 496.8 292.4 494.1 292.6 491.5 292.7 488.8 292.9 486.1 293 483.3 293.2 480.6 293.3 477.9 293.4 475.1 293.5 472.4 293.6 469.6 293.7 466.9 293.8 464.1 293.8 461.3 293.9 458.5 293.9 455.8 294 453 294 450.2 294 447.5 294 444.7 294 441.9 294 439.1 293.9 436.4 293.9 433.6 293.8 430.9 293.8 428.1 293.7 425.4 293.6 422.7 293.5 419.9 293.4 417.2 293.3 414.5 293.2 411.9 293 409.2 292.9 406.5 292.7 403.9 292.6 401.2 292.4 398.6 292.2 396 292 393.4 291.8 390.9 291.6 388.3 291.4 385.8 291.2 383.3 290.9 380.8 290.7 378.4 290.4 375.9 290.1 373.5 289.8 371.1 289.6 368.7 289.3 366.4 289 364.1 288.6 361.8 288.3 359.5 288 357.3 287.7 355.1 287.3 352.9 287 350.8 286.6 348.7 286.2 346.6 285.9 344.5 285.5 342.5 285.1 340.5 284.7 338.6 284.3 336.7 283.9 334.8 283.4 332.9 283 331.1 282.6 329.4 282.1 327.6 281.7 325.9 281.3 324.3 280.8 322.7 280.3 321.1 279.9 319.5 279.4 318 278.9 316.6 278.4 315.2 278 313.8 277.5 312.5 277 311.2 276.5 309.9 276 308.7 275.5 307.6 274.9 306.4 274.4 305.4 273.9 304.3 273.4 303.4 272.9 302.4 272.3 301.5 271.8 300.7 271.3 299.9 270.7 299.1 270.2 298.4 269.7 297.8 269.1 297.2 268.6 296.6 268 296.1 267.5 295.6 266.9 295.2 266.4 294.8 265.8 294.5 265.3 294.2 264.7 294 264.2 293.8 263.6 293.6 263.1 293.5 262.5 293.5 262" stroke="#505050" stroke-width="33.5"/><path d="M612.4 260.2L612.2 260.8 612 261.4 611.8 262 611.5 262.5 611.2 263.1 610.8 263.7 610.4 264.3 609.9 264.9 609.4 265.5 608.8 266.1 608.2 266.6 607.6 267.2 606.9 267.8 606.1 268.4 605.3 268.9 604.5 269.5 603.6 270.1 602.6 270.6 601.7 271.2 600.6 271.8 599.6 272.3 598.4 272.9 597.3 273.4 596.1 274 594.8 274.5 593.5 275 592.2 275.6 590.8 276.1 589.4 276.6 588 277.1 586.5 277.6 584.9 278.1 583.3 278.6 581.7 279.1 580.1 279.6 578.4 280.1 576.6 280.6 574.9 281 573.1 281.5 571.2 282 569.3 282.4 567.4 282.9 565.5 283.3 563.5 283.7 561.5 284.1 559.4 284.6 557.3 285 555.2 285.4 553.1 285.7 550.9 286.1 548.7 286.5 546.5 286.9 544.2 287.2 541.9 287.6 539.6 287.9 537.3 288.3 534.9 288.6 532.5 288.9 530.1 289.2 527.6 289.5 525.2 289.8 522.7 290.1 520.2 290.4 517.7 290.6 515.1 290.9 512.6 291.1 510 291.4 507.4 291.6 504.8 291.8 502.1 292 499.5 292.2 496.8 292.4 494.1 292.6 491.5 292.7 488.8 292.9 486.1 293 483.3 293.2 480.6 293.3 477.9 293.4 475.1 293.5 472.4 293.6 469.6 293.7 466.9 293.8 464.1 293.8 461.3 293.9 458.5 293.9 455.8 294 453 294 450.2 294 447.5 294 444.7 294 441.9 294 439.1 293.9 436.4 293.9 433.6 293.8 430.9 293.8 428.1 293.7 425.4 293.6 422.7 293.5 419.9 293.4 417.2 293.3 414.5 293.2 411.9 293 409.2 292.9 406.5 292.7 403.9 292.6 401.2 292.4 398.6 292.2 396 292 393.4 291.8 390.9 291.6 388.3 291.4 385.8 291.2 383.3 290.9 380.8 290.7 378.4 290.4 375.9 290.1 373.5 289.8 371.1 289.6 368.7 289.3 366.4 289 364.1 288.6 361.8 288.3 359.5 288 357.3 287.7 355.1 287.3 352.9 287 350.8 286.6 348.7 286.2 346.6 285.9 344.5 285.5 342.5 285.1 340.5 284.7 338.6 284.3 336.7 283.9 334.8 283.4 332.9 283 331.1 282.6 329.4 282.1 327.6 281.7 325.9 281.3 324.3 280.8 322.7 280.3 321.1 279.9 319.5 279.4 318 278.9 316.6 278.4 315.2 278 313.8 277.5 312.5 277 311.2 276.5 309.9 276 308.7 275.5 307.6 274.9 306.4 274.4 305.4 273.9 304.3 273.4 303.4 272.9 302.4 272.3 301.5 271.8 300.7 271.3 299.9 270.7 299.1 270.2 298.4 269.7 297.8 269.1 297.2 268.6 296.6 268 296.1 267.5 295.6 266.9 295.2 266.4 294.8 265.8 294.5 265.3 294.2 264.7 294 264.2 293.8 263.6 293.6 263.1 293.5 262.5 293.5 262" stroke="#9a9a9a" stroke-width="31"/><path d="M612.3 260.2L612.2 260.8 612 261.3 611.7 261.9 611.4 262.5 611.1 263.1 610.7 263.6 610.2 264.2 609.8 264.8 609.2 265.3 608.7 265.9 608 266.4 607.4 267 606.7 267.5 605.9 268.1 605.1 268.6 604.3 269.2 603.4 269.7 602.4 270.3 601.4 270.8 600.4 271.4 599.3 271.9 598.2 272.4 597.1 273 595.9 273.5 594.6 274 593.4 274.6 592 275.1 590.7 275.6 589.2 276.1 587.8 276.6 586.3 277.2 584.8 277.7 583.2 278.2 581.6 278.6 579.9 279.1 578.2 279.6 576.5 280.1 574.7 280.6 572.9 281 571.1 281.5 569.2 281.9 567.3 282.4 565.4 282.8 563.4 283.2 561.4 283.6 559.3 284.1 557.2 284.5 555.1 284.9 553 285.3 550.8 285.6 548.6 286 546.4 286.4 544.1 286.7 541.8 287.1 539.5 287.4 537.2 287.8 534.8 288.1 532.4 288.4 530 288.7 527.6 289 525.1 289.3 522.6 289.6 520.1 289.9 517.6 290.1 515.1 290.4 512.5 290.6 509.9 290.9 507.3 291.1 504.7 291.3 502.1 291.5 499.4 291.7 496.8 291.9 494.1 292.1 491.4 292.2 488.7 292.4 486 292.5 483.3 292.7 480.6 292.8 477.8 292.9 475.1 293 472.4 293.1 469.6 293.2 466.8 293.3 464.1 293.3 461.3 293.4 458.5 293.4 455.8 293.5 453 293.5 450.2 293.5 447.5 293.5 444.7 293.5 441.9 293.5 439.2 293.4 436.4 293.4 433.6 293.3 430.9 293.3 428.1 293.2 425.4 293.1 422.7 293 420 292.9 417.3 292.8 414.6 292.7 411.9 292.5 409.2 292.4 406.6 292.2 403.9 292.1 401.3 291.9 398.7 291.7 396.1 291.5 393.5 291.3 390.9 291.1 388.4 290.9 385.9 290.7 383.4 290.4 380.9 290.2 378.4 289.9 376 289.6 373.6 289.4 371.2 289.1 368.8 288.8 366.5 288.5 364.1 288.2 361.9 287.8 359.6 287.5 357.4 287.2 355.2 286.8 353 286.5 350.9 286.1 348.7 285.7 346.7 285.4 344.6 285 342.6 284.6 340.6 284.2 338.7 283.8 336.8 283.4 334.9 283 333.1 282.5 331.2 282.1 329.5 281.7 327.8 281.2 326.1 280.8 324.4 280.3 322.8 279.9 321.2 279.4 319.7 278.9 318.2 278.4 316.7 278 315.3 277.5 314 277 312.6 276.5 311.4 276 310.1 275.5 308.9 275 307.8 274.5 306.7 274 305.6 273.5 304.6 273 303.6 272.5 302.6 272 301.7 271.5 300.9 271 300.1 270.5 299.3 269.9 298.6 269.4 297.9 268.9 297.3 268.4 296.8 267.9 296.2 267.3 295.7 266.8 295.3 266.3 294.9 265.8 294.6 265.2 294.3 264.7 294 264.2 293.8 263.6 293.7 263.1 293.6 262.5 293.5 262" stroke="#ababab" stroke-width="28"/><path d="M612.2 260.2L612 260.7 611.8 261.3 611.5 261.8 611.2 262.4 610.8 262.9 610.4 263.4 609.9 264 609.4 264.5 608.9 265 608.3 265.5 607.7 266 607 266.5 606.3 267 605.5 267.5 604.7 268 603.8 268.5 602.9 269 602 269.5 601 270 600 270.5 598.9 271 597.8 271.5 596.7 272.1 595.5 272.6 594.2 273.1 593 273.6 591.7 274.2 590.3 274.7 588.9 275.2 587.5 275.7 586 276.2 584.5 276.7 582.9 277.2 581.3 277.7 579.7 278.2 578 278.6 576.2 279.1 574.5 279.6 572.7 280 570.9 280.5 569 280.9 567.1 281.4 565.2 281.8 563.2 282.2 561.2 282.7 559.1 283.1 557.1 283.5 555 283.9 552.8 284.3 550.7 284.7 548.5 285 546.2 285.4 544 285.8 541.7 286.1 539.4 286.4 537.1 286.8 534.7 287.1 532.3 287.4 529.9 287.7 527.5 288 525 288.3 522.5 288.6 520 288.9 517.5 289.1 515 289.4 512.4 289.6 509.8 289.9 507.2 290.1 504.6 290.3 502 290.5 499.4 290.7 496.7 290.9 494 291.1 491.4 291.2 488.7 291.4 486 291.5 483.3 291.7 480.5 291.8 477.8 291.9 475.1 292 472.3 292.1 469.6 292.2 466.8 292.3 464.1 292.3 461.3 292.4 458.5 292.4 455.8 292.5 453 292.5 450.2 292.5 447.5 292.5 444.7 292.5 441.9 292.5 439.2 292.4 436.4 292.4 433.7 292.3 430.9 292.3 428.2 292.2 425.4 292.1 422.7 292 420 291.9 417.3 291.8 414.6 291.7 411.9 291.5 409.3 291.4 406.6 291.2 404 291.1 401.3 290.9 398.7 290.7 396.1 290.5 393.6 290.3 391 290.1 388.5 289.9 386 289.7 383.5 289.4 381 289.2 378.5 288.9 376.1 288.6 373.7 288.4 371.3 288.1 368.9 287.8 366.6 287.5 364.3 287.2 362 286.8 359.8 286.5 357.5 286.2 355.3 285.8 353.2 285.5 351 285.1 348.9 284.8 346.8 284.4 344.8 284 342.8 283.6 340.8 283.2 338.9 282.8 337 282.4 335.1 282 333.3 281.6 331.5 281.1 329.7 280.7 328 280.3 326.3 279.8 324.7 279.4 323.1 278.9 321.5 278.4 320 278 318.5 277.5 317.1 277 315.7 276.5 314.3 276.1 313 275.6 311.7 275.1 310.5 274.6 309.3 274.1 308.2 273.6 307.1 273.1 306 272.7 305 272.2 304 271.7 303 271.3 302.1 270.8 301.3 270.3 300.5 269.9 299.7 269.4 299 268.9 298.3 268.5 297.7 268 297.1 267.5 296.5 267 296 266.6 295.6 266.1 295.2 265.6 294.8 265.1 294.5 264.6 294.2 264.1 294 263.6 293.8 263.1 293.6 262.5 293.5 262" stroke="#b9b9b9" stroke-width="25"/><path d="M612.1 260.1L611.9 260.7 611.6 261.2 611.2 261.7 610.8 262.2 610.4 262.7 610 263.1 609.5 263.6 608.9 264.1 608.4 264.5 607.8 265 607.1 265.4 606.4 265.8 605.7 266.3 604.9 266.7 604.1 267.1 603.2 267.6 602.3 268 601.3 268.4 600.3 268.9 599.3 269.3 598.2 269.7 597.1 270.2 596 270.7 594.9 271.2 593.7 271.7 592.4 272.3 591.1 272.8 589.8 273.3 588.4 273.8 587 274.3 585.5 274.8 584 275.3 582.5 275.8 580.9 276.3 579.2 276.7 577.6 277.2 575.9 277.7 574.1 278.1 572.3 278.6 570.5 279 568.7 279.5 566.8 279.9 564.8 280.4 562.9 280.8 560.9 281.2 558.8 281.6 556.8 282 554.7 282.4 552.6 282.8 550.4 283.2 548.2 283.5 546 283.9 543.7 284.3 541.5 284.6 539.2 285 536.8 285.3 534.5 285.6 532.1 285.9 529.7 286.2 527.3 286.5 524.8 286.8 522.4 287.1 519.9 287.4 517.4 287.6 514.8 287.9 512.3 288.1 509.7 288.4 507.1 288.6 504.5 288.8 501.9 289 499.3 289.2 496.6 289.4 494 289.6 491.3 289.7 488.6 289.9 485.9 290 483.2 290.2 480.5 290.3 477.7 290.4 475 290.5 472.3 290.6 469.5 290.7 466.8 290.8 464 290.8 461.3 290.9 458.5 290.9 455.7 291 453 291 450.2 291 447.5 291 444.7 291 441.9 291 439.2 290.9 436.4 290.9 433.7 290.8 431 290.8 428.2 290.7 425.5 290.6 422.8 290.5 420.1 290.4 417.4 290.3 414.7 290.2 412 290 409.4 289.9 406.7 289.8 404.1 289.6 401.4 289.4 398.8 289.2 396.3 289 393.7 288.8 391.1 288.6 388.6 288.4 386.1 288.2 383.6 287.9 381.1 287.7 378.7 287.4 376.3 287.1 373.9 286.9 371.5 286.6 369.1 286.3 366.8 286 364.5 285.7 362.2 285.4 360 285 357.8 284.7 355.6 284.4 353.4 284 351.3 283.6 349.2 283.3 347.1 282.9 345.1 282.5 343.1 282.1 341.1 281.7 339.2 281.3 337.3 280.9 335.4 280.5 333.6 280.1 331.8 279.7 330.1 279.2 328.4 278.8 326.7 278.4 325.1 277.9 323.5 277.5 321.9 277 320.4 276.5 319 276.1 317.5 275.6 316.2 275.1 314.8 274.6 313.5 274.2 312.3 273.7 311.1 273.2 309.9 272.7 308.8 272.2 307.7 271.8 306.6 271.4 305.6 271 304.6 270.6 303.6 270.2 302.7 269.8 301.9 269.4 301.1 269 300.3 268.6 299.6 268.2 298.9 267.8 298.2 267.4 297.6 267 297 266.6 296.5 266.2 296 265.8 295.6 265.3 295.2 264.9 294.8 264.5 294.4 264 294.1 263.5 293.9 263 293.7 262.5 293.5 262" stroke="#c5c5c5" stroke-width="21"/><path d="M611.9 260.1L611.6 260.6 611.2 261.1 610.8 261.5 610.4 261.9 609.9 262.4 609.4 262.7 608.9 263.1 608.3 263.5 607.7 263.9 607 264.2 606.3 264.6 605.6 264.9 604.9 265.3 604.1 265.6 603.2 265.9 602.4 266.3 601.4 266.6 600.5 267 599.5 267.3 598.4 267.6 597.4 268 596.3 268.4 595.2 268.9 594.1 269.4 592.9 269.9 591.7 270.4 590.4 270.9 589.1 271.4 587.7 271.9 586.3 272.4 584.9 272.9 583.4 273.4 581.9 273.9 580.3 274.3 578.7 274.8 577 275.3 575.3 275.7 573.6 276.2 571.8 276.7 570 277.1 568.2 277.5 566.3 278 564.4 278.4 562.4 278.8 560.5 279.2 558.4 279.6 556.4 280 554.3 280.4 552.2 280.8 550.1 281.2 547.9 281.6 545.7 281.9 543.4 282.3 541.2 282.6 538.9 283 536.6 283.3 534.2 283.6 531.9 283.9 529.5 284.3 527 284.6 524.6 284.8 522.1 285.1 519.7 285.4 517.2 285.6 514.6 285.9 512.1 286.1 509.5 286.4 507 286.6 504.4 286.8 501.7 287 499.1 287.2 496.5 287.4 493.8 287.6 491.2 287.7 488.5 287.9 485.8 288 483.1 288.2 480.4 288.3 477.7 288.4 474.9 288.5 472.2 288.6 469.5 288.7 466.7 288.8 464 288.8 461.2 288.9 458.5 288.9 455.7 289 453 289 450.2 289 447.5 289 444.7 289 442 289 439.2 288.9 436.5 288.9 433.7 288.8 431 288.8 428.3 288.7 425.6 288.6 422.9 288.5 420.2 288.4 417.5 288.3 414.8 288.2 412.1 288.1 409.5 287.9 406.8 287.8 404.2 287.6 401.6 287.4 399 287.2 396.4 287 393.9 286.8 391.3 286.6 388.8 286.4 386.3 286.2 383.8 285.9 381.3 285.7 378.9 285.4 376.5 285.2 374.1 284.9 371.7 284.6 369.4 284.3 367.1 284 364.8 283.7 362.5 283.4 360.3 283.1 358.1 282.7 355.9 282.4 353.7 282 351.6 281.7 349.5 281.3 347.5 280.9 345.5 280.6 343.5 280.2 341.5 279.8 339.6 279.4 337.7 279 335.9 278.6 334.1 278.1 332.3 277.7 330.6 277.3 328.9 276.9 327.2 276.4 325.6 276 324.1 275.5 322.5 275.1 321 274.6 319.6 274.2 318.2 273.7 316.8 273.2 315.5 272.8 314.2 272.3 313 271.8 311.8 271.3 310.7 270.9 309.6 270.4 308.5 270 307.5 269.7 306.4 269.4 305.4 269.1 304.5 268.8 303.6 268.5 302.7 268.2 301.8 267.9 301.1 267.6 300.3 267.3 299.6 267 298.9 266.7 298.3 266.3 297.7 266 297.1 265.7 296.6 265.4 296.1 265 295.6 264.7 295.2 264.3 294.8 263.9 294.4 263.5 294.1 263 293.8 262.5 293.5 262" stroke="#d1d1d1" stroke-width="15"/><path d="M611.7 260L611.2 260.5 610.7 260.9 610.2 261.3 609.7 261.6 609.1 261.9 608.5 262.2 607.9 262.4 607.3 262.7 606.6 262.9 605.9 263.1 605.2 263.3 604.4 263.5 603.7 263.7 602.8 263.9 602 264.1 601.1 264.3 600.2 264.5 599.2 264.7 598.2 264.9 597.1 265.1 596 265.3 595 265.7 593.9 266.2 592.8 266.6 591.7 267.1 590.5 267.6 589.3 268.1 588 268.6 586.7 269.1 585.3 269.6 583.9 270 582.5 270.5 581 271 579.4 271.5 577.8 271.9 576.2 272.4 574.6 272.8 572.9 273.3 571.1 273.7 569.3 274.2 567.5 274.6 565.6 275 563.8 275.5 561.8 275.9 559.9 276.3 557.9 276.7 555.8 277.1 553.8 277.5 551.7 277.9 549.5 278.3 547.4 278.6 545.2 279 543 279.3 540.7 279.7 538.5 280 536.1 280.3 533.8 280.7 531.5 281 529.1 281.3 526.7 281.6 524.3 281.9 521.8 282.1 519.3 282.4 516.9 282.7 514.3 282.9 511.8 283.2 509.3 283.4 506.7 283.6 504.1 283.8 501.5 284 498.9 284.2 496.3 284.4 493.6 284.6 491 284.7 488.3 284.9 485.6 285 482.9 285.2 480.2 285.3 477.5 285.4 474.8 285.5 472.1 285.6 469.4 285.7 466.7 285.8 463.9 285.8 461.2 285.9 458.4 285.9 455.7 286 453 286 450.2 286 447.5 286 444.7 286 442 286 439.3 285.9 436.5 285.9 433.8 285.8 431.1 285.8 428.4 285.7 425.7 285.6 423 285.5 420.3 285.4 417.6 285.3 414.9 285.2 412.3 285.1 409.6 284.9 407 284.8 404.4 284.6 401.8 284.4 399.2 284.2 396.6 284 394.1 283.8 391.6 283.6 389.1 283.4 386.6 283.2 384.1 282.9 381.6 282.7 379.2 282.4 376.8 282.2 374.4 281.9 372.1 281.6 369.8 281.3 367.4 281 365.2 280.7 362.9 280.4 360.7 280.1 358.5 279.8 356.4 279.4 354.2 279.1 352.1 278.7 350.1 278.4 348 278 346 277.6 344.1 277.2 342.1 276.8 340.2 276.4 338.4 276 336.6 275.6 334.8 275.2 333 274.8 331.3 274.4 329.6 274 328 273.5 326.4 273.1 324.9 272.7 323.4 272.2 321.9 271.8 320.5 271.3 319.1 270.9 317.8 270.4 316.5 269.9 315.3 269.5 314.1 269 313 268.6 311.9 268.1 310.9 267.7 309.8 267.4 308.7 267.2 307.7 267 306.7 266.9 305.7 266.7 304.8 266.5 303.9 266.4 303 266.2 302.2 266 301.4 265.9 300.7 265.7 300 265.5 299.3 265.3 298.6 265.1 298 265 297.4 264.7 296.8 264.5 296.3 264.3 295.8 264 295.3 263.7 294.8 263.3 294.3 263 293.9 262.5 293.5 262" stroke="#e0e0e0" stroke-width="9"/><path d="M611.5 260L611 260.4 610.4 260.8 609.8 261.1 609.2 261.3 608.6 261.6 608 261.8 607.3 261.9 606.6 262.1 605.9 262.2 605.2 262.4 604.4 262.5 603.7 262.6 602.9 262.7 602 262.8 601.1 262.9 600.2 263.1 599.3 263.2 598.3 263.3 597.3 263.4 596.2 263.5 595.2 263.6 594.1 263.9 593.1 264.3 592 264.8 590.9 265.3 589.8 265.8 588.6 266.2 587.3 266.7 586 267.2 584.7 267.7 583.3 268.1 581.9 268.6 580.4 269.1 578.9 269.5 577.3 270 575.7 270.5 574 270.9 572.3 271.4 570.6 271.8 568.9 272.2 567 272.7 565.2 273.1 563.3 273.5 561.4 273.9 559.5 274.3 557.5 274.7 555.5 275.1 553.4 275.5 551.3 275.9 549.2 276.3 547.1 276.6 544.9 277 542.7 277.4 540.4 277.7 538.2 278 535.9 278.4 533.6 278.7 531.2 279 528.8 279.3 526.4 279.6 524 279.9 521.6 280.1 519.1 280.4 516.7 280.7 514.1 280.9 511.6 281.2 509.1 281.4 506.5 281.6 504 281.8 501.4 282 498.8 282.2 496.1 282.4 493.5 282.6 490.9 282.7 488.2 282.9 485.5 283 482.9 283.2 480.2 283.3 477.5 283.4 474.8 283.5 472 283.6 469.3 283.7 466.6 283.8 463.9 283.8 461.1 283.9 458.4 283.9 455.7 284 452.9 284 450.2 284 447.5 284 444.7 284 442 284 439.3 283.9 436.6 283.9 433.8 283.8 431.1 283.8 428.4 283.7 425.7 283.6 423 283.5 420.4 283.4 417.7 283.3 415 283.2 412.4 283.1 409.7 282.9 407.1 282.8 404.5 282.6 401.9 282.4 399.4 282.2 396.8 282.1 394.3 281.9 391.7 281.6 389.2 281.4 386.7 281.2 384.3 281 381.8 280.7 379.4 280.5 377 280.2 374.7 279.9 372.3 279.6 370 279.3 367.7 279 365.4 278.7 363.2 278.4 361 278.1 358.8 277.8 356.7 277.4 354.6 277.1 352.5 276.7 350.4 276.4 348.4 276 346.4 275.6 344.4 275.3 342.5 274.9 340.6 274.5 338.8 274.1 337 273.7 335.2 273.3 333.5 272.9 331.8 272.5 330.1 272 328.5 271.6 327 271.2 325.4 270.7 324 270.3 322.5 269.9 321.1 269.4 319.8 269 318.5 268.5 317.2 268.1 316 267.6 314.9 267.2 313.7 266.7 312.7 266.3 311.7 265.8 310.6 265.6 309.5 265.5 308.5 265.4 307.5 265.4 306.5 265.3 305.6 265.2 304.7 265.1 303.8 265.1 303 265 302.2 264.9 301.4 264.8 300.7 264.8 300 264.7 299.3 264.6 298.6 264.5 298 264.3 297.4 264.2 296.7 264 296.2 263.8 295.6 263.6 295 263.3 294.5 262.9 294 262.5 293.5 262" stroke="#ececec" stroke-width="4.5"/><path d="M472.4 293.6L469.6 293.7 466.9 293.8 464.1 293.8 461.3 293.9 458.5 293.9 455.8 294 453 294 450.2 294 447.5 294 444.7 294 441.9 294 439.1 293.9 436.4 293.9 433.6 293.8 430.9 293.8 428.1 293.7 425.4 293.6 422.7 293.5 419.9 293.4 417.2 293.3 414.5 293.2 411.9 293 409.2 292.9 406.5 292.7 403.9 292.6 401.2 292.4 398.6 292.2 396 292 393.4 291.8 390.9 291.6 388.3 291.4 385.8 291.2 383.3 290.9 380.8 290.7 378.4 290.4 375.9 290.1" stroke="url(#g1)" stroke-width="24" filter="url(#bl)"/><path d="M469.6 292.7L466.8 292.8 464.1 292.8 461.3 292.9 458.5 292.9 455.8 293 453 293 450.2 293 447.5 293 444.7 293 441.9 293 439.2 292.9 436.4 292.9 433.6 292.8 430.9 292.8 428.2 292.7 425.4 292.6 422.7 292.5 420 292.4 417.3 292.3 414.6 292.2 411.9 292 409.2 291.9 406.6 291.7 403.9 291.6 401.3 291.4" stroke="url(#g2)" stroke-width="12" filter="url(#bl)"/><path d="M356.7 291.6L354.5 291.3 352.3 290.9 350.1 290.5 348 290.2 345.9 289.8 343.8 289.4 341.7 289 339.7 288.6 337.8 288.2 335.8 287.8 333.9 287.3 332 286.9 330.2 286.5 328.4 286 326.6 285.6 324.9 285.1 323.2 284.7 321.5 284.2 319.9 283.7 318.3 283.2 316.8 282.7 315.3 282.2 313.8 281.7 312.4 281.2 311 280.7 309.7 280.2 308.4 279.7 307.1 279.1 305.9 278.6 304.7 278 303.6 277.5 302.5 276.9 301.4 276.4 300.4 275.8 299.4 275.2 298.5 274.6 297.6 274 296.8 273.4 295.9 272.8 295.2 272.2 294.4 271.5 293.8 270.9 293.1 270.2 292.5 269.5 291.9 268.7 291.4 268 291 267.2 290.6 266.4 290.2 265.6 289.9 264.8 289.7 263.9 289.6 263 289.5 262" stroke="url(#g14)" stroke-width="19.0" filter="url(#bl)"/><path d="M626.2 263.4L625.9 264.5 625.4 266.1 624.8 267.6 624.1 269.1 623.4 270.4 622.6 271.7 621.7 272.9 620.8 274.1 619.8 275.1 618.8 276.2 617.8 277.1 616.7 278.1 615.7 279 614.5 279.8 613.4 280.6 612.2 281.4 611 282.2 609.8 282.9 608.6 283.6 607.3 284.3 606 285 604.6 285.7 603.2 286.3" stroke="url(#g48)" stroke-width="4"/></g>
<g stroke="#222" stroke-width="2" fill="none">
<path d="M277 162V252M277 176.5H657M632 176.5V247M209 214H354M202 907H347M246 226V892M606 559H694M594 634H694M659 573V623"/>
</g>
<g fill="#111">
<path d="M246 221l-3.5 7.5h7z M246 897l-3.5-7.5h7z M659 567l-3.5 7.5h7z M659 629l-3.5-7.5h7z"/>
</g>
</svg>
<div class="t" id="od" style="left:288px;top:117px;font-size:46px;letter-spacing:4.45px;-webkit-text-stroke:1.1px #000;transform:scaleX(1.04);transform-origin:0 0;">Outer Diameter</div>
<div class="t" id="ln" style="left:75px;top:538px;font-size:45px;letter-spacing:3.3px;-webkit-text-stroke:1.1px #000;transform:scaleX(1.08);transform-origin:0 0;">Length</div>
<div class="t" id="wd" style="left:681px;top:579px;font-size:37px;letter-spacing:3.3px;-webkit-text-stroke:1.5px #000;transform:scaleX(1.04);transform-origin:0 0;">Wire Diameter</div>
</body></html>
